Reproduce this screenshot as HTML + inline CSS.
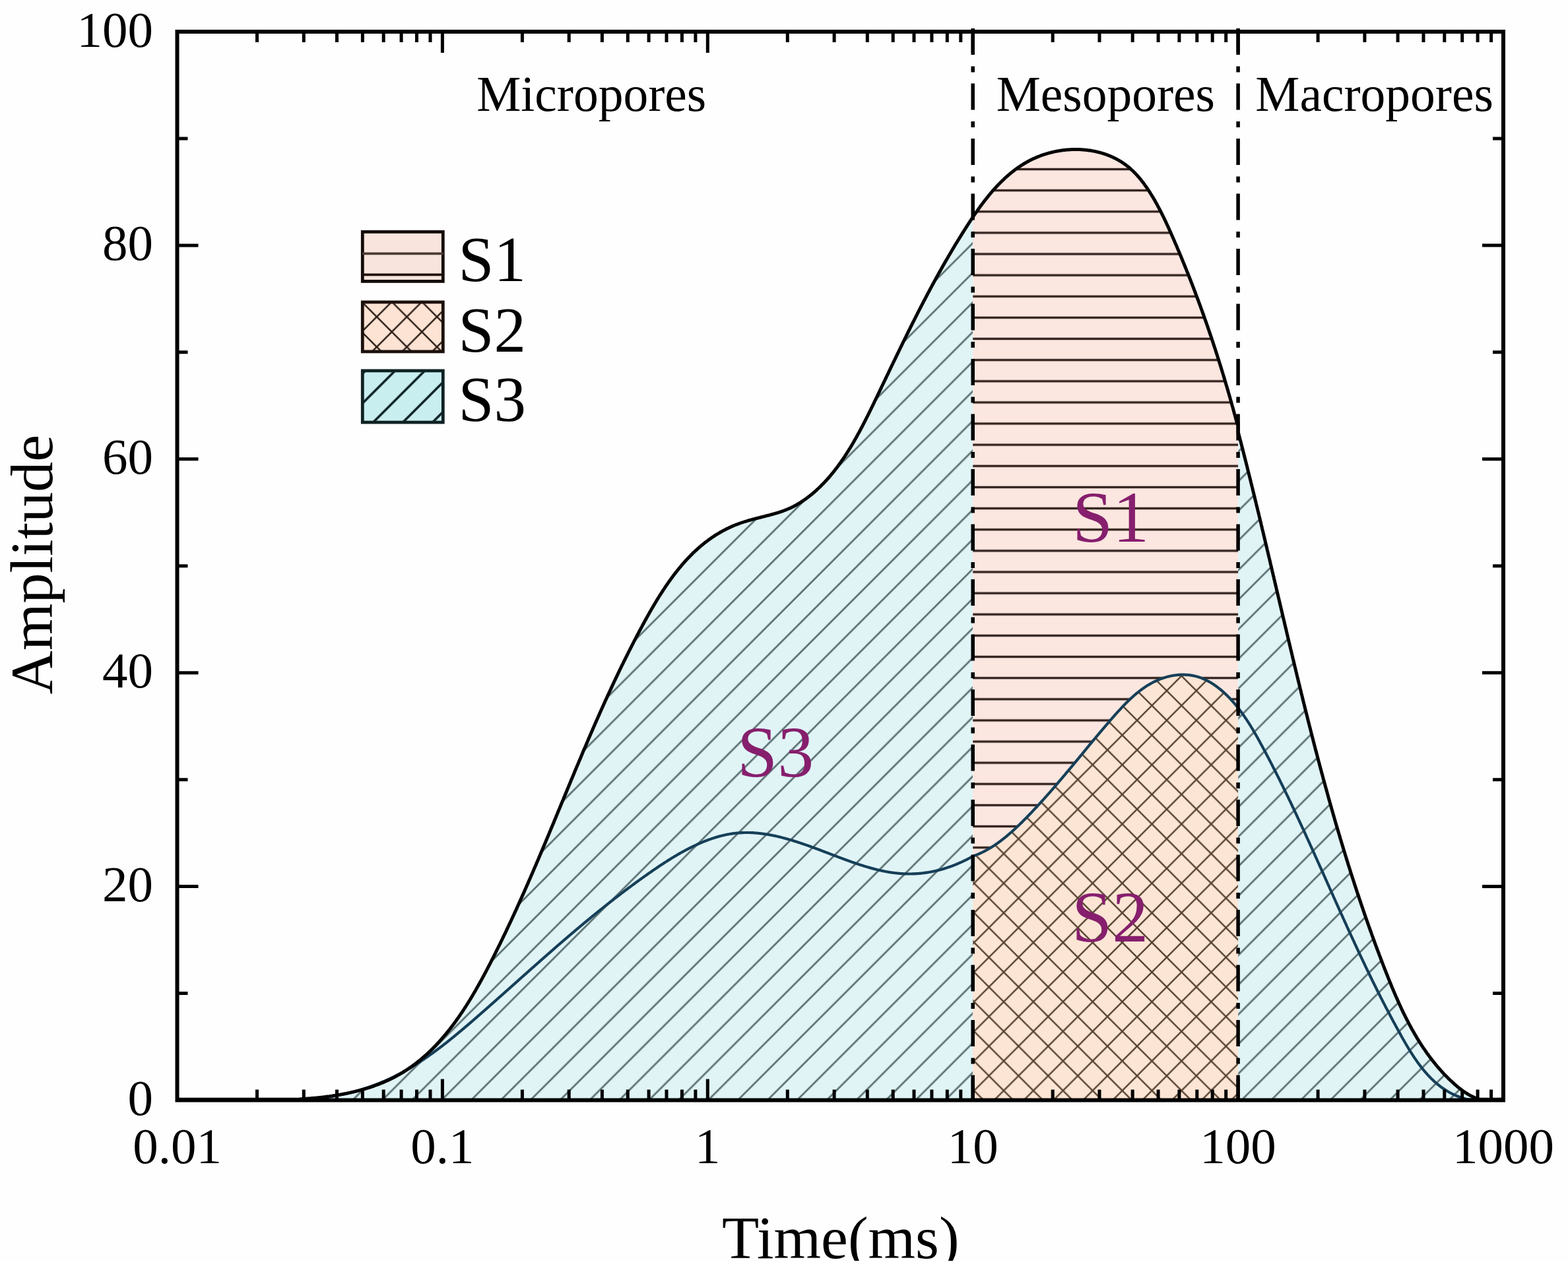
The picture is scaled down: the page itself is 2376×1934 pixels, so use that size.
<!DOCTYPE html>
<html><head><meta charset="utf-8"><style>
html,body{margin:0;padding:0;background:#fff;}
svg{display:block;}
text{font-family:"Liberation Serif","Times New Roman",serif;}
</style></head><body>
<svg width="2376" height="1934" viewBox="0 0 2376 1934" xmlns="http://www.w3.org/2000/svg">
<defs>
<pattern id="p3" patternUnits="userSpaceOnUse" width="44.9" height="44.9" x="1.7" y="0">
<rect width="44.9" height="44.9" fill="#e0f4f6"/>
<path d="M-5,5 L5,-5 M-5,49.9 L49.9,-5 M39.9,49.9 L49.9,39.9" stroke="#5c7173" stroke-width="2.8" fill="none"/>
</pattern>
<pattern id="p1" patternUnits="userSpaceOnUse" width="100" height="32.13" x="0" y="15.52">
<rect width="100" height="32.13" fill="#fbe6e0"/>
<line x1="0" y1="16.065" x2="100" y2="16.065" stroke="#33231f" stroke-width="3.4"/>
</pattern>
<pattern id="p2" patternUnits="userSpaceOnUse" width="44.9" height="44.9" x="16.8" y="14.2">
<rect width="44.9" height="44.9" fill="#fce5d5"/>
<path d="M-5,-5 L49.9,49.9 M-5,5 L5,-5 M-5,49.9 L49.9,-5 M39.9,49.9 L49.9,39.9" stroke="#54422f" stroke-width="2.4" fill="none"/>
</pattern>
<pattern id="lp3" patternUnits="userSpaceOnUse" width="45" height="45" x="35.60" y="0">
<rect width="45" height="45" fill="#c9eef0"/>
<path d="M-5,5 L5,-5 M-5,50 L50,-5 M40,50 L50,40" stroke="#0f2224" stroke-width="3.6" fill="none"/>
</pattern>
<pattern id="lp2" patternUnits="userSpaceOnUse" width="45.6" height="45.6" x="23.70" y="24.20">
<rect width="45.6" height="45.6" fill="#fde3d3"/>
<path d="M-5,-5 L50.6,50.6 M-5,5 L5,-5 M-5,50.6 L50.6,-5 M40.6,50.6 L50.6,40.6" stroke="#2e2019" stroke-width="2.6" fill="none"/>
</pattern>
</defs>
<rect x="0" y="0" width="2376" height="1934" fill="#fefefe"/>
<path d="M268.5,1667.5 L268.5,1666.3 L299.6,1666.3 L301.3,1666.3 L302.9,1666.3 L304.5,1666.3 L306.1,1666.3 L307.8,1666.3 L309.4,1666.3 L311.0,1666.3 L312.6,1666.3 L314.2,1666.3 L315.8,1666.3 L317.4,1666.3 L319.0,1666.3 L320.6,1666.3 L322.2,1666.3 L323.7,1666.3 L325.3,1666.3 L326.9,1666.3 L328.5,1666.3 L330.1,1666.3 L331.6,1666.3 L333.2,1666.3 L334.8,1666.3 L336.3,1666.3 L337.9,1666.3 L339.5,1666.3 L341.0,1666.3 L342.6,1666.3 L344.1,1666.3 L345.7,1666.3 L347.2,1666.3 L348.8,1666.3 L350.3,1666.3 L351.9,1666.3 L353.4,1666.3 L354.9,1666.3 L356.5,1666.3 L358.0,1666.3 L359.5,1666.3 L361.1,1666.3 L362.6,1666.3 L364.1,1666.3 L365.7,1666.3 L367.2,1666.3 L368.7,1666.3 L370.2,1666.3 L371.8,1666.3 L373.3,1666.3 L374.8,1666.3 L376.3,1666.3 L377.8,1666.3 L379.4,1666.3 L380.9,1666.3 L382.4,1666.3 L383.9,1666.3 L385.4,1666.3 L386.9,1666.3 L388.4,1666.3 L389.9,1666.3 L391.5,1666.3 L393.0,1666.3 L394.5,1666.3 L396.0,1666.3 L397.5,1666.3 L399.0,1666.3 L400.5,1666.3 L402.0,1666.3 L403.5,1666.3 L405.0,1666.3 L406.6,1666.3 L408.1,1666.3 L409.6,1666.3 L411.1,1666.3 L412.6,1666.3 L414.1,1666.3 L415.6,1666.3 L417.1,1666.3 L418.6,1666.3 L420.1,1666.3 L421.7,1666.3 L423.2,1666.3 L424.7,1666.3 L426.2,1666.3 L427.7,1666.3 L429.2,1666.3 L430.7,1666.3 L432.3,1666.3 L433.8,1666.3 L435.3,1666.3 L436.8,1666.3 L438.3,1666.3 L439.9,1666.3 L441.4,1666.3 L442.9,1666.3 L444.5,1666.3 L446.0,1666.3 L447.5,1666.3 L449.0,1666.3 L450.6,1666.3 L452.1,1666.3 L453.6,1666.3 L455.2,1665.8 L456.7,1665.7 L458.3,1665.6 L459.8,1665.5 L461.4,1665.4 L462.9,1665.3 L464.5,1665.2 L466.0,1665.1 L467.6,1665.0 L469.1,1664.9 L470.7,1664.7 L472.2,1664.6 L473.8,1664.5 L475.4,1664.3 L476.9,1664.2 L478.5,1664.1 L480.1,1663.9 L481.7,1663.7 L483.2,1663.6 L484.8,1663.4 L486.4,1663.2 L488.0,1663.1 L489.5,1662.9 L491.1,1662.7 L492.7,1662.5 L494.3,1662.3 L495.9,1662.1 L497.4,1661.9 L499.0,1661.7 L500.6,1661.4 L502.2,1661.2 L503.8,1661.0 L505.4,1660.7 L506.9,1660.5 L508.5,1660.3 L510.1,1660.0 L511.7,1659.7 L513.3,1659.5 L514.8,1659.2 L516.4,1658.9 L518.0,1658.6 L519.6,1658.3 L521.1,1658.0 L522.7,1657.7 L524.3,1657.4 L525.8,1657.1 L527.4,1656.8 L529.0,1656.4 L530.5,1656.1 L532.1,1655.7 L533.7,1655.4 L535.2,1655.0 L536.8,1654.7 L538.3,1654.3 L539.9,1653.9 L541.4,1653.5 L542.9,1653.1 L544.5,1652.7 L546.0,1652.3 L547.6,1651.9 L549.1,1651.5 L550.6,1651.0 L552.1,1650.6 L553.6,1650.1 L555.2,1649.7 L556.7,1649.2 L558.2,1648.8 L559.7,1648.3 L561.2,1647.8 L562.7,1647.3 L564.2,1646.8 L565.6,1646.3 L567.1,1645.8 L568.6,1645.2 L570.1,1644.7 L571.5,1644.2 L573.0,1643.6 L574.4,1643.1 L575.9,1642.5 L577.3,1641.9 L578.8,1641.3 L580.2,1640.8 L581.6,1640.2 L583.0,1639.5 L584.5,1638.9 L585.9,1638.3 L587.3,1637.7 L588.7,1637.0 L590.0,1636.4 L591.4,1635.7 L592.8,1635.0 L594.2,1634.4 L595.5,1633.7 L596.9,1633.0 L598.2,1632.3 L599.6,1631.6 L600.9,1630.8 L602.2,1630.1 L603.5,1629.4 L604.9,1628.6 L606.2,1627.9 L607.5,1627.1 L608.8,1626.3 L610.0,1625.6 L611.3,1624.8 L612.6,1624.0 L613.9,1623.2 L615.1,1622.4 L616.4,1621.5 L617.6,1620.7 L618.9,1619.9 L620.1,1619.0 L621.4,1618.2 L622.6,1617.3 L623.8,1616.4 L625.0,1615.6 L626.2,1614.7 L627.4,1613.8 L628.6,1612.9 L629.8,1612.0 L631.0,1611.1 L632.2,1610.2 L633.3,1609.2 L634.5,1608.3 L635.7,1607.4 L636.8,1606.4 L638.0,1605.5 L639.1,1604.5 L640.2,1603.5 L641.4,1602.6 L642.5,1601.6 L643.6,1600.6 L644.7,1599.6 L645.9,1598.6 L647.0,1597.6 L648.1,1596.6 L649.2,1595.5 L650.2,1594.5 L651.3,1593.5 L652.4,1592.4 L653.5,1591.4 L654.6,1590.3 L655.6,1589.3 L656.7,1588.2 L657.7,1587.1 L658.8,1586.1 L659.8,1585.0 L660.9,1583.9 L661.9,1582.8 L662.9,1581.7 L663.9,1580.6 L665.0,1579.5 L666.0,1578.4 L667.0,1577.2 L668.0,1576.1 L669.0,1575.0 L670.0,1573.8 L671.0,1572.7 L672.0,1571.5 L672.9,1570.4 L673.9,1569.2 L674.9,1568.1 L675.9,1566.9 L676.8,1565.7 L677.8,1564.5 L678.7,1563.4 L679.7,1562.2 L680.6,1561.0 L681.6,1559.8 L682.5,1558.6 L683.5,1557.4 L684.4,1556.1 L685.3,1554.9 L686.2,1553.7 L687.2,1552.5 L688.1,1551.2 L689.0,1550.0 L689.9,1548.8 L690.8,1547.5 L691.7,1546.3 L692.6,1545.0 L693.5,1543.8 L694.4,1542.5 L695.2,1541.2 L696.1,1540.0 L697.0,1538.7 L697.9,1537.4 L698.7,1536.2 L699.6,1534.9 L700.5,1533.6 L701.3,1532.3 L702.2,1531.0 L703.0,1529.7 L703.9,1528.4 L704.7,1527.1 L705.6,1525.8 L706.4,1524.5 L707.2,1523.2 L708.1,1521.9 L708.9,1520.5 L709.7,1519.2 L710.5,1517.9 L711.4,1516.6 L712.2,1515.2 L713.0,1513.9 L713.8,1512.6 L714.6,1511.2 L715.4,1509.9 L716.2,1508.5 L717.0,1507.2 L717.8,1505.8 L718.6,1504.5 L719.4,1503.1 L720.2,1501.8 L721.0,1500.4 L721.7,1499.1 L722.5,1497.7 L723.3,1496.3 L724.1,1495.0 L724.8,1493.6 L725.6,1492.2 L726.4,1490.8 L727.1,1489.5 L727.9,1488.1 L728.7,1486.7 L729.4,1485.3 L730.2,1484.0 L730.9,1482.6 L731.7,1481.2 L732.4,1479.8 L733.2,1478.4 L733.9,1477.0 L734.7,1475.6 L735.4,1474.3 L736.1,1472.9 L736.9,1471.5 L737.6,1470.1 L738.3,1468.7 L739.1,1467.3 L739.8,1465.9 L740.5,1464.5 L741.2,1463.1 L742.0,1461.7 L742.7,1460.3 L743.4,1458.9 L744.1,1457.5 L744.8,1456.1 L745.5,1454.7 L746.3,1453.3 L747.0,1451.9 L747.7,1450.5 L748.4,1449.1 L749.1,1447.7 L749.8,1446.3 L750.5,1444.9 L751.2,1443.4 L751.9,1442.0 L752.6,1440.6 L753.3,1439.2 L754.0,1437.8 L754.7,1436.4 L755.4,1435.0 L756.1,1433.6 L756.8,1432.2 L757.5,1430.8 L758.2,1429.4 L758.8,1428.0 L759.5,1426.6 L760.2,1425.2 L760.9,1423.8 L761.6,1422.3 L762.3,1420.9 L762.9,1419.5 L763.6,1418.1 L764.3,1416.7 L765.0,1415.3 L765.7,1413.9 L766.3,1412.5 L767.0,1411.1 L767.7,1409.7 L768.3,1408.2 L769.0,1406.8 L769.7,1405.4 L770.3,1404.0 L771.0,1402.6 L771.7,1401.2 L772.3,1399.8 L773.0,1398.4 L773.7,1397.0 L774.3,1395.5 L775.0,1394.1 L775.6,1392.7 L776.3,1391.3 L776.9,1389.9 L777.6,1388.5 L778.3,1387.1 L778.9,1385.6 L779.6,1384.2 L780.2,1382.8 L780.9,1381.4 L781.5,1380.0 L782.2,1378.6 L782.8,1377.2 L783.4,1375.7 L784.1,1374.3 L784.7,1372.9 L785.4,1371.5 L786.0,1370.1 L786.7,1368.7 L787.3,1367.3 L787.9,1365.8 L788.6,1364.4 L789.2,1363.0 L789.8,1361.6 L790.5,1360.2 L791.1,1358.7 L791.7,1357.3 L792.4,1355.9 L793.0,1354.5 L793.6,1353.1 L794.3,1351.7 L794.9,1350.2 L795.5,1348.8 L796.1,1347.4 L796.8,1346.0 L797.4,1344.6 L798.0,1343.2 L798.6,1341.7 L799.3,1340.3 L799.9,1338.9 L800.5,1337.5 L801.1,1336.1 L801.7,1334.6 L802.4,1333.2 L803.0,1331.8 L803.6,1330.4 L804.2,1329.0 L804.8,1327.5 L805.4,1326.1 L806.1,1324.7 L806.7,1323.3 L807.3,1321.9 L807.9,1320.4 L808.5,1319.0 L809.1,1317.6 L809.7,1316.2 L810.3,1314.8 L811.0,1313.3 L811.6,1311.9 L812.2,1310.5 L812.8,1309.1 L813.4,1307.6 L814.0,1306.2 L814.6,1304.8 L815.2,1303.4 L815.8,1302.0 L816.4,1300.5 L817.0,1299.1 L817.6,1297.7 L818.2,1296.3 L818.8,1294.9 L819.4,1293.4 L820.0,1292.0 L820.6,1290.6 L821.2,1289.2 L821.8,1287.7 L822.4,1286.3 L823.0,1284.9 L823.6,1283.5 L824.2,1282.1 L824.8,1280.6 L825.4,1279.2 L826.0,1277.8 L826.6,1276.4 L827.2,1274.9 L827.8,1273.5 L828.4,1272.1 L829.0,1270.7 L829.6,1269.3 L830.2,1267.8 L830.8,1266.4 L831.4,1265.0 L832.0,1263.6 L832.6,1262.1 L833.1,1260.7 L833.7,1259.3 L834.3,1257.9 L834.9,1256.4 L835.5,1255.0 L836.1,1253.6 L836.7,1252.2 L837.3,1250.8 L837.9,1249.3 L838.5,1247.9 L839.1,1246.5 L839.6,1245.1 L840.2,1243.6 L840.8,1242.2 L841.4,1240.8 L842.0,1239.4 L842.6,1238.0 L843.2,1236.5 L843.8,1235.1 L844.4,1233.7 L844.9,1232.3 L845.5,1230.8 L846.1,1229.4 L846.7,1228.0 L847.3,1226.6 L847.9,1225.2 L848.5,1223.7 L849.1,1222.3 L849.6,1220.9 L850.2,1219.5 L850.8,1218.0 L851.4,1216.6 L852.0,1215.2 L852.6,1213.8 L853.2,1212.4 L853.8,1210.9 L854.3,1209.5 L854.9,1208.1 L855.5,1206.7 L856.1,1205.2 L856.7,1203.8 L857.3,1202.4 L857.9,1201.0 L858.5,1199.6 L859.1,1198.1 L859.6,1196.7 L860.2,1195.3 L860.8,1193.9 L861.4,1192.5 L862.0,1191.0 L862.6,1189.6 L863.2,1188.2 L863.8,1186.8 L864.4,1185.3 L864.9,1183.9 L865.5,1182.5 L866.1,1181.1 L866.7,1179.7 L867.3,1178.2 L867.9,1176.8 L868.5,1175.4 L869.1,1174.0 L869.7,1172.6 L870.3,1171.1 L870.8,1169.7 L871.4,1168.3 L872.0,1166.9 L872.6,1165.5 L873.2,1164.1 L873.8,1162.6 L874.4,1161.2 L875.0,1159.8 L875.6,1158.4 L876.2,1157.0 L876.8,1155.5 L877.4,1154.1 L878.0,1152.7 L878.6,1151.3 L879.2,1149.9 L879.8,1148.5 L880.4,1147.0 L881.0,1145.6 L881.6,1144.2 L882.1,1142.8 L882.7,1141.4 L883.3,1139.9 L883.9,1138.5 L884.5,1137.1 L885.1,1135.7 L885.7,1134.3 L886.4,1132.9 L887.0,1131.5 L887.6,1130.0 L888.2,1128.6 L888.8,1127.2 L889.4,1125.8 L890.0,1124.4 L890.6,1123.0 L891.2,1121.5 L891.8,1120.1 L892.4,1118.7 L893.0,1117.3 L893.6,1115.9 L894.2,1114.5 L894.8,1113.1 L895.4,1111.7 L896.0,1110.2 L896.7,1108.8 L897.3,1107.4 L897.9,1106.0 L898.5,1104.6 L899.1,1103.2 L899.7,1101.8 L900.3,1100.4 L901.0,1098.9 L901.6,1097.5 L902.2,1096.1 L902.8,1094.7 L903.4,1093.3 L904.0,1091.9 L904.7,1090.5 L905.3,1089.1 L905.9,1087.7 L906.5,1086.2 L907.2,1084.8 L907.8,1083.4 L908.4,1082.0 L909.0,1080.6 L909.7,1079.2 L910.3,1077.8 L910.9,1076.4 L911.5,1075.0 L912.2,1073.6 L912.8,1072.2 L913.4,1070.8 L914.1,1069.4 L914.7,1067.9 L915.3,1066.5 L916.0,1065.1 L916.6,1063.7 L917.2,1062.3 L917.9,1060.9 L918.5,1059.5 L919.2,1058.1 L919.8,1056.7 L920.4,1055.3 L921.1,1053.9 L921.7,1052.5 L922.4,1051.1 L923.0,1049.7 L923.7,1048.3 L924.3,1046.9 L925.0,1045.5 L925.6,1044.1 L926.3,1042.7 L926.9,1041.3 L927.6,1039.9 L928.2,1038.5 L928.9,1037.1 L929.5,1035.7 L930.2,1034.3 L930.8,1032.9 L931.5,1031.5 L932.2,1030.1 L932.8,1028.7 L933.5,1027.3 L934.2,1025.9 L934.8,1024.5 L935.5,1023.1 L936.2,1021.7 L936.8,1020.3 L937.5,1018.9 L938.2,1017.5 L938.8,1016.1 L939.5,1014.7 L940.2,1013.3 L940.9,1011.9 L941.5,1010.5 L942.2,1009.1 L942.9,1007.7 L943.6,1006.4 L944.3,1005.0 L944.9,1003.6 L945.6,1002.2 L946.3,1000.8 L947.0,999.4 L947.7,998.0 L948.4,996.6 L949.1,995.2 L949.8,993.8 L950.5,992.4 L951.2,991.1 L951.9,989.7 L952.5,988.3 L953.2,986.9 L954.0,985.5 L954.7,984.1 L955.4,982.7 L956.1,981.3 L956.8,980.0 L957.5,978.6 L958.2,977.2 L958.9,975.8 L959.6,974.4 L960.3,973.0 L961.0,971.6 L961.8,970.3 L962.5,968.9 L963.2,967.5 L963.9,966.1 L964.6,964.7 L965.4,963.3 L966.1,962.0 L966.8,960.6 L967.6,959.2 L968.3,957.8 L969.0,956.4 L969.7,955.1 L970.5,953.7 L971.2,952.3 L972.0,950.9 L972.7,949.6 L973.4,948.2 L974.2,946.8 L974.9,945.4 L975.7,944.1 L976.4,942.7 L977.2,941.3 L977.9,939.9 L978.7,938.6 L979.4,937.2 L980.2,935.8 L981.0,934.5 L981.7,933.1 L982.5,931.7 L983.3,930.4 L984.0,929.0 L984.8,927.6 L985.6,926.3 L986.4,924.9 L987.1,923.6 L987.9,922.2 L988.7,920.9 L989.5,919.5 L990.3,918.2 L991.1,916.8 L991.9,915.5 L992.7,914.1 L993.5,912.8 L994.3,911.5 L995.1,910.1 L995.9,908.8 L996.7,907.5 L997.5,906.1 L998.4,904.8 L999.2,903.5 L1000.0,902.2 L1000.8,900.9 L1001.7,899.6 L1002.5,898.3 L1003.4,897.0 L1004.2,895.7 L1005.0,894.4 L1005.9,893.1 L1006.8,891.8 L1007.6,890.5 L1008.5,889.2 L1009.3,887.9 L1010.2,886.7 L1011.1,885.4 L1012.0,884.1 L1012.8,882.9 L1013.7,881.6 L1014.6,880.4 L1015.5,879.1 L1016.4,877.9 L1017.3,876.6 L1018.2,875.4 L1019.1,874.2 L1020.0,872.9 L1021.0,871.7 L1021.9,870.5 L1022.8,869.3 L1023.7,868.1 L1024.7,866.9 L1025.6,865.7 L1026.6,864.5 L1027.5,863.3 L1028.5,862.1 L1029.4,861.0 L1030.4,859.8 L1031.4,858.6 L1032.4,857.5 L1033.3,856.3 L1034.3,855.2 L1035.3,854.0 L1036.3,852.9 L1037.3,851.8 L1038.3,850.6 L1039.3,849.5 L1040.3,848.4 L1041.4,847.3 L1042.4,846.2 L1043.4,845.1 L1044.5,844.1 L1045.5,843.0 L1046.6,841.9 L1047.6,840.8 L1048.7,839.8 L1049.7,838.7 L1050.8,837.7 L1051.9,836.7 L1053.0,835.6 L1054.1,834.6 L1055.2,833.6 L1056.3,832.6 L1057.4,831.6 L1058.5,830.6 L1059.6,829.6 L1060.7,828.7 L1061.9,827.7 L1063.0,826.7 L1064.2,825.8 L1065.3,824.8 L1066.5,823.9 L1067.6,823.0 L1068.8,822.1 L1070.0,821.2 L1071.2,820.3 L1072.4,819.4 L1073.5,818.5 L1074.8,817.6 L1076.0,816.7 L1077.2,815.9 L1078.4,815.0 L1079.6,814.2 L1080.9,813.4 L1082.1,812.5 L1083.4,811.7 L1084.6,810.9 L1085.9,810.1 L1087.2,809.3 L1088.5,808.6 L1089.8,807.8 L1091.1,807.0 L1092.4,806.3 L1093.7,805.6 L1095.0,804.8 L1096.3,804.1 L1097.7,803.4 L1099.0,802.7 L1100.3,802.0 L1101.7,801.3 L1103.1,800.7 L1104.4,800.0 L1105.8,799.4 L1107.2,798.7 L1108.6,798.1 L1110.0,797.5 L1111.4,796.9 L1112.8,796.3 L1114.3,795.7 L1115.7,795.2 L1117.2,794.6 L1118.6,794.1 L1120.1,793.5 L1121.5,793.0 L1123.0,792.5 L1124.5,792.0 L1126.0,791.5 L1127.5,791.0 L1129.0,790.5 L1130.5,790.1 L1132.1,789.6 L1133.6,789.2 L1135.1,788.7 L1136.7,788.3 L1138.2,787.9 L1139.8,787.4 L1141.3,787.0 L1142.9,786.6 L1144.4,786.2 L1146.0,785.8 L1147.6,785.4 L1149.1,785.0 L1150.7,784.6 L1152.3,784.2 L1153.9,783.8 L1155.4,783.4 L1157.0,783.0 L1158.6,782.6 L1160.1,782.2 L1161.7,781.8 L1163.3,781.4 L1164.8,781.0 L1166.4,780.6 L1167.9,780.2 L1169.5,779.7 L1171.1,779.3 L1172.6,778.9 L1174.1,778.4 L1175.7,778.0 L1177.2,777.5 L1178.7,777.1 L1180.2,776.6 L1181.7,776.1 L1183.3,775.6 L1184.7,775.1 L1186.2,774.6 L1187.7,774.0 L1189.2,773.5 L1190.6,772.9 L1192.1,772.3 L1193.5,771.7 L1194.9,771.1 L1196.4,770.5 L1197.8,769.9 L1199.2,769.2 L1200.5,768.5 L1201.9,767.9 L1203.3,767.2 L1204.6,766.4 L1206.0,765.7 L1207.3,765.0 L1208.6,764.2 L1209.9,763.4 L1211.2,762.6 L1212.5,761.9 L1213.8,761.0 L1215.1,760.2 L1216.3,759.4 L1217.6,758.5 L1218.8,757.7 L1220.1,756.8 L1221.3,755.9 L1222.5,755.0 L1223.7,754.1 L1224.9,753.2 L1226.1,752.3 L1227.3,751.4 L1228.5,750.4 L1229.6,749.5 L1230.8,748.5 L1232.0,747.5 L1233.1,746.6 L1234.2,745.6 L1235.4,744.6 L1236.5,743.6 L1237.6,742.6 L1238.7,741.5 L1239.8,740.5 L1240.9,739.5 L1242.0,738.4 L1243.1,737.4 L1244.2,736.3 L1245.2,735.2 L1246.3,734.2 L1247.4,733.1 L1248.4,732.0 L1249.5,730.9 L1250.5,729.8 L1251.5,728.7 L1252.5,727.6 L1253.6,726.4 L1254.6,725.3 L1255.6,724.1 L1256.6,723.0 L1257.6,721.8 L1258.5,720.7 L1259.5,719.5 L1260.5,718.3 L1261.5,717.2 L1262.4,716.0 L1263.4,714.8 L1264.3,713.6 L1265.3,712.4 L1266.2,711.1 L1267.2,709.9 L1268.1,708.7 L1269.0,707.5 L1269.9,706.2 L1270.8,705.0 L1271.7,703.7 L1272.6,702.5 L1273.5,701.2 L1274.4,700.0 L1275.3,698.7 L1276.2,697.4 L1277.1,696.1 L1277.9,694.9 L1278.8,693.6 L1279.7,692.3 L1280.5,691.0 L1281.4,689.7 L1282.2,688.4 L1283.1,687.1 L1283.9,685.7 L1284.8,684.4 L1285.6,683.1 L1286.4,681.8 L1287.2,680.4 L1288.1,679.1 L1288.9,677.8 L1289.7,676.4 L1290.5,675.1 L1291.3,673.7 L1292.1,672.4 L1292.9,671.0 L1293.7,669.6 L1294.5,668.3 L1295.2,666.9 L1296.0,665.5 L1296.8,664.2 L1297.6,662.8 L1298.3,661.4 L1299.1,660.0 L1299.9,658.6 L1300.6,657.2 L1301.4,655.9 L1302.2,654.5 L1302.9,653.1 L1303.7,651.7 L1304.4,650.3 L1305.1,648.9 L1305.9,647.5 L1306.6,646.1 L1307.4,644.6 L1308.1,643.2 L1308.8,641.8 L1309.5,640.4 L1310.3,639.0 L1311.0,637.6 L1311.7,636.2 L1312.4,634.8 L1313.1,633.3 L1313.9,631.9 L1314.6,630.5 L1315.3,629.1 L1316.0,627.7 L1316.7,626.2 L1317.4,624.8 L1318.1,623.4 L1318.8,622.0 L1319.5,620.5 L1320.2,619.1 L1320.9,617.7 L1321.6,616.3 L1322.3,614.8 L1323.0,613.4 L1323.7,612.0 L1324.4,610.6 L1325.0,609.1 L1325.7,607.7 L1326.4,606.3 L1327.1,604.9 L1327.8,603.4 L1328.5,602.0 L1329.2,600.6 L1329.8,599.2 L1330.5,597.8 L1331.2,596.3 L1331.9,594.9 L1332.6,593.5 L1333.2,592.1 L1333.9,590.7 L1334.6,589.3 L1335.3,587.9 L1335.9,586.4 L1336.6,585.0 L1337.3,583.6 L1338.0,582.2 L1338.6,580.8 L1339.3,579.4 L1340.0,578.0 L1340.7,576.6 L1341.3,575.2 L1342.0,573.8 L1342.7,572.4 L1343.3,571.0 L1344.0,569.6 L1344.7,568.2 L1345.4,566.8 L1346.0,565.4 L1346.7,564.0 L1347.4,562.6 L1348.0,561.2 L1348.7,559.8 L1349.4,558.4 L1350.0,557.0 L1350.7,555.6 L1351.4,554.2 L1352.0,552.9 L1352.7,551.5 L1353.4,550.1 L1354.0,548.7 L1354.7,547.3 L1355.4,545.9 L1356.1,544.5 L1356.7,543.2 L1357.4,541.8 L1358.1,540.4 L1358.7,539.0 L1359.4,537.6 L1360.1,536.2 L1360.7,534.9 L1361.4,533.5 L1362.1,532.1 L1362.7,530.7 L1363.4,529.4 L1364.1,528.0 L1364.7,526.6 L1365.4,525.2 L1366.1,523.9 L1366.7,522.5 L1367.4,521.1 L1368.1,519.7 L1368.7,518.4 L1369.4,517.0 L1370.1,515.6 L1370.8,514.3 L1371.4,512.9 L1372.1,511.5 L1372.8,510.1 L1373.4,508.8 L1374.1,507.4 L1374.8,506.0 L1375.5,504.7 L1376.1,503.3 L1376.8,502.0 L1377.5,500.6 L1378.2,499.2 L1378.8,497.9 L1379.5,496.5 L1380.2,495.1 L1380.9,493.8 L1381.6,492.4 L1382.2,491.1 L1382.9,489.7 L1383.6,488.3 L1384.3,487.0 L1385.0,485.6 L1385.6,484.3 L1386.3,482.9 L1387.0,481.6 L1387.7,480.2 L1388.4,478.9 L1389.1,477.5 L1389.8,476.1 L1390.4,474.8 L1391.1,473.4 L1391.8,472.1 L1392.5,470.7 L1393.2,469.4 L1393.9,468.0 L1394.6,466.7 L1395.3,465.3 L1396.0,464.0 L1396.7,462.6 L1397.4,461.3 L1398.1,459.9 L1398.8,458.6 L1399.5,457.2 L1400.2,455.9 L1400.9,454.5 L1401.6,453.2 L1402.3,451.9 L1403.0,450.5 L1403.7,449.2 L1404.4,447.8 L1405.1,446.5 L1405.8,445.1 L1406.6,443.8 L1407.3,442.4 L1408.0,441.1 L1408.7,439.8 L1409.4,438.4 L1410.1,437.1 L1410.9,435.7 L1411.6,434.4 L1412.3,433.0 L1413.0,431.7 L1413.7,430.4 L1414.5,429.0 L1415.2,427.7 L1415.9,426.3 L1416.7,425.0 L1417.4,423.7 L1418.1,422.3 L1418.9,421.0 L1419.6,419.6 L1420.3,418.3 L1421.1,417.0 L1421.8,415.6 L1422.6,414.3 L1423.3,412.9 L1424.1,411.6 L1424.8,410.3 L1425.6,408.9 L1426.3,407.6 L1427.1,406.3 L1427.8,404.9 L1428.6,403.6 L1429.3,402.2 L1430.1,400.9 L1430.9,399.6 L1431.6,398.2 L1432.4,396.9 L1433.2,395.6 L1433.9,394.2 L1434.7,392.9 L1435.5,391.6 L1436.3,390.2 L1437.0,388.9 L1437.8,387.5 L1438.6,386.2 L1439.4,384.9 L1440.2,383.5 L1441.0,382.2 L1441.7,380.9 L1442.5,379.5 L1443.3,378.2 L1444.1,376.9 L1444.9,375.5 L1445.7,374.2 L1446.5,372.8 L1447.3,371.5 L1448.1,370.2 L1448.9,368.8 L1449.8,367.5 L1450.6,366.2 L1451.4,364.8 L1452.2,363.5 L1453.0,362.2 L1453.8,360.8 L1454.7,359.5 L1455.5,358.2 L1456.3,356.8 L1457.2,355.5 L1458.0,354.1 L1458.8,352.8 L1459.7,351.5 L1460.5,350.1 L1461.4,348.8 L1462.2,347.5 L1463.1,346.1 L1463.9,344.8 L1464.8,343.5 L1465.6,342.1 L1466.5,340.8 L1467.3,339.5 L1468.2,338.1 L1469.1,336.8 L1469.9,335.5 L1470.8,334.1 L1471.7,332.8 L1472.6,331.5 L1473.5,330.2 L1474.2,329.1 L1474.2,1667.5 Z" fill="url(#p3)"/>
<path d="M1876.1,1667.5 L1876.1,657.0 L1876.7,656.6 L1877.1,658.2 L1877.5,659.8 L1877.9,661.4 L1878.3,662.9 L1878.7,664.5 L1879.1,666.1 L1879.5,667.6 L1880.0,669.2 L1880.4,670.8 L1880.8,672.4 L1881.2,673.9 L1881.6,675.5 L1882.0,677.1 L1882.4,678.6 L1882.8,680.2 L1883.2,681.8 L1883.6,683.4 L1884.0,684.9 L1884.4,686.5 L1884.8,688.1 L1885.2,689.6 L1885.6,691.2 L1886.0,692.8 L1886.4,694.4 L1886.8,695.9 L1887.2,697.5 L1887.6,699.1 L1888.0,700.6 L1888.4,702.2 L1888.8,703.8 L1889.2,705.4 L1889.6,706.9 L1890.0,708.5 L1890.4,710.1 L1890.7,711.6 L1891.1,713.2 L1891.5,714.8 L1891.9,716.4 L1892.3,717.9 L1892.7,719.5 L1893.1,721.1 L1893.5,722.7 L1893.9,724.2 L1894.3,725.8 L1894.7,727.4 L1895.1,728.9 L1895.4,730.5 L1895.8,732.1 L1896.2,733.7 L1896.6,735.2 L1897.0,736.8 L1897.4,738.4 L1897.8,740.0 L1898.2,741.5 L1898.5,743.1 L1898.9,744.7 L1899.3,746.2 L1899.7,747.8 L1900.1,749.4 L1900.5,751.0 L1900.9,752.5 L1901.2,754.1 L1901.6,755.7 L1902.0,757.3 L1902.4,758.8 L1902.8,760.4 L1903.2,762.0 L1903.5,763.5 L1903.9,765.1 L1904.3,766.7 L1904.7,768.3 L1905.1,769.8 L1905.5,771.4 L1905.8,773.0 L1906.2,774.6 L1906.6,776.1 L1907.0,777.7 L1907.4,779.3 L1907.7,780.8 L1908.1,782.4 L1908.5,784.0 L1908.9,785.6 L1909.3,787.1 L1909.6,788.7 L1910.0,790.3 L1910.4,791.9 L1910.8,793.4 L1911.1,795.0 L1911.5,796.6 L1911.9,798.2 L1912.3,799.7 L1912.6,801.3 L1913.0,802.9 L1913.4,804.4 L1913.8,806.0 L1914.2,807.6 L1914.5,809.2 L1914.9,810.7 L1915.3,812.3 L1915.7,813.9 L1916.0,815.5 L1916.4,817.0 L1916.8,818.6 L1917.1,820.2 L1917.5,821.7 L1917.9,823.3 L1918.3,824.9 L1918.6,826.5 L1919.0,828.0 L1919.4,829.6 L1919.8,831.2 L1920.1,832.8 L1920.5,834.3 L1920.9,835.9 L1921.3,837.5 L1921.6,839.1 L1922.0,840.6 L1922.4,842.2 L1922.7,843.8 L1923.1,845.3 L1923.5,846.9 L1923.9,848.5 L1924.2,850.1 L1924.6,851.6 L1925.0,853.2 L1925.3,854.8 L1925.7,856.4 L1926.1,857.9 L1926.5,859.5 L1926.8,861.1 L1927.2,862.6 L1927.6,864.2 L1927.9,865.8 L1928.3,867.4 L1928.7,868.9 L1929.0,870.5 L1929.4,872.1 L1929.8,873.7 L1930.2,875.2 L1930.5,876.8 L1930.9,878.4 L1931.3,879.9 L1931.6,881.5 L1932.0,883.1 L1932.4,884.7 L1932.7,886.2 L1933.1,887.8 L1933.5,889.4 L1933.9,891.0 L1934.2,892.5 L1934.6,894.1 L1935.0,895.7 L1935.3,897.2 L1935.7,898.8 L1936.1,900.4 L1936.4,902.0 L1936.8,903.5 L1937.2,905.1 L1937.5,906.7 L1937.9,908.2 L1938.3,909.8 L1938.7,911.4 L1939.0,913.0 L1939.4,914.5 L1939.8,916.1 L1940.1,917.7 L1940.5,919.2 L1940.9,920.8 L1941.2,922.4 L1941.6,924.0 L1942.0,925.5 L1942.4,927.1 L1942.7,928.7 L1943.1,930.2 L1943.5,931.8 L1943.8,933.4 L1944.2,935.0 L1944.6,936.5 L1944.9,938.1 L1945.3,939.7 L1945.7,941.2 L1946.1,942.8 L1946.4,944.4 L1946.8,946.0 L1947.2,947.5 L1947.5,949.1 L1947.9,950.7 L1948.3,952.2 L1948.7,953.8 L1949.0,955.4 L1949.4,956.9 L1949.8,958.5 L1950.1,960.1 L1950.5,961.7 L1950.9,963.2 L1951.3,964.8 L1951.6,966.4 L1952.0,967.9 L1952.4,969.5 L1952.7,971.1 L1953.1,972.7 L1953.5,974.2 L1953.9,975.8 L1954.2,977.4 L1954.6,978.9 L1955.0,980.5 L1955.4,982.1 L1955.7,983.6 L1956.1,985.2 L1956.5,986.8 L1956.9,988.3 L1957.2,989.9 L1957.6,991.5 L1958.0,993.1 L1958.4,994.6 L1958.7,996.2 L1959.1,997.8 L1959.5,999.3 L1959.9,1000.9 L1960.2,1002.5 L1960.6,1004.0 L1961.0,1005.6 L1961.4,1007.2 L1961.7,1008.7 L1962.1,1010.3 L1962.5,1011.9 L1962.9,1013.4 L1963.3,1015.0 L1963.6,1016.6 L1964.0,1018.1 L1964.4,1019.7 L1964.8,1021.3 L1965.1,1022.8 L1965.5,1024.4 L1965.9,1026.0 L1966.3,1027.6 L1966.7,1029.1 L1967.0,1030.7 L1967.4,1032.3 L1967.8,1033.8 L1968.2,1035.4 L1968.6,1037.0 L1969.0,1038.5 L1969.3,1040.1 L1969.7,1041.7 L1970.1,1043.2 L1970.5,1044.8 L1970.9,1046.4 L1971.3,1047.9 L1971.6,1049.5 L1972.0,1051.1 L1972.4,1052.6 L1972.8,1054.2 L1973.2,1055.7 L1973.6,1057.3 L1973.9,1058.9 L1974.3,1060.4 L1974.7,1062.0 L1975.1,1063.6 L1975.5,1065.1 L1975.9,1066.7 L1976.3,1068.3 L1976.7,1069.8 L1977.0,1071.4 L1977.4,1073.0 L1977.8,1074.5 L1978.2,1076.1 L1978.6,1077.7 L1979.0,1079.2 L1979.4,1080.8 L1979.8,1082.4 L1980.2,1083.9 L1980.6,1085.5 L1981.0,1087.0 L1981.3,1088.6 L1981.7,1090.2 L1982.1,1091.7 L1982.5,1093.3 L1982.9,1094.9 L1983.3,1096.4 L1983.7,1098.0 L1984.1,1099.6 L1984.5,1101.1 L1984.9,1102.7 L1985.3,1104.2 L1985.7,1105.8 L1986.1,1107.4 L1986.5,1108.9 L1986.9,1110.5 L1987.3,1112.0 L1987.7,1113.6 L1988.1,1115.2 L1988.5,1116.7 L1988.9,1118.3 L1989.3,1119.9 L1989.7,1121.4 L1990.1,1123.0 L1990.5,1124.5 L1990.9,1126.1 L1991.3,1127.7 L1991.7,1129.2 L1992.1,1130.8 L1992.5,1132.3 L1992.9,1133.9 L1993.3,1135.5 L1993.7,1137.0 L1994.1,1138.6 L1994.6,1140.1 L1995.0,1141.7 L1995.4,1143.3 L1995.8,1144.8 L1996.2,1146.4 L1996.6,1147.9 L1997.0,1149.5 L1997.4,1151.1 L1997.8,1152.6 L1998.2,1154.2 L1998.7,1155.7 L1999.1,1157.3 L1999.5,1158.9 L1999.9,1160.4 L2000.3,1162.0 L2000.7,1163.5 L2001.1,1165.1 L2001.6,1166.6 L2002.0,1168.2 L2002.4,1169.8 L2002.8,1171.3 L2003.2,1172.9 L2003.7,1174.4 L2004.1,1176.0 L2004.5,1177.5 L2004.9,1179.1 L2005.3,1180.7 L2005.8,1182.2 L2006.2,1183.8 L2006.6,1185.3 L2007.0,1186.9 L2007.5,1188.4 L2007.9,1190.0 L2008.3,1191.6 L2008.7,1193.1 L2009.2,1194.7 L2009.6,1196.2 L2010.0,1197.8 L2010.5,1199.3 L2010.9,1200.9 L2011.3,1202.4 L2011.7,1204.0 L2012.2,1205.5 L2012.6,1207.1 L2013.0,1208.7 L2013.5,1210.2 L2013.9,1211.8 L2014.3,1213.3 L2014.8,1214.9 L2015.2,1216.4 L2015.7,1218.0 L2016.1,1219.5 L2016.5,1221.1 L2017.0,1222.6 L2017.4,1224.2 L2017.8,1225.7 L2018.3,1227.3 L2018.7,1228.8 L2019.2,1230.4 L2019.6,1231.9 L2020.1,1233.5 L2020.5,1235.1 L2021.0,1236.6 L2021.4,1238.2 L2021.8,1239.7 L2022.3,1241.3 L2022.7,1242.8 L2023.2,1244.4 L2023.6,1245.9 L2024.1,1247.5 L2024.5,1249.0 L2025.0,1250.6 L2025.4,1252.1 L2025.9,1253.7 L2026.4,1255.2 L2026.8,1256.8 L2027.3,1258.3 L2027.7,1259.9 L2028.2,1261.4 L2028.6,1263.0 L2029.1,1264.5 L2029.6,1266.0 L2030.0,1267.6 L2030.5,1269.1 L2030.9,1270.7 L2031.4,1272.2 L2031.9,1273.8 L2032.3,1275.3 L2032.8,1276.9 L2033.3,1278.4 L2033.7,1280.0 L2034.2,1281.5 L2034.7,1283.1 L2035.1,1284.6 L2035.6,1286.2 L2036.1,1287.7 L2036.5,1289.2 L2037.0,1290.8 L2037.5,1292.3 L2038.0,1293.9 L2038.4,1295.4 L2038.9,1297.0 L2039.4,1298.5 L2039.9,1300.1 L2040.3,1301.6 L2040.8,1303.2 L2041.3,1304.7 L2041.8,1306.2 L2042.3,1307.8 L2042.7,1309.3 L2043.2,1310.9 L2043.7,1312.4 L2044.2,1314.0 L2044.7,1315.5 L2045.2,1317.0 L2045.7,1318.6 L2046.1,1320.1 L2046.6,1321.7 L2047.1,1323.2 L2047.6,1324.7 L2048.1,1326.3 L2048.6,1327.8 L2049.1,1329.4 L2049.6,1330.9 L2050.1,1332.5 L2050.6,1334.0 L2051.1,1335.5 L2051.6,1337.1 L2052.1,1338.6 L2052.6,1340.2 L2053.1,1341.7 L2053.6,1343.2 L2054.1,1344.8 L2054.6,1346.3 L2055.1,1347.8 L2055.6,1349.4 L2056.1,1350.9 L2056.6,1352.5 L2057.1,1354.0 L2057.6,1355.5 L2058.2,1357.1 L2058.7,1358.6 L2059.2,1360.1 L2059.7,1361.7 L2060.2,1363.2 L2060.7,1364.8 L2061.2,1366.3 L2061.8,1367.8 L2062.3,1369.4 L2062.8,1370.9 L2063.3,1372.4 L2063.8,1374.0 L2064.4,1375.5 L2064.9,1377.0 L2065.4,1378.6 L2065.9,1380.1 L2066.5,1381.6 L2067.0,1383.2 L2067.5,1384.7 L2068.0,1386.2 L2068.6,1387.8 L2069.1,1389.3 L2069.6,1390.8 L2070.2,1392.4 L2070.7,1393.9 L2071.3,1395.4 L2071.8,1397.0 L2072.3,1398.5 L2072.9,1400.0 L2073.4,1401.6 L2073.9,1403.1 L2074.5,1404.6 L2075.0,1406.2 L2075.6,1407.7 L2076.1,1409.2 L2076.7,1410.7 L2077.2,1412.3 L2077.8,1413.8 L2078.3,1415.3 L2078.9,1416.9 L2079.4,1418.4 L2080.0,1419.9 L2080.5,1421.4 L2081.1,1423.0 L2081.6,1424.5 L2082.2,1426.0 L2082.8,1427.6 L2083.3,1429.1 L2083.9,1430.6 L2084.4,1432.1 L2085.0,1433.7 L2085.6,1435.2 L2086.1,1436.7 L2086.7,1438.2 L2087.3,1439.8 L2087.8,1441.3 L2088.4,1442.8 L2089.0,1444.3 L2089.6,1445.9 L2090.1,1447.4 L2090.7,1448.9 L2091.3,1450.4 L2091.9,1452.0 L2092.4,1453.5 L2093.0,1455.0 L2093.6,1456.5 L2094.2,1458.1 L2094.8,1459.6 L2095.4,1461.1 L2095.9,1462.6 L2096.5,1464.1 L2097.1,1465.7 L2097.7,1467.2 L2098.3,1468.7 L2098.9,1470.2 L2099.5,1471.7 L2100.1,1473.3 L2100.7,1474.8 L2101.3,1476.3 L2101.9,1477.8 L2102.5,1479.3 L2103.1,1480.9 L2103.7,1482.4 L2104.3,1483.9 L2104.9,1485.4 L2105.5,1486.9 L2106.1,1488.4 L2106.7,1489.9 L2107.4,1491.4 L2108.0,1493.0 L2108.6,1494.5 L2109.2,1496.0 L2109.8,1497.5 L2110.5,1499.0 L2111.1,1500.5 L2111.7,1502.0 L2112.4,1503.5 L2113.0,1505.0 L2113.7,1506.5 L2114.3,1508.0 L2114.9,1509.5 L2115.6,1511.0 L2116.3,1512.5 L2116.9,1513.9 L2117.6,1515.4 L2118.2,1516.9 L2118.9,1518.4 L2119.6,1519.9 L2120.2,1521.4 L2120.9,1522.8 L2121.6,1524.3 L2122.3,1525.8 L2123.0,1527.3 L2123.6,1528.7 L2124.3,1530.2 L2125.0,1531.7 L2125.7,1533.1 L2126.4,1534.6 L2127.1,1536.0 L2127.8,1537.5 L2128.6,1538.9 L2129.3,1540.4 L2130.0,1541.8 L2130.7,1543.3 L2131.5,1544.7 L2132.2,1546.2 L2132.9,1547.6 L2133.7,1549.0 L2134.4,1550.4 L2135.2,1551.9 L2135.9,1553.3 L2136.7,1554.7 L2137.5,1556.1 L2138.2,1557.6 L2139.0,1559.0 L2139.8,1560.4 L2140.6,1561.8 L2141.4,1563.2 L2142.2,1564.6 L2143.0,1566.0 L2143.8,1567.4 L2144.6,1568.7 L2145.4,1570.1 L2146.2,1571.5 L2147.0,1572.9 L2147.9,1574.3 L2148.7,1575.6 L2149.5,1577.0 L2150.4,1578.3 L2151.2,1579.7 L2152.1,1581.1 L2153.0,1582.4 L2153.8,1583.7 L2154.7,1585.1 L2155.6,1586.4 L2156.5,1587.8 L2157.4,1589.1 L2158.3,1590.4 L2159.2,1591.7 L2160.1,1593.0 L2161.0,1594.3 L2161.9,1595.7 L2162.8,1597.0 L2163.8,1598.2 L2164.7,1599.5 L2165.7,1600.8 L2166.6,1602.1 L2167.6,1603.4 L2168.5,1604.7 L2169.5,1605.9 L2170.5,1607.2 L2171.5,1608.4 L2172.5,1609.7 L2173.5,1610.9 L2174.5,1612.2 L2175.5,1613.4 L2176.5,1614.7 L2177.5,1615.9 L2178.6,1617.1 L2179.6,1618.3 L2180.7,1619.5 L2181.7,1620.7 L2182.8,1621.9 L2183.9,1623.1 L2184.9,1624.3 L2186.0,1625.5 L2187.1,1626.7 L2188.2,1627.9 L2189.3,1629.0 L2190.5,1630.2 L2191.6,1631.3 L2192.7,1632.5 L2193.9,1633.6 L2195.0,1634.8 L2196.2,1635.9 L2197.3,1637.0 L2198.5,1638.1 L2199.7,1639.2 L2200.9,1640.3 L2202.1,1641.4 L2203.3,1642.5 L2204.5,1643.6 L2205.7,1644.7 L2206.9,1645.7 L2208.2,1646.8 L2209.4,1647.8 L2210.7,1648.8 L2211.9,1649.8 L2213.2,1650.8 L2214.5,1651.8 L2215.8,1652.7 L2217.1,1653.7 L2218.4,1654.6 L2219.7,1655.5 L2221.0,1656.3 L2222.4,1657.2 L2223.7,1658.0 L2225.1,1658.8 L2226.4,1659.6 L2227.8,1660.4 L2229.2,1661.1 L2230.6,1661.8 L2232.0,1662.5 L2233.4,1663.1 L2234.8,1663.7 L2236.3,1664.3 L2237.7,1664.9 L2239.2,1665.4 L2240.6,1665.9 L2242.1,1666.3 L2243.6,1666.3 L2245.1,1666.3 L2246.6,1666.3 L2248.1,1666.3 L2249.6,1666.3 L2251.1,1666.3 L2252.7,1666.3 L2254.2,1666.3 L2255.8,1666.3 L2257.4,1666.3 L2258.9,1666.3 L2260.5,1666.3 L2262.1,1666.3 L2263.7,1666.3 L2265.4,1666.3 L2267.0,1666.3 L2268.7,1666.3 L2270.3,1666.3 L2272.0,1666.3 L2273.7,1666.3 L2275.4,1666.3 L2277.1,1665.9 L2278.0,1665.9 L2278.0,1667.5 Z" fill="url(#p3)"/>
<path d="M1474.2,329.1 L1474.4,328.8 L1475.2,327.5 L1476.1,326.2 L1477.0,324.9 L1477.9,323.6 L1478.8,322.3 L1479.8,321.0 L1480.7,319.7 L1481.6,318.4 L1482.5,317.1 L1483.4,315.8 L1484.4,314.5 L1485.3,313.2 L1486.2,311.9 L1487.2,310.7 L1488.1,309.4 L1489.1,308.1 L1490.0,306.9 L1491.0,305.6 L1492.0,304.3 L1492.9,303.1 L1493.9,301.9 L1494.9,300.6 L1495.9,299.4 L1496.8,298.2 L1497.8,296.9 L1498.8,295.7 L1499.8,294.5 L1500.8,293.3 L1501.8,292.1 L1502.9,290.9 L1503.9,289.7 L1504.9,288.5 L1506.0,287.4 L1507.0,286.2 L1508.0,285.1 L1509.1,283.9 L1510.1,282.8 L1511.2,281.6 L1512.3,280.5 L1513.3,279.4 L1514.4,278.3 L1515.5,277.2 L1516.6,276.1 L1517.7,275.0 L1518.8,273.9 L1519.9,272.8 L1521.0,271.8 L1522.1,270.7 L1523.3,269.7 L1524.4,268.6 L1525.5,267.6 L1526.7,266.6 L1527.8,265.6 L1529.0,264.6 L1530.2,263.6 L1531.3,262.6 L1532.5,261.7 L1533.7,260.7 L1534.9,259.8 L1536.1,258.8 L1537.3,257.9 L1538.5,257.0 L1539.7,256.1 L1541.0,255.2 L1542.2,254.3 L1543.4,253.5 L1544.7,252.6 L1546.0,251.8 L1547.2,250.9 L1548.5,250.1 L1549.8,249.3 L1551.1,248.5 L1552.4,247.7 L1553.7,247.0 L1555.0,246.2 L1556.3,245.5 L1557.6,244.7 L1559.0,244.0 L1560.3,243.3 L1561.7,242.6 L1563.0,241.9 L1564.4,241.3 L1565.8,240.6 L1567.2,240.0 L1568.5,239.4 L1570.0,238.7 L1571.4,238.2 L1572.8,237.6 L1574.2,237.0 L1575.6,236.5 L1577.1,235.9 L1578.5,235.4 L1580.0,234.9 L1581.4,234.4 L1582.9,233.9 L1584.4,233.5 L1585.8,233.0 L1587.3,232.6 L1588.8,232.2 L1590.3,231.7 L1591.8,231.4 L1593.3,231.0 L1594.8,230.6 L1596.3,230.3 L1597.8,229.9 L1599.3,229.6 L1600.8,229.3 L1602.4,229.0 L1603.9,228.8 L1605.4,228.5 L1606.9,228.3 L1608.5,228.0 L1610.0,227.8 L1611.6,227.6 L1613.1,227.5 L1614.6,227.3 L1616.2,227.1 L1617.7,227.0 L1619.3,226.9 L1620.8,226.8 L1622.4,226.7 L1623.9,226.6 L1625.5,226.6 L1627.0,226.5 L1628.5,226.5 L1630.1,226.5 L1631.6,226.5 L1633.2,226.5 L1634.7,226.6 L1636.3,226.6 L1637.8,226.7 L1639.3,226.8 L1640.9,226.9 L1642.4,227.0 L1644.0,227.2 L1645.5,227.3 L1647.0,227.5 L1648.5,227.7 L1650.1,227.9 L1651.6,228.1 L1653.1,228.3 L1654.6,228.6 L1656.1,228.9 L1657.6,229.1 L1659.1,229.4 L1660.6,229.8 L1662.1,230.1 L1663.6,230.5 L1665.0,230.8 L1666.5,231.2 L1668.0,231.6 L1669.4,232.0 L1670.9,232.5 L1672.3,232.9 L1673.8,233.4 L1675.2,233.9 L1676.6,234.4 L1678.1,234.9 L1679.5,235.5 L1680.9,236.0 L1682.3,236.6 L1683.7,237.2 L1685.1,237.8 L1686.4,238.4 L1687.8,239.1 L1689.2,239.7 L1690.5,240.4 L1691.8,241.1 L1693.2,241.8 L1694.5,242.6 L1695.8,243.3 L1697.1,244.1 L1698.4,244.9 L1699.7,245.7 L1700.9,246.5 L1702.2,247.3 L1703.4,248.2 L1704.7,249.1 L1705.9,250.0 L1707.1,250.9 L1708.3,251.8 L1709.5,252.8 L1710.7,253.7 L1711.8,254.7 L1713.0,255.7 L1714.1,256.8 L1715.2,257.8 L1716.4,258.8 L1717.5,259.9 L1718.6,261.0 L1719.6,262.1 L1720.7,263.2 L1721.8,264.3 L1722.8,265.5 L1723.9,266.6 L1724.9,267.8 L1725.9,269.0 L1726.9,270.2 L1727.9,271.4 L1728.9,272.6 L1729.9,273.8 L1730.8,275.1 L1731.8,276.3 L1732.8,277.6 L1733.7,278.8 L1734.6,280.1 L1735.5,281.4 L1736.5,282.7 L1737.4,284.0 L1738.3,285.3 L1739.1,286.6 L1740.0,287.9 L1740.9,289.2 L1741.8,290.6 L1742.6,291.9 L1743.4,293.3 L1744.3,294.6 L1745.1,296.0 L1745.9,297.3 L1746.8,298.7 L1747.6,300.0 L1748.4,301.4 L1749.2,302.7 L1749.9,304.1 L1750.7,305.5 L1751.5,306.9 L1752.3,308.2 L1753.0,309.6 L1753.8,311.0 L1754.5,312.4 L1755.3,313.8 L1756.0,315.1 L1756.7,316.5 L1757.5,317.9 L1758.2,319.3 L1758.9,320.7 L1759.6,322.1 L1760.3,323.5 L1761.0,324.9 L1761.7,326.3 L1762.4,327.7 L1763.1,329.1 L1763.8,330.5 L1764.5,331.9 L1765.1,333.3 L1765.8,334.7 L1766.5,336.1 L1767.1,337.5 L1767.8,339.0 L1768.4,340.4 L1769.1,341.8 L1769.7,343.2 L1770.4,344.6 L1771.0,346.0 L1771.7,347.5 L1772.3,348.9 L1772.9,350.3 L1773.6,351.7 L1774.2,353.1 L1774.8,354.6 L1775.5,356.0 L1776.1,357.4 L1776.7,358.8 L1777.3,360.2 L1778.0,361.7 L1778.6,363.1 L1779.2,364.5 L1779.8,365.9 L1780.4,367.4 L1781.0,368.8 L1781.6,370.2 L1782.3,371.6 L1782.9,373.1 L1783.5,374.5 L1784.1,375.9 L1784.7,377.4 L1785.3,378.8 L1785.9,380.2 L1786.5,381.6 L1787.1,383.1 L1787.7,384.5 L1788.3,385.9 L1788.9,387.3 L1789.5,388.8 L1790.1,390.2 L1790.7,391.6 L1791.2,393.1 L1791.8,394.5 L1792.4,395.9 L1793.0,397.4 L1793.6,398.8 L1794.2,400.2 L1794.8,401.6 L1795.3,403.1 L1795.9,404.5 L1796.5,405.9 L1797.1,407.4 L1797.7,408.8 L1798.2,410.2 L1798.8,411.7 L1799.4,413.1 L1800.0,414.5 L1800.5,416.0 L1801.1,417.4 L1801.7,418.8 L1802.2,420.3 L1802.8,421.7 L1803.4,423.2 L1803.9,424.6 L1804.5,426.0 L1805.0,427.5 L1805.6,428.9 L1806.2,430.3 L1806.7,431.8 L1807.3,433.2 L1807.8,434.7 L1808.4,436.1 L1808.9,437.5 L1809.5,439.0 L1810.0,440.4 L1810.6,441.9 L1811.1,443.3 L1811.7,444.7 L1812.2,446.2 L1812.7,447.6 L1813.3,449.1 L1813.8,450.5 L1814.4,451.9 L1814.9,453.4 L1815.4,454.8 L1816.0,456.3 L1816.5,457.7 L1817.0,459.2 L1817.6,460.6 L1818.1,462.1 L1818.6,463.5 L1819.2,464.9 L1819.7,466.4 L1820.2,467.8 L1820.7,469.3 L1821.3,470.7 L1821.8,472.2 L1822.3,473.6 L1822.8,475.1 L1823.4,476.5 L1823.9,478.0 L1824.4,479.4 L1824.9,480.9 L1825.4,482.3 L1825.9,483.8 L1826.4,485.2 L1827.0,486.7 L1827.5,488.1 L1828.0,489.6 L1828.5,491.0 L1829.0,492.5 L1829.5,493.9 L1830.0,495.4 L1830.5,496.9 L1831.0,498.3 L1831.5,499.8 L1832.0,501.2 L1832.5,502.7 L1833.0,504.1 L1833.5,505.6 L1834.0,507.1 L1834.5,508.5 L1835.0,510.0 L1835.5,511.4 L1835.9,512.9 L1836.4,514.3 L1836.9,515.8 L1837.4,517.3 L1837.9,518.7 L1838.4,520.2 L1838.9,521.7 L1839.3,523.1 L1839.8,524.6 L1840.3,526.0 L1840.8,527.5 L1841.3,529.0 L1841.7,530.4 L1842.2,531.9 L1842.7,533.4 L1843.2,534.8 L1843.6,536.3 L1844.1,537.8 L1844.6,539.2 L1845.0,540.7 L1845.5,542.2 L1846.0,543.6 L1846.4,545.1 L1846.9,546.6 L1847.4,548.0 L1847.8,549.5 L1848.3,551.0 L1848.8,552.5 L1849.2,553.9 L1849.7,555.4 L1850.1,556.9 L1850.6,558.3 L1851.0,559.8 L1851.5,561.3 L1852.0,562.8 L1852.4,564.2 L1852.9,565.7 L1853.3,567.2 L1853.8,568.7 L1854.2,570.2 L1854.6,571.6 L1855.1,573.1 L1855.5,574.6 L1856.0,576.1 L1856.4,577.5 L1856.9,579.0 L1857.3,580.5 L1857.7,582.0 L1858.2,583.5 L1858.6,585.0 L1859.1,586.4 L1859.5,587.9 L1859.9,589.4 L1860.4,590.9 L1860.8,592.4 L1861.2,593.9 L1861.6,595.3 L1862.1,596.8 L1862.5,598.3 L1862.9,599.8 L1863.4,601.3 L1863.8,602.8 L1864.2,604.3 L1864.6,605.8 L1865.1,607.3 L1865.5,608.7 L1865.9,610.2 L1866.3,611.7 L1866.7,613.2 L1867.1,614.7 L1867.6,616.2 L1868.0,617.7 L1868.4,619.2 L1868.8,620.7 L1869.2,622.2 L1869.6,623.7 L1870.0,625.2 L1870.4,626.7 L1870.9,628.2 L1871.3,629.7 L1871.7,631.2 L1872.1,632.7 L1872.5,634.2 L1872.9,635.7 L1873.3,637.2 L1873.7,638.7 L1874.1,640.2 L1874.5,641.7 L1876.1,641.0 L1876.1,1073.0 L1875.4,1072.1 L1874.5,1071.0 L1873.6,1069.8 L1872.7,1068.7 L1871.7,1067.6 L1870.8,1066.5 L1869.8,1065.4 L1868.9,1064.3 L1867.9,1063.2 L1866.9,1062.1 L1865.9,1061.0 L1864.9,1059.9 L1863.9,1058.8 L1862.9,1057.8 L1861.9,1056.7 L1860.8,1055.7 L1859.8,1054.6 L1858.8,1053.6 L1857.7,1052.6 L1856.6,1051.5 L1855.6,1050.5 L1854.5,1049.6 L1853.4,1048.6 L1852.3,1047.6 L1851.2,1046.6 L1850.1,1045.7 L1848.9,1044.8 L1847.8,1043.9 L1846.7,1043.0 L1845.5,1042.1 L1844.4,1041.2 L1843.2,1040.3 L1842.0,1039.5 L1840.9,1038.7 L1839.7,1037.8 L1838.5,1037.1 L1837.3,1036.3 L1836.1,1035.5 L1834.9,1034.8 L1833.6,1034.0 L1832.4,1033.3 L1831.2,1032.7 L1829.9,1032.0 L1828.7,1031.3 L1827.4,1030.7 L1826.2,1030.1 L1824.9,1029.5 L1823.6,1029.0 L1822.3,1028.4 L1821.0,1027.9 L1819.7,1027.4 L1818.4,1026.9 L1817.1,1026.5 L1815.8,1026.1 L1814.5,1025.7 L1813.2,1025.3 L1811.8,1025.0 L1810.5,1024.6 L1809.1,1024.3 L1807.8,1024.1 L1806.4,1023.8 L1805.1,1023.6 L1803.7,1023.4 L1802.3,1023.2 L1801.0,1023.1 L1799.6,1022.9 L1798.2,1022.8 L1796.8,1022.8 L1795.4,1022.7 L1794.1,1022.7 L1792.7,1022.6 L1791.3,1022.7 L1789.9,1022.7 L1788.5,1022.7 L1787.1,1022.8 L1785.7,1022.9 L1784.3,1023.0 L1783.0,1023.2 L1781.6,1023.3 L1780.2,1023.5 L1778.8,1023.7 L1777.4,1024.0 L1776.0,1024.2 L1774.7,1024.5 L1773.3,1024.7 L1771.9,1025.1 L1770.5,1025.4 L1769.2,1025.7 L1767.8,1026.1 L1766.5,1026.5 L1765.1,1026.9 L1763.8,1027.3 L1762.4,1027.7 L1761.1,1028.2 L1759.8,1028.7 L1758.4,1029.1 L1757.1,1029.7 L1755.8,1030.2 L1754.5,1030.7 L1753.2,1031.3 L1751.9,1031.9 L1750.7,1032.5 L1749.4,1033.1 L1748.1,1033.7 L1746.9,1034.3 L1745.6,1035.0 L1744.4,1035.7 L1743.2,1036.4 L1742.0,1037.1 L1740.7,1037.8 L1739.5,1038.5 L1738.3,1039.3 L1737.1,1040.0 L1736.0,1040.8 L1734.8,1041.6 L1733.6,1042.4 L1732.4,1043.2 L1731.3,1044.0 L1730.1,1044.9 L1729.0,1045.7 L1727.8,1046.6 L1726.7,1047.4 L1725.6,1048.3 L1724.5,1049.2 L1723.3,1050.1 L1722.2,1051.0 L1721.1,1052.0 L1720.0,1052.9 L1718.9,1053.8 L1717.8,1054.8 L1716.8,1055.8 L1715.7,1056.7 L1714.6,1057.7 L1713.5,1058.7 L1712.5,1059.7 L1711.4,1060.7 L1710.4,1061.7 L1709.3,1062.7 L1708.3,1063.7 L1707.2,1064.8 L1706.2,1065.8 L1705.2,1066.8 L1704.2,1067.9 L1703.1,1068.9 L1702.1,1070.0 L1701.1,1071.1 L1700.1,1072.1 L1699.1,1073.2 L1698.1,1074.3 L1697.1,1075.4 L1696.1,1076.4 L1695.1,1077.5 L1694.1,1078.6 L1693.1,1079.7 L1692.1,1080.8 L1691.1,1081.9 L1690.2,1083.0 L1689.2,1084.1 L1688.2,1085.2 L1687.3,1086.3 L1686.3,1087.4 L1685.3,1088.5 L1684.4,1089.6 L1683.4,1090.7 L1682.4,1091.8 L1681.5,1093.0 L1680.5,1094.1 L1679.6,1095.2 L1678.6,1096.3 L1677.7,1097.4 L1676.7,1098.5 L1675.8,1099.6 L1674.8,1100.7 L1673.9,1101.8 L1673.0,1102.9 L1672.0,1104.0 L1671.1,1105.1 L1670.2,1106.2 L1669.2,1107.3 L1668.3,1108.4 L1667.4,1109.5 L1666.4,1110.6 L1665.5,1111.7 L1664.6,1112.8 L1663.6,1113.9 L1662.7,1115.0 L1661.8,1116.1 L1660.9,1117.2 L1660.0,1118.3 L1659.0,1119.4 L1658.1,1120.5 L1657.2,1121.6 L1656.3,1122.7 L1655.4,1123.8 L1654.5,1124.9 L1653.6,1126.0 L1652.6,1127.1 L1651.7,1128.2 L1650.8,1129.3 L1649.9,1130.4 L1649.0,1131.5 L1648.1,1132.6 L1647.2,1133.7 L1646.3,1134.8 L1645.4,1135.9 L1644.5,1137.0 L1643.6,1138.1 L1642.7,1139.2 L1641.8,1140.3 L1640.9,1141.4 L1640.0,1142.5 L1639.1,1143.6 L1638.2,1144.6 L1637.3,1145.7 L1636.4,1146.8 L1635.5,1147.9 L1634.6,1149.0 L1633.7,1150.1 L1632.8,1151.2 L1631.9,1152.3 L1631.0,1153.4 L1630.1,1154.5 L1629.2,1155.5 L1628.3,1156.6 L1627.4,1157.7 L1626.5,1158.8 L1625.6,1159.9 L1624.7,1161.0 L1623.8,1162.1 L1622.9,1163.2 L1622.0,1164.2 L1621.1,1165.3 L1620.1,1166.4 L1619.2,1167.5 L1618.3,1168.6 L1617.4,1169.7 L1616.5,1170.7 L1615.6,1171.8 L1614.7,1172.9 L1613.8,1174.0 L1612.9,1175.1 L1612.0,1176.1 L1611.1,1177.2 L1610.2,1178.3 L1609.3,1179.4 L1608.4,1180.4 L1607.5,1181.5 L1606.5,1182.6 L1605.6,1183.7 L1604.7,1184.7 L1603.8,1185.8 L1602.9,1186.9 L1602.0,1188.0 L1601.1,1189.0 L1600.1,1190.1 L1599.2,1191.2 L1598.3,1192.2 L1597.4,1193.3 L1596.4,1194.4 L1595.5,1195.5 L1594.6,1196.5 L1593.7,1197.6 L1592.7,1198.7 L1591.8,1199.7 L1590.9,1200.8 L1589.9,1201.9 L1589.0,1202.9 L1588.1,1204.0 L1587.1,1205.0 L1586.2,1206.1 L1585.2,1207.2 L1584.3,1208.2 L1583.3,1209.3 L1582.4,1210.3 L1581.4,1211.4 L1580.5,1212.5 L1579.5,1213.5 L1578.6,1214.6 L1577.6,1215.6 L1576.7,1216.7 L1575.7,1217.7 L1574.7,1218.8 L1573.8,1219.8 L1572.8,1220.9 L1571.8,1222.0 L1570.9,1223.0 L1569.9,1224.1 L1568.9,1225.1 L1567.9,1226.1 L1566.9,1227.2 L1566.0,1228.2 L1565.0,1229.3 L1564.0,1230.3 L1563.0,1231.4 L1562.0,1232.4 L1561.0,1233.5 L1560.0,1234.5 L1559.0,1235.5 L1558.0,1236.6 L1557.0,1237.6 L1556.0,1238.7 L1554.9,1239.7 L1553.9,1240.7 L1552.9,1241.8 L1551.9,1242.8 L1550.9,1243.8 L1549.8,1244.9 L1548.8,1245.9 L1547.8,1246.9 L1546.7,1247.9 L1545.7,1249.0 L1544.6,1250.0 L1543.6,1251.0 L1542.5,1252.0 L1541.5,1253.0 L1540.4,1254.0 L1539.3,1255.0 L1538.3,1256.0 L1537.2,1257.0 L1536.1,1258.0 L1535.1,1258.9 L1534.0,1259.9 L1532.9,1260.9 L1531.8,1261.8 L1530.7,1262.8 L1529.6,1263.7 L1528.5,1264.7 L1527.4,1265.6 L1526.3,1266.6 L1525.2,1267.5 L1524.1,1268.4 L1523.0,1269.3 L1521.9,1270.2 L1520.7,1271.1 L1519.6,1272.0 L1518.5,1272.9 L1517.3,1273.8 L1516.2,1274.6 L1515.1,1275.5 L1513.9,1276.3 L1512.7,1277.2 L1511.6,1278.0 L1510.4,1278.8 L1509.3,1279.6 L1508.1,1280.4 L1506.9,1281.2 L1505.7,1282.0 L1504.5,1282.7 L1503.4,1283.5 L1502.2,1284.2 L1501.0,1285.0 L1499.8,1285.7 L1498.5,1286.4 L1497.3,1287.1 L1496.1,1287.8 L1494.9,1288.5 L1493.7,1289.2 L1492.4,1289.8 L1491.2,1290.5 L1490.0,1291.1 L1488.7,1291.7 L1487.5,1292.3 L1486.2,1292.9 L1484.9,1293.5 L1483.7,1294.0 L1482.4,1294.6 L1481.1,1295.1 L1479.8,1295.6 L1478.5,1296.1 L1477.3,1296.6 L1476.0,1297.1 L1474.6,1297.6 L1474.2,1297.5 Z" fill="url(#p1)"/>
<path d="M1474.2,1667.5 L1474.2,1297.5 L1474.6,1297.6 L1476.0,1297.1 L1477.3,1296.6 L1478.5,1296.1 L1479.8,1295.6 L1481.1,1295.1 L1482.4,1294.6 L1483.7,1294.0 L1484.9,1293.5 L1486.2,1292.9 L1487.5,1292.3 L1488.7,1291.7 L1490.0,1291.1 L1491.2,1290.5 L1492.4,1289.8 L1493.7,1289.2 L1494.9,1288.5 L1496.1,1287.8 L1497.3,1287.1 L1498.5,1286.4 L1499.8,1285.7 L1501.0,1285.0 L1502.2,1284.2 L1503.4,1283.5 L1504.5,1282.7 L1505.7,1282.0 L1506.9,1281.2 L1508.1,1280.4 L1509.3,1279.6 L1510.4,1278.8 L1511.6,1278.0 L1512.7,1277.2 L1513.9,1276.3 L1515.1,1275.5 L1516.2,1274.6 L1517.3,1273.8 L1518.5,1272.9 L1519.6,1272.0 L1520.7,1271.1 L1521.9,1270.2 L1523.0,1269.3 L1524.1,1268.4 L1525.2,1267.5 L1526.3,1266.6 L1527.4,1265.6 L1528.5,1264.7 L1529.6,1263.7 L1530.7,1262.8 L1531.8,1261.8 L1532.9,1260.9 L1534.0,1259.9 L1535.1,1258.9 L1536.1,1258.0 L1537.2,1257.0 L1538.3,1256.0 L1539.3,1255.0 L1540.4,1254.0 L1541.5,1253.0 L1542.5,1252.0 L1543.6,1251.0 L1544.6,1250.0 L1545.7,1249.0 L1546.7,1247.9 L1547.8,1246.9 L1548.8,1245.9 L1549.8,1244.9 L1550.9,1243.8 L1551.9,1242.8 L1552.9,1241.8 L1553.9,1240.7 L1554.9,1239.7 L1556.0,1238.7 L1557.0,1237.6 L1558.0,1236.6 L1559.0,1235.5 L1560.0,1234.5 L1561.0,1233.5 L1562.0,1232.4 L1563.0,1231.4 L1564.0,1230.3 L1565.0,1229.3 L1566.0,1228.2 L1566.9,1227.2 L1567.9,1226.1 L1568.9,1225.1 L1569.9,1224.1 L1570.9,1223.0 L1571.8,1222.0 L1572.8,1220.9 L1573.8,1219.8 L1574.7,1218.8 L1575.7,1217.7 L1576.7,1216.7 L1577.6,1215.6 L1578.6,1214.6 L1579.5,1213.5 L1580.5,1212.5 L1581.4,1211.4 L1582.4,1210.3 L1583.3,1209.3 L1584.3,1208.2 L1585.2,1207.2 L1586.2,1206.1 L1587.1,1205.0 L1588.1,1204.0 L1589.0,1202.9 L1589.9,1201.9 L1590.9,1200.8 L1591.8,1199.7 L1592.7,1198.7 L1593.7,1197.6 L1594.6,1196.5 L1595.5,1195.5 L1596.4,1194.4 L1597.4,1193.3 L1598.3,1192.2 L1599.2,1191.2 L1600.1,1190.1 L1601.1,1189.0 L1602.0,1188.0 L1602.9,1186.9 L1603.8,1185.8 L1604.7,1184.7 L1605.6,1183.7 L1606.5,1182.6 L1607.5,1181.5 L1608.4,1180.4 L1609.3,1179.4 L1610.2,1178.3 L1611.1,1177.2 L1612.0,1176.1 L1612.9,1175.1 L1613.8,1174.0 L1614.7,1172.9 L1615.6,1171.8 L1616.5,1170.7 L1617.4,1169.7 L1618.3,1168.6 L1619.2,1167.5 L1620.1,1166.4 L1621.1,1165.3 L1622.0,1164.2 L1622.9,1163.2 L1623.8,1162.1 L1624.7,1161.0 L1625.6,1159.9 L1626.5,1158.8 L1627.4,1157.7 L1628.3,1156.6 L1629.2,1155.5 L1630.1,1154.5 L1631.0,1153.4 L1631.9,1152.3 L1632.8,1151.2 L1633.7,1150.1 L1634.6,1149.0 L1635.5,1147.9 L1636.4,1146.8 L1637.3,1145.7 L1638.2,1144.6 L1639.1,1143.6 L1640.0,1142.5 L1640.9,1141.4 L1641.8,1140.3 L1642.7,1139.2 L1643.6,1138.1 L1644.5,1137.0 L1645.4,1135.9 L1646.3,1134.8 L1647.2,1133.7 L1648.1,1132.6 L1649.0,1131.5 L1649.9,1130.4 L1650.8,1129.3 L1651.7,1128.2 L1652.6,1127.1 L1653.6,1126.0 L1654.5,1124.9 L1655.4,1123.8 L1656.3,1122.7 L1657.2,1121.6 L1658.1,1120.5 L1659.0,1119.4 L1660.0,1118.3 L1660.9,1117.2 L1661.8,1116.1 L1662.7,1115.0 L1663.6,1113.9 L1664.6,1112.8 L1665.5,1111.7 L1666.4,1110.6 L1667.4,1109.5 L1668.3,1108.4 L1669.2,1107.3 L1670.2,1106.2 L1671.1,1105.1 L1672.0,1104.0 L1673.0,1102.9 L1673.9,1101.8 L1674.8,1100.7 L1675.8,1099.6 L1676.7,1098.5 L1677.7,1097.4 L1678.6,1096.3 L1679.6,1095.2 L1680.5,1094.1 L1681.5,1093.0 L1682.4,1091.8 L1683.4,1090.7 L1684.4,1089.6 L1685.3,1088.5 L1686.3,1087.4 L1687.3,1086.3 L1688.2,1085.2 L1689.2,1084.1 L1690.2,1083.0 L1691.1,1081.9 L1692.1,1080.8 L1693.1,1079.7 L1694.1,1078.6 L1695.1,1077.5 L1696.1,1076.4 L1697.1,1075.4 L1698.1,1074.3 L1699.1,1073.2 L1700.1,1072.1 L1701.1,1071.1 L1702.1,1070.0 L1703.1,1068.9 L1704.2,1067.9 L1705.2,1066.8 L1706.2,1065.8 L1707.2,1064.8 L1708.3,1063.7 L1709.3,1062.7 L1710.4,1061.7 L1711.4,1060.7 L1712.5,1059.7 L1713.5,1058.7 L1714.6,1057.7 L1715.7,1056.7 L1716.8,1055.8 L1717.8,1054.8 L1718.9,1053.8 L1720.0,1052.9 L1721.1,1052.0 L1722.2,1051.0 L1723.3,1050.1 L1724.5,1049.2 L1725.6,1048.3 L1726.7,1047.4 L1727.8,1046.6 L1729.0,1045.7 L1730.1,1044.9 L1731.3,1044.0 L1732.4,1043.2 L1733.6,1042.4 L1734.8,1041.6 L1736.0,1040.8 L1737.1,1040.0 L1738.3,1039.3 L1739.5,1038.5 L1740.7,1037.8 L1742.0,1037.1 L1743.2,1036.4 L1744.4,1035.7 L1745.6,1035.0 L1746.9,1034.3 L1748.1,1033.7 L1749.4,1033.1 L1750.7,1032.5 L1751.9,1031.9 L1753.2,1031.3 L1754.5,1030.7 L1755.8,1030.2 L1757.1,1029.7 L1758.4,1029.1 L1759.8,1028.7 L1761.1,1028.2 L1762.4,1027.7 L1763.8,1027.3 L1765.1,1026.9 L1766.5,1026.5 L1767.8,1026.1 L1769.2,1025.7 L1770.5,1025.4 L1771.9,1025.1 L1773.3,1024.7 L1774.7,1024.5 L1776.0,1024.2 L1777.4,1024.0 L1778.8,1023.7 L1780.2,1023.5 L1781.6,1023.3 L1783.0,1023.2 L1784.3,1023.0 L1785.7,1022.9 L1787.1,1022.8 L1788.5,1022.7 L1789.9,1022.7 L1791.3,1022.7 L1792.7,1022.6 L1794.1,1022.7 L1795.4,1022.7 L1796.8,1022.8 L1798.2,1022.8 L1799.6,1022.9 L1801.0,1023.1 L1802.3,1023.2 L1803.7,1023.4 L1805.1,1023.6 L1806.4,1023.8 L1807.8,1024.1 L1809.1,1024.3 L1810.5,1024.6 L1811.8,1025.0 L1813.2,1025.3 L1814.5,1025.7 L1815.8,1026.1 L1817.1,1026.5 L1818.4,1026.9 L1819.7,1027.4 L1821.0,1027.9 L1822.3,1028.4 L1823.6,1029.0 L1824.9,1029.5 L1826.2,1030.1 L1827.4,1030.7 L1828.7,1031.3 L1829.9,1032.0 L1831.2,1032.7 L1832.4,1033.3 L1833.6,1034.0 L1834.9,1034.8 L1836.1,1035.5 L1837.3,1036.3 L1838.5,1037.1 L1839.7,1037.8 L1840.9,1038.7 L1842.0,1039.5 L1843.2,1040.3 L1844.4,1041.2 L1845.5,1042.1 L1846.7,1043.0 L1847.8,1043.9 L1848.9,1044.8 L1850.1,1045.7 L1851.2,1046.6 L1852.3,1047.6 L1853.4,1048.6 L1854.5,1049.6 L1855.6,1050.5 L1856.6,1051.5 L1857.7,1052.6 L1858.8,1053.6 L1859.8,1054.6 L1860.8,1055.7 L1861.9,1056.7 L1862.9,1057.8 L1863.9,1058.8 L1864.9,1059.9 L1865.9,1061.0 L1866.9,1062.1 L1867.9,1063.2 L1868.9,1064.3 L1869.8,1065.4 L1870.8,1066.5 L1871.7,1067.6 L1872.7,1068.7 L1873.6,1069.8 L1874.5,1071.0 L1875.4,1072.1 L1876.1,1073.0 L1876.1,1667.5 Z" fill="url(#p2)"/>
<path d="M268.5,1666.3 L298.5,1666.3 L299.5,1666.3 L300.4,1666.3 L301.4,1666.3 L302.4,1666.3 L303.3,1666.3 L304.3,1666.3 L305.3,1666.3 L306.2,1666.3 L307.2,1666.3 L308.2,1666.3 L309.1,1666.3 L310.1,1666.3 L311.1,1666.3 L312.0,1666.3 L313.0,1666.3 L314.0,1666.3 L314.9,1666.3 L315.9,1666.3 L316.9,1666.3 L317.9,1666.3 L318.8,1666.3 L319.8,1666.3 L320.8,1666.3 L321.7,1666.3 L322.7,1666.3 L323.7,1666.3 L324.6,1666.3 L325.6,1666.3 L326.6,1666.3 L327.5,1666.3 L328.5,1666.3 L329.5,1666.3 L330.4,1666.3 L331.4,1666.3 L332.4,1666.3 L333.3,1666.3 L334.3,1666.3 L335.3,1666.3 L336.2,1666.3 L337.2,1666.3 L338.2,1666.3 L339.1,1666.3 L340.1,1666.3 L341.1,1666.3 L342.0,1666.3 L343.0,1666.3 L344.0,1666.3 L344.9,1666.3 L345.9,1666.3 L346.9,1666.3 L347.8,1666.3 L348.8,1666.3 L349.8,1666.3 L350.7,1666.3 L351.7,1666.3 L352.7,1666.3 L353.6,1666.3 L354.6,1666.3 L355.6,1666.3 L356.5,1666.3 L357.5,1666.3 L358.5,1666.3 L359.4,1666.3 L360.4,1666.3 L361.4,1666.3 L362.3,1666.3 L363.3,1666.3 L364.2,1666.3 L365.2,1666.3 L366.2,1666.3 L367.1,1666.3 L368.1,1666.3 L369.1,1666.3 L370.0,1666.3 L371.0,1666.3 L371.9,1666.3 L372.9,1666.3 L373.9,1666.3 L374.8,1666.3 L375.8,1666.3 L376.8,1666.3 L377.7,1666.3 L378.7,1666.3 L379.6,1666.3 L380.6,1666.3 L381.6,1666.3 L382.5,1666.3 L383.5,1666.3 L384.4,1666.3 L385.4,1666.3 L386.4,1666.3 L387.3,1666.3 L388.3,1666.3 L389.2,1666.3 L390.2,1666.3 L391.2,1666.3 L392.1,1666.3 L393.1,1666.3 L394.0,1666.3 L395.0,1666.3 L395.9,1666.3 L396.9,1666.3 L397.9,1666.3 L398.8,1666.3 L399.8,1666.3 L400.7,1666.3 L401.7,1666.3 L402.6,1666.3 L403.6,1666.3 L404.6,1666.3 L405.5,1666.3 L406.5,1666.3 L407.4,1666.3 L408.4,1666.3 L409.3,1666.3 L410.3,1666.3 L411.2,1666.3 L412.2,1666.3 L413.1,1666.3 L414.1,1666.3 L415.0,1666.3 L416.0,1666.3 L416.9,1666.3 L417.9,1666.3 L418.8,1666.3 L419.8,1666.3 L420.7,1666.3 L421.7,1666.3 L422.6,1666.3 L423.6,1666.3 L424.5,1666.3 L425.5,1666.3 L426.4,1666.3 L427.4,1666.3 L428.3,1666.3 L429.3,1666.3 L430.2,1666.3 L431.2,1666.3 L432.1,1666.3 L433.1,1666.3 L434.0,1666.3 L434.9,1666.3 L435.9,1666.3 L436.8,1666.3 L437.8,1666.3 L438.7,1666.3 L439.7,1666.3 L440.6,1666.3 L441.5,1666.3 L442.5,1666.3 L443.4,1666.3 L444.4,1666.3 L445.3,1666.3 L446.3,1666.3 L447.2,1666.3 L448.1,1666.3 L449.1,1666.3 L450.0,1666.3 L450.9,1666.3 L451.9,1666.3 L452.8,1666.3 L453.8,1666.3 L454.7,1666.3 L455.6,1666.3 L456.6,1666.3 L457.5,1666.3 L458.4,1666.3 L459.4,1666.2 L460.3,1666.2 L461.2,1666.1 L462.2,1666.1 L463.1,1666.0 L464.0,1666.0 L465.0,1665.9 L465.9,1665.8 L466.8,1665.8 L467.8,1665.7 L468.7,1665.7 L469.6,1665.6 L470.5,1665.5 L471.5,1665.4 L472.4,1665.4 L473.3,1665.3 L474.3,1665.2 L475.2,1665.1 L476.1,1665.1 L477.0,1665.0 L478.0,1664.9 L478.9,1664.8 L479.8,1664.7 L480.7,1664.6 L481.7,1664.5 L482.6,1664.5 L483.5,1664.4 L484.4,1664.3 L485.3,1664.2 L486.3,1664.1 L487.2,1663.9 L488.1,1663.8 L489.0,1663.7 L489.9,1663.6 L490.9,1663.5 L491.8,1663.4 L492.7,1663.3 L493.6,1663.1 L494.5,1663.0 L495.4,1662.9 L496.4,1662.8 L497.3,1662.6 L498.2,1662.5 L499.1,1662.4 L500.0,1662.2 L500.9,1662.1 L501.8,1661.9 L502.7,1661.8 L503.6,1661.6 L504.6,1661.5 L505.5,1661.3 L506.4,1661.2 L507.3,1661.0 L508.2,1660.9 L509.1,1660.7 L510.0,1660.5 L510.9,1660.4 L511.8,1660.2 L512.7,1660.0 L513.6,1659.9 L514.5,1659.7 L515.4,1659.5 L516.3,1659.3 L517.2,1659.1 L518.1,1659.0 L519.0,1658.8 L519.9,1658.6 L520.8,1658.4 L521.7,1658.2 L522.6,1658.0 L523.5,1657.8 L524.4,1657.6 L525.3,1657.4 L526.2,1657.2 L527.1,1657.0 L528.0,1656.7 L528.9,1656.5 L529.8,1656.3 L530.7,1656.1 L531.6,1655.9 L532.4,1655.6 L533.3,1655.4 L534.2,1655.2 L535.1,1655.0 L536.0,1654.7 L536.9,1654.5 L537.8,1654.2 L538.7,1654.0 L539.5,1653.8 L540.4,1653.5 L541.3,1653.3 L542.2,1653.0 L543.1,1652.8 L544.0,1652.5 L544.8,1652.2 L545.7,1652.0 L546.6,1651.7 L547.5,1651.4 L548.3,1651.2 L549.2,1650.9 L550.1,1650.6 L551.0,1650.4 L551.8,1650.1 L552.7,1649.8 L553.6,1649.5 L554.5,1649.2 L555.3,1648.9 L556.2,1648.7 L557.1,1648.4 L558.0,1648.1 L558.8,1647.8 L559.7,1647.5 L560.6,1647.2 L561.4,1646.9 L562.3,1646.6 L563.2,1646.2 L564.0,1645.9 L564.9,1645.6 L565.7,1645.3 L566.6,1645.0 L567.5,1644.7 L568.3,1644.3 L569.2,1644.0 L570.0,1643.7 L570.9,1643.3 L571.8,1643.0 L572.6,1642.7 L573.5,1642.3 L574.3,1642.0 L575.2,1641.7 L576.0,1641.3 L576.9,1641.0 L577.7,1640.6 L578.6,1640.3 L579.4,1639.9 L580.3,1639.5 L581.1,1639.2 L582.0,1638.8 L582.8,1638.5 L583.7,1638.1 L584.5,1637.7 L585.4,1637.3 L586.2,1637.0 L587.0,1636.6 L587.9,1636.2 L588.7,1635.8 L589.6,1635.4 L590.4,1635.1 L591.2,1634.7 L592.1,1634.3 L592.9,1633.9 L593.8,1633.5 L594.6,1633.1 L595.4,1632.7 L596.3,1632.3 L597.1,1631.9 L597.9,1631.5 L598.8,1631.0 L599.6,1630.6 L600.4,1630.2 L601.2,1629.8 L602.1,1629.4 L602.9,1628.9 L603.7,1628.5 L604.5,1628.1 L605.4,1627.7 L606.2,1627.2 L607.0,1626.8 L607.8,1626.4 L608.6,1625.9 L609.5,1625.5 L610.3,1625.0 L611.1,1624.6 L611.9,1624.1 L612.7,1623.7 L613.5,1623.2 L614.4,1622.8 L615.2,1622.3 L616.0,1621.8 L616.8,1621.4 L617.6,1620.9 L618.4,1620.4 L619.2,1620.0 L620.0,1619.5 L620.8,1619.0 L621.6,1618.5 L622.4,1618.1 L623.2,1617.6 L624.0,1617.1 L624.8,1616.6 L625.6,1616.1 L626.4,1615.6 L627.2,1615.1 L628.0,1614.6 L628.8,1614.1 L629.6,1613.6 L630.4,1613.1 L631.2,1612.6 L632.0,1612.1 L632.8,1611.6 L633.6,1611.1 L634.4,1610.6 L635.2,1610.1 L636.0,1609.6 L636.8,1609.1 L637.6,1608.5 L638.3,1608.0 L639.1,1607.5 L639.9,1607.0 L640.7,1606.4 L641.5,1605.9 L642.3,1605.4 L643.1,1604.9 L643.8,1604.3 L644.6,1603.8 L645.4,1603.2 L646.2,1602.7 L647.0,1602.2 L647.7,1601.6 L648.5,1601.1 L649.3,1600.5 L650.1,1600.0 L650.8,1599.4 L651.6,1598.9 L652.4,1598.3 L653.2,1597.8 L653.9,1597.2 L654.7,1596.7 L655.5,1596.1 L656.3,1595.6 L657.0,1595.0 L657.8,1594.4 L658.6,1593.9 L659.3,1593.3 L660.1,1592.8 L660.9,1592.2 L661.6,1591.6 L662.4,1591.0 L663.2,1590.5 L663.9,1589.9 L664.7,1589.3 L665.5,1588.8 L666.2,1588.2 L667.0,1587.6 L667.7,1587.0 L668.5,1586.4 L669.3,1585.9 L670.0,1585.3 L670.8,1584.7 L671.5,1584.1 L672.3,1583.5 L673.0,1582.9 L673.8,1582.3 L674.5,1581.8 L675.3,1581.2 L676.1,1580.6 L676.8,1580.0 L677.6,1579.4 L678.3,1578.8 L679.1,1578.2 L679.8,1577.6 L680.6,1577.0 L681.3,1576.4 L682.1,1575.8 L682.8,1575.2 L683.5,1574.6 L684.3,1574.0 L685.0,1573.4 L685.8,1572.8 L686.5,1572.2 L687.3,1571.6 L688.0,1571.0 L688.8,1570.4 L689.5,1569.7 L690.2,1569.1 L691.0,1568.5 L691.7,1567.9 L692.5,1567.3 L693.2,1566.7 L693.9,1566.1 L694.7,1565.5 L695.4,1564.8 L696.2,1564.2 L696.9,1563.6 L697.6,1563.0 L698.4,1562.4 L699.1,1561.8 L699.8,1561.1 L700.6,1560.5 L701.3,1559.9 L702.0,1559.3 L702.8,1558.7 L703.5,1558.0 L704.2,1557.4 L705.0,1556.8 L705.7,1556.2 L706.4,1555.6 L707.2,1554.9 L707.9,1554.3 L708.6,1553.7 L709.3,1553.1 L710.1,1552.4 L710.8,1551.8 L711.5,1551.2 L712.3,1550.6 L713.0,1549.9 L713.7,1549.3 L714.4,1548.7 L715.2,1548.1 L715.9,1547.4 L716.6,1546.8 L717.3,1546.2 L718.1,1545.5 L718.8,1544.9 L719.5,1544.3 L720.2,1543.7 L720.9,1543.0 L721.7,1542.4 L722.4,1541.8 L723.1,1541.2 L723.8,1540.5 L724.5,1539.9 L725.3,1539.3 L726.0,1538.6 L726.7,1538.0 L727.4,1537.4 L728.1,1536.8 L728.8,1536.1 L729.6,1535.5 L730.3,1534.9 L731.0,1534.2 L731.7,1533.6 L732.4,1533.0 L733.1,1532.4 L733.9,1531.7 L734.6,1531.1 L735.3,1530.5 L736.0,1529.8 L736.7,1529.2 L737.4,1528.6 L738.1,1528.0 L738.8,1527.3 L739.6,1526.7 L740.3,1526.1 L741.0,1525.5 L741.7,1524.8 L742.4,1524.2 L743.1,1523.6 L743.8,1522.9 L744.5,1522.3 L745.2,1521.7 L745.9,1521.1 L746.7,1520.4 L747.4,1519.8 L748.1,1519.2 L748.8,1518.6 L749.5,1517.9 L750.2,1517.3 L750.9,1516.7 L751.6,1516.1 L752.3,1515.4 L753.0,1514.8 L753.7,1514.2 L754.4,1513.5 L755.1,1512.9 L755.8,1512.3 L756.5,1511.7 L757.2,1511.0 L757.9,1510.4 L758.7,1509.8 L759.4,1509.2 L760.1,1508.5 L760.8,1507.9 L761.5,1507.3 L762.2,1506.7 L762.9,1506.0 L763.6,1505.4 L764.3,1504.8 L765.0,1504.2 L765.7,1503.5 L766.4,1502.9 L767.1,1502.3 L767.8,1501.7 L768.5,1501.0 L769.2,1500.4 L769.9,1499.8 L770.6,1499.2 L771.3,1498.6 L772.0,1497.9 L772.7,1497.3 L773.4,1496.7 L774.1,1496.1 L774.8,1495.4 L775.5,1494.8 L776.2,1494.2 L776.9,1493.6 L777.6,1492.9 L778.3,1492.3 L779.0,1491.7 L779.7,1491.1 L780.4,1490.5 L781.1,1489.8 L781.8,1489.2 L782.5,1488.6 L783.2,1488.0 L783.9,1487.3 L784.6,1486.7 L785.2,1486.1 L785.9,1485.5 L786.6,1484.9 L787.3,1484.2 L788.0,1483.6 L788.7,1483.0 L789.4,1482.4 L790.1,1481.8 L790.8,1481.1 L791.5,1480.5 L792.2,1479.9 L792.9,1479.3 L793.6,1478.7 L794.3,1478.0 L795.0,1477.4 L795.7,1476.8 L796.4,1476.2 L797.1,1475.6 L797.8,1474.9 L798.5,1474.3 L799.2,1473.7 L799.9,1473.1 L800.6,1472.5 L801.3,1471.8 L802.0,1471.2 L802.6,1470.6 L803.3,1470.0 L804.0,1469.4 L804.7,1468.8 L805.4,1468.1 L806.1,1467.5 L806.8,1466.9 L807.5,1466.3 L808.2,1465.7 L808.9,1465.1 L809.6,1464.4 L810.3,1463.8 L811.0,1463.2 L811.7,1462.6 L812.4,1462.0 L813.1,1461.4 L813.8,1460.7 L814.5,1460.1 L815.2,1459.5 L815.9,1458.9 L816.6,1458.3 L817.3,1457.7 L817.9,1457.1 L818.6,1456.4 L819.3,1455.8 L820.0,1455.2 L820.7,1454.6 L821.4,1454.0 L822.1,1453.4 L822.8,1452.8 L823.5,1452.1 L824.2,1451.5 L824.9,1450.9 L825.6,1450.3 L826.3,1449.7 L827.0,1449.1 L827.7,1448.5 L828.4,1447.8 L829.1,1447.2 L829.8,1446.6 L830.5,1446.0 L831.2,1445.4 L831.9,1444.8 L832.6,1444.2 L833.3,1443.6 L834.0,1443.0 L834.7,1442.3 L835.4,1441.7 L836.1,1441.1 L836.8,1440.5 L837.5,1439.9 L838.2,1439.3 L838.9,1438.7 L839.5,1438.1 L840.2,1437.5 L840.9,1436.9 L841.6,1436.3 L842.3,1435.6 L843.0,1435.0 L843.7,1434.4 L844.4,1433.8 L845.1,1433.2 L845.8,1432.6 L846.5,1432.0 L847.2,1431.4 L847.9,1430.8 L848.6,1430.2 L849.3,1429.6 L850.0,1429.0 L850.8,1428.4 L851.5,1427.7 L852.2,1427.1 L852.9,1426.5 L853.6,1425.9 L854.3,1425.3 L855.0,1424.7 L855.7,1424.1 L856.4,1423.5 L857.1,1422.9 L857.8,1422.3 L858.5,1421.7 L859.2,1421.1 L859.9,1420.5 L860.6,1419.9 L861.3,1419.3 L862.0,1418.7 L862.7,1418.1 L863.4,1417.5 L864.1,1416.9 L864.8,1416.3 L865.5,1415.7 L866.2,1415.1 L867.0,1414.5 L867.7,1413.9 L868.4,1413.3 L869.1,1412.7 L869.8,1412.1 L870.5,1411.5 L871.2,1410.9 L871.9,1410.3 L872.6,1409.7 L873.3,1409.1 L874.0,1408.5 L874.7,1407.9 L875.5,1407.3 L876.2,1406.7 L876.9,1406.1 L877.6,1405.5 L878.3,1404.9 L879.0,1404.3 L879.7,1403.7 L880.4,1403.1 L881.2,1402.5 L881.9,1401.9 L882.6,1401.3 L883.3,1400.7 L884.0,1400.1 L884.7,1399.5 L885.4,1398.9 L886.2,1398.3 L886.9,1397.7 L887.6,1397.1 L888.3,1396.5 L889.0,1395.9 L889.7,1395.3 L890.5,1394.7 L891.2,1394.2 L891.9,1393.6 L892.6,1393.0 L893.3,1392.4 L894.1,1391.8 L894.8,1391.2 L895.5,1390.6 L896.2,1390.0 L896.9,1389.4 L897.7,1388.8 L898.4,1388.2 L899.1,1387.6 L899.8,1387.1 L900.6,1386.5 L901.3,1385.9 L902.0,1385.3 L902.7,1384.7 L903.5,1384.1 L904.2,1383.5 L904.9,1382.9 L905.6,1382.3 L906.4,1381.8 L907.1,1381.2 L907.8,1380.6 L908.6,1380.0 L909.3,1379.4 L910.0,1378.8 L910.8,1378.2 L911.5,1377.6 L912.2,1377.1 L912.9,1376.5 L913.7,1375.9 L914.4,1375.3 L915.1,1374.7 L915.9,1374.1 L916.6,1373.5 L917.4,1373.0 L918.1,1372.4 L918.8,1371.8 L919.6,1371.2 L920.3,1370.6 L921.0,1370.0 L921.8,1369.5 L922.5,1368.9 L923.3,1368.3 L924.0,1367.7 L924.7,1367.1 L925.5,1366.6 L926.2,1366.0 L927.0,1365.4 L927.7,1364.8 L928.4,1364.2 L929.2,1363.7 L929.9,1363.1 L930.7,1362.5 L931.4,1361.9 L932.2,1361.3 L932.9,1360.8 L933.7,1360.2 L934.4,1359.6 L935.2,1359.0 L935.9,1358.5 L936.7,1357.9 L937.4,1357.3 L938.2,1356.7 L938.9,1356.2 L939.7,1355.6 L940.4,1355.0 L941.2,1354.4 L941.9,1353.9 L942.7,1353.3 L943.4,1352.7 L944.2,1352.1 L945.0,1351.6 L945.7,1351.0 L946.5,1350.4 L947.2,1349.8 L948.0,1349.3 L948.7,1348.7 L949.5,1348.1 L950.3,1347.6 L951.0,1347.0 L951.8,1346.4 L952.6,1345.8 L953.3,1345.3 L954.1,1344.7 L954.9,1344.1 L955.6,1343.6 L956.4,1343.0 L957.2,1342.4 L957.9,1341.9 L958.7,1341.3 L959.5,1340.7 L960.2,1340.2 L961.0,1339.6 L961.8,1339.0 L962.5,1338.5 L963.3,1337.9 L964.1,1337.3 L964.9,1336.8 L965.6,1336.2 L966.4,1335.6 L967.2,1335.1 L968.0,1334.5 L968.8,1334.0 L969.5,1333.4 L970.3,1332.8 L971.1,1332.3 L971.9,1331.7 L972.7,1331.1 L973.4,1330.6 L974.2,1330.0 L975.0,1329.5 L975.8,1328.9 L976.6,1328.3 L977.4,1327.8 L978.2,1327.2 L978.9,1326.7 L979.7,1326.1 L980.5,1325.6 L981.3,1325.0 L982.1,1324.4 L982.9,1323.9 L983.7,1323.3 L984.5,1322.8 L985.3,1322.2 L986.1,1321.7 L986.9,1321.1 L987.7,1320.6 L988.5,1320.0 L989.3,1319.4 L990.1,1318.9 L990.9,1318.3 L991.7,1317.8 L992.5,1317.2 L993.3,1316.7 L994.1,1316.2 L994.9,1315.6 L995.7,1315.1 L996.5,1314.5 L997.3,1314.0 L998.1,1313.4 L998.9,1312.9 L999.7,1312.4 L1000.5,1311.8 L1001.3,1311.3 L1002.1,1310.7 L1003.0,1310.2 L1003.8,1309.7 L1004.6,1309.1 L1005.4,1308.6 L1006.2,1308.1 L1007.0,1307.6 L1007.8,1307.0 L1008.7,1306.5 L1009.5,1306.0 L1010.3,1305.5 L1011.1,1304.9 L1011.9,1304.4 L1012.7,1303.9 L1013.6,1303.4 L1014.4,1302.9 L1015.2,1302.4 L1016.0,1301.8 L1016.9,1301.3 L1017.7,1300.8 L1018.5,1300.3 L1019.3,1299.8 L1020.2,1299.3 L1021.0,1298.8 L1021.8,1298.3 L1022.6,1297.8 L1023.5,1297.3 L1024.3,1296.8 L1025.1,1296.4 L1026.0,1295.9 L1026.8,1295.4 L1027.6,1294.9 L1028.4,1294.4 L1029.3,1293.9 L1030.1,1293.5 L1030.9,1293.0 L1031.8,1292.5 L1032.6,1292.0 L1033.5,1291.6 L1034.3,1291.1 L1035.1,1290.7 L1036.0,1290.2 L1036.8,1289.7 L1037.6,1289.3 L1038.5,1288.8 L1039.3,1288.4 L1040.2,1287.9 L1041.0,1287.5 L1041.9,1287.1 L1042.7,1286.6 L1043.5,1286.2 L1044.4,1285.7 L1045.2,1285.3 L1046.1,1284.9 L1046.9,1284.5 L1047.8,1284.0 L1048.6,1283.6 L1049.5,1283.2 L1050.3,1282.8 L1051.2,1282.4 L1052.0,1282.0 L1052.9,1281.6 L1053.7,1281.2 L1054.6,1280.8 L1055.4,1280.4 L1056.3,1280.0 L1057.1,1279.6 L1058.0,1279.2 L1058.8,1278.8 L1059.7,1278.5 L1060.5,1278.1 L1061.4,1277.7 L1062.2,1277.4 L1063.1,1277.0 L1063.9,1276.6 L1064.8,1276.3 L1065.7,1275.9 L1066.5,1275.6 L1067.4,1275.2 L1068.2,1274.9 L1069.1,1274.6 L1070.0,1274.2 L1070.8,1273.9 L1071.7,1273.6 L1072.5,1273.2 L1073.4,1272.9 L1074.3,1272.6 L1075.1,1272.3 L1076.0,1272.0 L1076.9,1271.7 L1077.7,1271.4 L1078.6,1271.1 L1079.5,1270.8 L1080.3,1270.5 L1081.2,1270.2 L1082.1,1270.0 L1082.9,1269.7 L1083.8,1269.4 L1084.7,1269.1 L1085.5,1268.9 L1086.4,1268.6 L1087.3,1268.4 L1088.1,1268.1 L1089.0,1267.9 L1089.9,1267.6 L1090.7,1267.4 L1091.6,1267.2 L1092.5,1267.0 L1093.4,1266.7 L1094.2,1266.5 L1095.1,1266.3 L1096.0,1266.1 L1096.9,1265.9 L1097.7,1265.7 L1098.6,1265.5 L1099.5,1265.3 L1100.4,1265.1 L1101.2,1265.0 L1102.1,1264.8 L1103.0,1264.6 L1103.9,1264.5 L1104.8,1264.3 L1105.6,1264.1 L1106.5,1264.0 L1107.4,1263.8 L1108.3,1263.7 L1109.2,1263.6 L1110.0,1263.4 L1110.9,1263.3 L1111.8,1263.2 L1112.7,1263.1 L1113.6,1263.0 L1114.4,1262.9 L1115.3,1262.8 L1116.2,1262.7 L1117.1,1262.6 L1118.0,1262.5 L1118.9,1262.5 L1119.7,1262.4 L1120.6,1262.3 L1121.5,1262.3 L1122.4,1262.2 L1123.3,1262.2 L1124.2,1262.1 L1125.1,1262.1 L1125.9,1262.1 L1126.8,1262.0 L1127.7,1262.0 L1128.6,1262.0 L1129.5,1262.0 L1130.4,1262.0 L1131.3,1262.0 L1132.2,1262.0 L1133.1,1262.0 L1133.9,1262.0 L1134.8,1262.0 L1135.7,1262.0 L1136.6,1262.0 L1137.5,1262.1 L1138.4,1262.1 L1139.3,1262.2 L1140.2,1262.2 L1141.1,1262.2 L1142.0,1262.3 L1142.9,1262.4 L1143.8,1262.4 L1144.7,1262.5 L1145.5,1262.6 L1146.4,1262.6 L1147.3,1262.7 L1148.2,1262.8 L1149.1,1262.9 L1150.0,1263.0 L1150.9,1263.1 L1151.8,1263.2 L1152.7,1263.3 L1153.6,1263.4 L1154.5,1263.5 L1155.4,1263.6 L1156.3,1263.7 L1157.2,1263.9 L1158.1,1264.0 L1159.0,1264.1 L1159.9,1264.3 L1160.8,1264.4 L1161.7,1264.5 L1162.6,1264.7 L1163.5,1264.8 L1164.4,1265.0 L1165.3,1265.2 L1166.2,1265.3 L1167.1,1265.5 L1168.0,1265.7 L1168.9,1265.8 L1169.8,1266.0 L1170.7,1266.2 L1171.6,1266.4 L1172.5,1266.6 L1173.4,1266.7 L1174.3,1266.9 L1175.2,1267.1 L1176.1,1267.3 L1177.0,1267.5 L1177.9,1267.7 L1178.8,1267.9 L1179.7,1268.2 L1180.6,1268.4 L1181.5,1268.6 L1182.4,1268.8 L1183.3,1269.0 L1184.2,1269.3 L1185.1,1269.5 L1186.0,1269.7 L1186.9,1270.0 L1187.8,1270.2 L1188.7,1270.4 L1189.6,1270.7 L1190.5,1270.9 L1191.4,1271.2 L1192.3,1271.4 L1193.3,1271.7 L1194.2,1271.9 L1195.1,1272.2 L1196.0,1272.5 L1196.9,1272.7 L1197.8,1273.0 L1198.7,1273.3 L1199.6,1273.5 L1200.5,1273.8 L1201.4,1274.1 L1202.3,1274.4 L1203.2,1274.6 L1204.1,1274.9 L1205.0,1275.2 L1205.9,1275.5 L1206.8,1275.8 L1207.7,1276.1 L1208.7,1276.4 L1209.6,1276.7 L1210.5,1277.0 L1211.4,1277.3 L1212.3,1277.6 L1213.2,1277.9 L1214.1,1278.2 L1215.0,1278.5 L1215.9,1278.8 L1216.8,1279.1 L1217.7,1279.4 L1218.6,1279.7 L1219.5,1280.0 L1220.5,1280.3 L1221.4,1280.7 L1222.3,1281.0 L1223.2,1281.3 L1224.1,1281.6 L1225.0,1281.9 L1225.9,1282.3 L1226.8,1282.6 L1227.7,1282.9 L1228.6,1283.2 L1229.5,1283.6 L1230.4,1283.9 L1231.3,1284.2 L1232.3,1284.6 L1233.2,1284.9 L1234.1,1285.2 L1235.0,1285.6 L1235.9,1285.9 L1236.8,1286.2 L1237.7,1286.6 L1238.6,1286.9 L1239.5,1287.3 L1240.4,1287.6 L1241.3,1287.9 L1242.2,1288.3 L1243.2,1288.6 L1244.1,1289.0 L1245.0,1289.3 L1245.9,1289.7 L1246.8,1290.0 L1247.7,1290.4 L1248.6,1290.7 L1249.5,1291.0 L1250.4,1291.4 L1251.3,1291.7 L1252.2,1292.1 L1253.2,1292.4 L1254.1,1292.8 L1255.0,1293.1 L1255.9,1293.5 L1256.8,1293.8 L1257.7,1294.2 L1258.6,1294.5 L1259.5,1294.9 L1260.4,1295.2 L1261.3,1295.6 L1262.2,1295.9 L1263.1,1296.3 L1264.1,1296.6 L1265.0,1297.0 L1265.9,1297.3 L1266.8,1297.6 L1267.7,1298.0 L1268.6,1298.3 L1269.5,1298.7 L1270.4,1299.0 L1271.3,1299.4 L1272.2,1299.7 L1273.1,1300.0 L1274.1,1300.4 L1275.0,1300.7 L1275.9,1301.1 L1276.8,1301.4 L1277.7,1301.7 L1278.6,1302.1 L1279.5,1302.4 L1280.4,1302.8 L1281.3,1303.1 L1282.2,1303.4 L1283.1,1303.7 L1284.1,1304.1 L1285.0,1304.4 L1285.9,1304.7 L1286.8,1305.1 L1287.7,1305.4 L1288.6,1305.7 L1289.5,1306.0 L1290.4,1306.4 L1291.3,1306.7 L1292.2,1307.0 L1293.2,1307.3 L1294.1,1307.6 L1295.0,1307.9 L1295.9,1308.3 L1296.8,1308.6 L1297.7,1308.9 L1298.6,1309.2 L1299.5,1309.5 L1300.4,1309.8 L1301.3,1310.1 L1302.2,1310.4 L1303.2,1310.7 L1304.1,1311.0 L1305.0,1311.3 L1305.9,1311.6 L1306.8,1311.8 L1307.7,1312.1 L1308.6,1312.4 L1309.5,1312.7 L1310.4,1313.0 L1311.3,1313.3 L1312.2,1313.5 L1313.2,1313.8 L1314.1,1314.1 L1315.0,1314.3 L1315.9,1314.6 L1316.8,1314.9 L1317.7,1315.1 L1318.6,1315.4 L1319.5,1315.6 L1320.4,1315.9 L1321.3,1316.1 L1322.2,1316.4 L1323.2,1316.6 L1324.1,1316.9 L1325.0,1317.1 L1325.9,1317.3 L1326.8,1317.6 L1327.7,1317.8 L1328.6,1318.0 L1329.5,1318.2 L1330.4,1318.5 L1331.3,1318.7 L1332.3,1318.9 L1333.2,1319.1 L1334.1,1319.3 L1335.0,1319.5 L1335.9,1319.7 L1336.8,1319.9 L1337.7,1320.1 L1338.6,1320.3 L1339.5,1320.5 L1340.4,1320.6 L1341.3,1320.8 L1342.3,1321.0 L1343.2,1321.2 L1344.1,1321.3 L1345.0,1321.5 L1345.9,1321.7 L1346.8,1321.8 L1347.7,1322.0 L1348.6,1322.1 L1349.5,1322.3 L1350.4,1322.4 L1351.3,1322.5 L1352.3,1322.7 L1353.2,1322.8 L1354.1,1322.9 L1355.0,1323.0 L1355.9,1323.1 L1356.8,1323.2 L1357.7,1323.3 L1358.6,1323.4 L1359.5,1323.5 L1360.4,1323.6 L1361.3,1323.7 L1362.3,1323.8 L1363.2,1323.9 L1364.1,1324.0 L1365.0,1324.0 L1365.9,1324.1 L1366.8,1324.1 L1367.7,1324.2 L1368.6,1324.3 L1369.5,1324.3 L1370.4,1324.3 L1371.3,1324.4 L1372.3,1324.4 L1373.2,1324.4 L1374.1,1324.5 L1375.0,1324.5 L1375.9,1324.5 L1376.8,1324.5 L1377.7,1324.5 L1378.6,1324.5 L1379.5,1324.5 L1380.4,1324.5 L1381.3,1324.5 L1382.2,1324.4 L1383.2,1324.4 L1384.1,1324.4 L1385.0,1324.4 L1385.9,1324.3 L1386.8,1324.3 L1387.7,1324.2 L1388.6,1324.2 L1389.5,1324.1 L1390.4,1324.1 L1391.3,1324.0 L1392.2,1323.9 L1393.1,1323.8 L1394.1,1323.8 L1395.0,1323.7 L1395.9,1323.6 L1396.8,1323.5 L1397.7,1323.4 L1398.6,1323.3 L1399.5,1323.2 L1400.4,1323.1 L1401.3,1322.9 L1402.2,1322.8 L1403.1,1322.7 L1404.0,1322.6 L1405.0,1322.4 L1405.9,1322.3 L1406.8,1322.1 L1407.7,1322.0 L1408.6,1321.8 L1409.5,1321.7 L1410.4,1321.5 L1411.3,1321.3 L1412.2,1321.2 L1413.1,1321.0 L1414.0,1320.8 L1414.9,1320.6 L1415.8,1320.4 L1416.8,1320.2 L1417.7,1320.0 L1418.6,1319.8 L1419.5,1319.6 L1420.4,1319.4 L1421.3,1319.1 L1422.2,1318.9 L1423.1,1318.7 L1424.0,1318.4 L1424.9,1318.2 L1425.8,1318.0 L1426.7,1317.7 L1427.6,1317.5 L1428.5,1317.2 L1429.5,1316.9 L1430.4,1316.7 L1431.3,1316.4 L1432.2,1316.1 L1433.1,1315.8 L1434.0,1315.5 L1434.9,1315.2 L1435.8,1314.9 L1436.7,1314.6 L1437.6,1314.3 L1438.5,1314.0 L1439.4,1313.7 L1440.3,1313.4 L1441.2,1313.0 L1442.2,1312.7 L1443.1,1312.4 L1444.0,1312.0 L1444.9,1311.7 L1445.8,1311.3 L1446.7,1311.0 L1447.6,1310.6 L1448.5,1310.2 L1449.4,1309.9 L1450.3,1309.5 L1451.2,1309.1 L1452.1,1308.7 L1453.0,1308.3 L1453.9,1307.9 L1454.8,1307.5 L1455.7,1307.1 L1456.7,1306.7 L1457.6,1306.3 L1458.5,1305.9 L1459.4,1305.5 L1460.3,1305.0 L1461.2,1304.6 L1462.1,1304.2 L1463.0,1303.7 L1463.9,1303.3 L1464.8,1302.8 L1465.7,1302.4 L1466.6,1301.9 L1467.5,1301.4 L1468.4,1301.0 L1469.3,1300.5 L1470.2,1300.0 L1471.1,1299.5 L1472.0,1299.0 L1474.2,1297.8 M1474.2,1297.5 L1474.6,1297.6 L1476.0,1297.1 L1477.3,1296.6 L1478.5,1296.1 L1479.8,1295.6 L1481.1,1295.1 L1482.4,1294.6 L1483.7,1294.0 L1484.9,1293.5 L1486.2,1292.9 L1487.5,1292.3 L1488.7,1291.7 L1490.0,1291.1 L1491.2,1290.5 L1492.4,1289.8 L1493.7,1289.2 L1494.9,1288.5 L1496.1,1287.8 L1497.3,1287.1 L1498.5,1286.4 L1499.8,1285.7 L1501.0,1285.0 L1502.2,1284.2 L1503.4,1283.5 L1504.5,1282.7 L1505.7,1282.0 L1506.9,1281.2 L1508.1,1280.4 L1509.3,1279.6 L1510.4,1278.8 L1511.6,1278.0 L1512.7,1277.2 L1513.9,1276.3 L1515.1,1275.5 L1516.2,1274.6 L1517.3,1273.8 L1518.5,1272.9 L1519.6,1272.0 L1520.7,1271.1 L1521.9,1270.2 L1523.0,1269.3 L1524.1,1268.4 L1525.2,1267.5 L1526.3,1266.6 L1527.4,1265.6 L1528.5,1264.7 L1529.6,1263.7 L1530.7,1262.8 L1531.8,1261.8 L1532.9,1260.9 L1534.0,1259.9 L1535.1,1258.9 L1536.1,1258.0 L1537.2,1257.0 L1538.3,1256.0 L1539.3,1255.0 L1540.4,1254.0 L1541.5,1253.0 L1542.5,1252.0 L1543.6,1251.0 L1544.6,1250.0 L1545.7,1249.0 L1546.7,1247.9 L1547.8,1246.9 L1548.8,1245.9 L1549.8,1244.9 L1550.9,1243.8 L1551.9,1242.8 L1552.9,1241.8 L1553.9,1240.7 L1554.9,1239.7 L1556.0,1238.7 L1557.0,1237.6 L1558.0,1236.6 L1559.0,1235.5 L1560.0,1234.5 L1561.0,1233.5 L1562.0,1232.4 L1563.0,1231.4 L1564.0,1230.3 L1565.0,1229.3 L1566.0,1228.2 L1566.9,1227.2 L1567.9,1226.1 L1568.9,1225.1 L1569.9,1224.1 L1570.9,1223.0 L1571.8,1222.0 L1572.8,1220.9 L1573.8,1219.8 L1574.7,1218.8 L1575.7,1217.7 L1576.7,1216.7 L1577.6,1215.6 L1578.6,1214.6 L1579.5,1213.5 L1580.5,1212.5 L1581.4,1211.4 L1582.4,1210.3 L1583.3,1209.3 L1584.3,1208.2 L1585.2,1207.2 L1586.2,1206.1 L1587.1,1205.0 L1588.1,1204.0 L1589.0,1202.9 L1589.9,1201.9 L1590.9,1200.8 L1591.8,1199.7 L1592.7,1198.7 L1593.7,1197.6 L1594.6,1196.5 L1595.5,1195.5 L1596.4,1194.4 L1597.4,1193.3 L1598.3,1192.2 L1599.2,1191.2 L1600.1,1190.1 L1601.1,1189.0 L1602.0,1188.0 L1602.9,1186.9 L1603.8,1185.8 L1604.7,1184.7 L1605.6,1183.7 L1606.5,1182.6 L1607.5,1181.5 L1608.4,1180.4 L1609.3,1179.4 L1610.2,1178.3 L1611.1,1177.2 L1612.0,1176.1 L1612.9,1175.1 L1613.8,1174.0 L1614.7,1172.9 L1615.6,1171.8 L1616.5,1170.7 L1617.4,1169.7 L1618.3,1168.6 L1619.2,1167.5 L1620.1,1166.4 L1621.1,1165.3 L1622.0,1164.2 L1622.9,1163.2 L1623.8,1162.1 L1624.7,1161.0 L1625.6,1159.9 L1626.5,1158.8 L1627.4,1157.7 L1628.3,1156.6 L1629.2,1155.5 L1630.1,1154.5 L1631.0,1153.4 L1631.9,1152.3 L1632.8,1151.2 L1633.7,1150.1 L1634.6,1149.0 L1635.5,1147.9 L1636.4,1146.8 L1637.3,1145.7 L1638.2,1144.6 L1639.1,1143.6 L1640.0,1142.5 L1640.9,1141.4 L1641.8,1140.3 L1642.7,1139.2 L1643.6,1138.1 L1644.5,1137.0 L1645.4,1135.9 L1646.3,1134.8 L1647.2,1133.7 L1648.1,1132.6 L1649.0,1131.5 L1649.9,1130.4 L1650.8,1129.3 L1651.7,1128.2 L1652.6,1127.1 L1653.6,1126.0 L1654.5,1124.9 L1655.4,1123.8 L1656.3,1122.7 L1657.2,1121.6 L1658.1,1120.5 L1659.0,1119.4 L1660.0,1118.3 L1660.9,1117.2 L1661.8,1116.1 L1662.7,1115.0 L1663.6,1113.9 L1664.6,1112.8 L1665.5,1111.7 L1666.4,1110.6 L1667.4,1109.5 L1668.3,1108.4 L1669.2,1107.3 L1670.2,1106.2 L1671.1,1105.1 L1672.0,1104.0 L1673.0,1102.9 L1673.9,1101.8 L1674.8,1100.7 L1675.8,1099.6 L1676.7,1098.5 L1677.7,1097.4 L1678.6,1096.3 L1679.6,1095.2 L1680.5,1094.1 L1681.5,1093.0 L1682.4,1091.8 L1683.4,1090.7 L1684.4,1089.6 L1685.3,1088.5 L1686.3,1087.4 L1687.3,1086.3 L1688.2,1085.2 L1689.2,1084.1 L1690.2,1083.0 L1691.1,1081.9 L1692.1,1080.8 L1693.1,1079.7 L1694.1,1078.6 L1695.1,1077.5 L1696.1,1076.4 L1697.1,1075.4 L1698.1,1074.3 L1699.1,1073.2 L1700.1,1072.1 L1701.1,1071.1 L1702.1,1070.0 L1703.1,1068.9 L1704.2,1067.9 L1705.2,1066.8 L1706.2,1065.8 L1707.2,1064.8 L1708.3,1063.7 L1709.3,1062.7 L1710.4,1061.7 L1711.4,1060.7 L1712.5,1059.7 L1713.5,1058.7 L1714.6,1057.7 L1715.7,1056.7 L1716.8,1055.8 L1717.8,1054.8 L1718.9,1053.8 L1720.0,1052.9 L1721.1,1052.0 L1722.2,1051.0 L1723.3,1050.1 L1724.5,1049.2 L1725.6,1048.3 L1726.7,1047.4 L1727.8,1046.6 L1729.0,1045.7 L1730.1,1044.9 L1731.3,1044.0 L1732.4,1043.2 L1733.6,1042.4 L1734.8,1041.6 L1736.0,1040.8 L1737.1,1040.0 L1738.3,1039.3 L1739.5,1038.5 L1740.7,1037.8 L1742.0,1037.1 L1743.2,1036.4 L1744.4,1035.7 L1745.6,1035.0 L1746.9,1034.3 L1748.1,1033.7 L1749.4,1033.1 L1750.7,1032.5 L1751.9,1031.9 L1753.2,1031.3 L1754.5,1030.7 L1755.8,1030.2 L1757.1,1029.7 L1758.4,1029.1 L1759.8,1028.7 L1761.1,1028.2 L1762.4,1027.7 L1763.8,1027.3 L1765.1,1026.9 L1766.5,1026.5 L1767.8,1026.1 L1769.2,1025.7 L1770.5,1025.4 L1771.9,1025.1 L1773.3,1024.7 L1774.7,1024.5 L1776.0,1024.2 L1777.4,1024.0 L1778.8,1023.7 L1780.2,1023.5 L1781.6,1023.3 L1783.0,1023.2 L1784.3,1023.0 L1785.7,1022.9 L1787.1,1022.8 L1788.5,1022.7 L1789.9,1022.7 L1791.3,1022.7 L1792.7,1022.6 L1794.1,1022.7 L1795.4,1022.7 L1796.8,1022.8 L1798.2,1022.8 L1799.6,1022.9 L1801.0,1023.1 L1802.3,1023.2 L1803.7,1023.4 L1805.1,1023.6 L1806.4,1023.8 L1807.8,1024.1 L1809.1,1024.3 L1810.5,1024.6 L1811.8,1025.0 L1813.2,1025.3 L1814.5,1025.7 L1815.8,1026.1 L1817.1,1026.5 L1818.4,1026.9 L1819.7,1027.4 L1821.0,1027.9 L1822.3,1028.4 L1823.6,1029.0 L1824.9,1029.5 L1826.2,1030.1 L1827.4,1030.7 L1828.7,1031.3 L1829.9,1032.0 L1831.2,1032.7 L1832.4,1033.3 L1833.6,1034.0 L1834.9,1034.8 L1836.1,1035.5 L1837.3,1036.3 L1838.5,1037.1 L1839.7,1037.8 L1840.9,1038.7 L1842.0,1039.5 L1843.2,1040.3 L1844.4,1041.2 L1845.5,1042.1 L1846.7,1043.0 L1847.8,1043.9 L1848.9,1044.8 L1850.1,1045.7 L1851.2,1046.6 L1852.3,1047.6 L1853.4,1048.6 L1854.5,1049.6 L1855.6,1050.5 L1856.6,1051.5 L1857.7,1052.6 L1858.8,1053.6 L1859.8,1054.6 L1860.8,1055.7 L1861.9,1056.7 L1862.9,1057.8 L1863.9,1058.8 L1864.9,1059.9 L1865.9,1061.0 L1866.9,1062.1 L1867.9,1063.2 L1868.9,1064.3 L1869.8,1065.4 L1870.8,1066.5 L1871.7,1067.6 L1872.7,1068.7 L1873.6,1069.8 L1874.5,1071.0 L1875.4,1072.1 L1876.3,1073.3 L1877.2,1074.4 L1878.1,1075.5 L1879.0,1076.7 L1879.9,1077.9 L1880.7,1079.0 L1881.6,1080.2 L1882.4,1081.4 L1883.3,1082.5 L1884.1,1083.7 L1885.0,1084.9 L1885.8,1086.1 L1886.6,1087.3 L1887.4,1088.5 L1888.2,1089.7 L1889.0,1090.9 L1889.8,1092.1 L1890.6,1093.3 L1891.4,1094.5 L1892.2,1095.7 L1892.9,1096.9 L1893.7,1098.1 L1894.5,1099.3 L1895.2,1100.6 L1896.0,1101.8 L1896.7,1103.0 L1897.5,1104.3 L1898.2,1105.5 L1898.9,1106.7 L1899.7,1108.0 L1900.4,1109.2 L1901.1,1110.5 L1901.8,1111.7 L1902.5,1112.9 L1903.3,1114.2 L1904.0,1115.4 L1904.7,1116.7 L1905.4,1117.9 L1906.1,1119.2 L1906.8,1120.5 L1907.5,1121.7 L1908.2,1123.0 L1908.9,1124.2 L1909.5,1125.5 L1910.2,1126.7 L1910.9,1128.0 L1911.6,1129.3 L1912.3,1130.5 L1913.0,1131.8 L1913.6,1133.1 L1914.3,1134.3 L1915.0,1135.6 L1915.7,1136.8 L1916.3,1138.1 L1917.0,1139.4 L1917.7,1140.6 L1918.4,1141.9 L1919.0,1143.2 L1919.7,1144.4 L1920.4,1145.7 L1921.0,1147.0 L1921.7,1148.2 L1922.4,1149.5 L1923.0,1150.8 L1923.7,1152.0 L1924.3,1153.3 L1925.0,1154.6 L1925.7,1155.9 L1926.3,1157.1 L1927.0,1158.4 L1927.6,1159.7 L1928.3,1160.9 L1928.9,1162.2 L1929.6,1163.5 L1930.2,1164.7 L1930.9,1166.0 L1931.5,1167.3 L1932.2,1168.6 L1932.8,1169.8 L1933.5,1171.1 L1934.1,1172.4 L1934.8,1173.7 L1935.4,1174.9 L1936.0,1176.2 L1936.7,1177.5 L1937.3,1178.8 L1938.0,1180.0 L1938.6,1181.3 L1939.2,1182.6 L1939.9,1183.9 L1940.5,1185.2 L1941.1,1186.4 L1941.8,1187.7 L1942.4,1189.0 L1943.0,1190.3 L1943.7,1191.5 L1944.3,1192.8 L1944.9,1194.1 L1945.5,1195.4 L1946.2,1196.7 L1946.8,1197.9 L1947.4,1199.2 L1948.0,1200.5 L1948.7,1201.8 L1949.3,1203.1 L1949.9,1204.4 L1950.5,1205.6 L1951.2,1206.9 L1951.8,1208.2 L1952.4,1209.5 L1953.0,1210.8 L1953.6,1212.1 L1954.2,1213.3 L1954.9,1214.6 L1955.5,1215.9 L1956.1,1217.2 L1956.7,1218.5 L1957.3,1219.8 L1957.9,1221.0 L1958.5,1222.3 L1959.1,1223.6 L1959.8,1224.9 L1960.4,1226.2 L1961.0,1227.5 L1961.6,1228.8 L1962.2,1230.1 L1962.8,1231.3 L1963.4,1232.6 L1964.0,1233.9 L1964.6,1235.2 L1965.2,1236.5 L1965.8,1237.8 L1966.4,1239.1 L1967.0,1240.4 L1967.6,1241.7 L1968.2,1242.9 L1968.8,1244.2 L1969.4,1245.5 L1970.0,1246.8 L1970.6,1248.1 L1971.2,1249.4 L1971.8,1250.7 L1972.4,1252.0 L1973.0,1253.3 L1973.6,1254.6 L1974.2,1255.8 L1974.8,1257.1 L1975.4,1258.4 L1976.0,1259.7 L1976.6,1261.0 L1977.2,1262.3 L1977.8,1263.6 L1978.4,1264.9 L1978.9,1266.2 L1979.5,1267.5 L1980.1,1268.8 L1980.7,1270.1 L1981.3,1271.4 L1981.9,1272.7 L1982.5,1274.0 L1983.1,1275.2 L1983.7,1276.5 L1984.3,1277.8 L1984.8,1279.1 L1985.4,1280.4 L1986.0,1281.7 L1986.6,1283.0 L1987.2,1284.3 L1987.8,1285.6 L1988.4,1286.9 L1988.9,1288.2 L1989.5,1289.5 L1990.1,1290.8 L1990.7,1292.1 L1991.3,1293.4 L1991.9,1294.7 L1992.5,1296.0 L1993.0,1297.3 L1993.6,1298.6 L1994.2,1299.9 L1994.8,1301.2 L1995.4,1302.5 L1996.0,1303.8 L1996.5,1305.1 L1997.1,1306.4 L1997.7,1307.6 L1998.3,1308.9 L1998.9,1310.2 L1999.4,1311.5 L2000.0,1312.8 L2000.6,1314.1 L2001.2,1315.4 L2001.8,1316.7 L2002.4,1318.0 L2002.9,1319.3 L2003.5,1320.6 L2004.1,1321.9 L2004.7,1323.2 L2005.3,1324.5 L2005.8,1325.8 L2006.4,1327.1 L2007.0,1328.4 L2007.6,1329.7 L2008.2,1331.0 L2008.7,1332.3 L2009.3,1333.6 L2009.9,1334.9 L2010.5,1336.2 L2011.1,1337.5 L2011.6,1338.8 L2012.2,1340.1 L2012.8,1341.4 L2013.4,1342.7 L2014.0,1344.0 L2014.5,1345.3 L2015.1,1346.6 L2015.7,1347.9 L2016.3,1349.2 L2016.9,1350.5 L2017.4,1351.8 L2018.0,1353.1 L2018.6,1354.4 L2019.2,1355.7 L2019.8,1357.0 L2020.4,1358.3 L2020.9,1359.6 L2021.5,1360.9 L2022.1,1362.2 L2022.7,1363.5 L2023.3,1364.8 L2023.8,1366.1 L2024.4,1367.4 L2025.0,1368.7 L2025.6,1370.0 L2026.2,1371.3 L2026.8,1372.6 L2027.3,1373.9 L2027.9,1375.2 L2028.5,1376.5 L2029.1,1377.8 L2029.7,1379.1 L2030.3,1380.4 L2030.8,1381.7 L2031.4,1383.0 L2032.0,1384.3 L2032.6,1385.6 L2033.2,1386.9 L2033.8,1388.2 L2034.4,1389.5 L2035.0,1390.8 L2035.5,1392.1 L2036.1,1393.4 L2036.7,1394.7 L2037.3,1396.0 L2037.9,1397.3 L2038.5,1398.6 L2039.1,1399.9 L2039.7,1401.2 L2040.3,1402.5 L2040.8,1403.8 L2041.4,1405.1 L2042.0,1406.4 L2042.6,1407.7 L2043.2,1409.0 L2043.8,1410.3 L2044.4,1411.6 L2045.0,1412.9 L2045.6,1414.2 L2046.2,1415.5 L2046.8,1416.8 L2047.4,1418.1 L2048.0,1419.4 L2048.6,1420.7 L2049.2,1422.0 L2049.8,1423.3 L2050.4,1424.6 L2051.0,1425.9 L2051.6,1427.2 L2052.2,1428.5 L2052.8,1429.8 L2053.4,1431.1 L2054.0,1432.4 L2054.6,1433.7 L2055.2,1435.0 L2055.8,1436.3 L2056.4,1437.6 L2057.0,1438.9 L2057.6,1440.2 L2058.2,1441.5 L2058.8,1442.8 L2059.4,1444.1 L2060.0,1445.4 L2060.6,1446.7 L2061.2,1448.0 L2061.8,1449.3 L2062.5,1450.5 L2063.1,1451.8 L2063.7,1453.1 L2064.3,1454.4 L2064.9,1455.7 L2065.5,1457.0 L2066.1,1458.3 L2066.8,1459.6 L2067.4,1460.9 L2068.0,1462.2 L2068.6,1463.5 L2069.2,1464.8 L2069.8,1466.1 L2070.5,1467.4 L2071.1,1468.7 L2071.7,1470.0 L2072.3,1471.3 L2073.0,1472.6 L2073.6,1473.8 L2074.2,1475.1 L2074.8,1476.4 L2075.5,1477.7 L2076.1,1479.0 L2076.7,1480.3 L2077.3,1481.6 L2078.0,1482.9 L2078.6,1484.2 L2079.2,1485.5 L2079.9,1486.8 L2080.5,1488.1 L2081.1,1489.4 L2081.8,1490.6 L2082.4,1491.9 L2083.1,1493.2 L2083.7,1494.5 L2084.3,1495.8 L2085.0,1497.1 L2085.6,1498.4 L2086.3,1499.7 L2086.9,1501.0 L2087.5,1502.3 L2088.2,1503.5 L2088.8,1504.8 L2089.5,1506.1 L2090.1,1507.4 L2090.8,1508.7 L2091.4,1510.0 L2092.1,1511.3 L2092.7,1512.6 L2093.4,1513.8 L2094.1,1515.1 L2094.7,1516.4 L2095.4,1517.7 L2096.0,1519.0 L2096.7,1520.3 L2097.4,1521.6 L2098.0,1522.8 L2098.7,1524.1 L2099.3,1525.4 L2100.0,1526.7 L2100.7,1528.0 L2101.3,1529.3 L2102.0,1530.5 L2102.7,1531.8 L2103.4,1533.1 L2104.0,1534.4 L2104.7,1535.7 L2105.4,1537.0 L2106.1,1538.2 L2106.7,1539.5 L2107.4,1540.8 L2108.1,1542.1 L2108.8,1543.4 L2109.5,1544.6 L2110.1,1545.9 L2110.8,1547.2 L2111.5,1548.5 L2112.2,1549.8 L2112.9,1551.0 L2113.6,1552.3 L2114.3,1553.6 L2115.0,1554.9 L2115.7,1556.2 L2116.4,1557.4 L2117.1,1558.7 L2117.8,1560.0 L2118.5,1561.3 L2119.2,1562.5 L2119.9,1563.8 L2120.6,1565.1 L2121.3,1566.4 L2122.0,1567.6 L2122.7,1568.9 L2123.4,1570.2 L2124.1,1571.5 L2124.8,1572.7 L2125.5,1574.0 L2126.3,1575.3 L2127.0,1576.5 L2127.7,1577.8 L2128.4,1579.1 L2129.2,1580.3 L2129.9,1581.6 L2130.6,1582.8 L2131.4,1584.1 L2132.1,1585.3 L2132.8,1586.6 L2133.6,1587.8 L2134.3,1589.1 L2135.1,1590.3 L2135.9,1591.5 L2136.6,1592.8 L2137.4,1594.0 L2138.1,1595.2 L2138.9,1596.4 L2139.7,1597.6 L2140.5,1598.9 L2141.3,1600.1 L2142.0,1601.3 L2142.8,1602.4 L2143.6,1603.6 L2144.4,1604.8 L2145.3,1606.0 L2146.1,1607.2 L2146.9,1608.3 L2147.7,1609.5 L2148.5,1610.7 L2149.4,1611.8 L2150.2,1612.9 L2151.1,1614.1 L2151.9,1615.2 L2152.8,1616.3 L2153.6,1617.5 L2154.5,1618.6 L2155.4,1619.7 L2156.3,1620.8 L2157.1,1621.8 L2158.0,1622.9 L2158.9,1624.0 L2159.8,1625.0 L2160.8,1626.1 L2161.7,1627.1 L2162.6,1628.2 L2163.5,1629.2 L2164.5,1630.2 L2165.4,1631.2 L2166.4,1632.2 L2167.4,1633.2 L2168.3,1634.2 L2169.3,1635.2 L2170.3,1636.1 L2171.3,1637.1 L2172.3,1638.0 L2173.3,1639.0 L2174.3,1639.9 L2175.4,1640.8 L2176.4,1641.7 L2177.4,1642.6 L2178.5,1643.5 L2179.6,1644.3 L2180.6,1645.2 L2181.7,1646.0 L2182.8,1646.9 L2183.9,1647.7 L2185.0,1648.5 L2186.1,1649.3 L2187.3,1650.1 L2188.4,1650.8 L2189.5,1651.6 L2190.7,1652.3 L2191.9,1653.1 L2193.0,1653.8 L2194.2,1654.5 L2195.4,1655.2 L2196.6,1655.8 L2197.9,1656.5 L2199.1,1657.2 L2200.3,1657.8 L2201.6,1658.4 L2202.8,1659.0 L2204.1,1659.6 L2205.4,1660.2 L2206.7,1660.7 L2208.0,1661.3 L2209.3,1661.8 L2210.6,1662.3 L2211.9,1662.8 L2213.3,1663.3 L2214.6,1663.7 L2215.9,1664.1 L2217.3,1664.6 L2218.7,1664.9 L2220.0,1665.3 L2221.4,1665.7 L2222.8,1666.0 L2224.2,1666.3 L2225.6,1666.3 L2227.0,1666.3 L2228.4,1666.3 L2229.8,1666.3 L2231.3,1666.3 L2232.7,1666.3 L2234.1,1666.3 L2235.6,1666.3 L2237.0,1666.3 L2238.5,1666.3 L2239.9,1666.3 L2241.4,1666.3 L2242.9,1666.3 L2244.3,1666.3 L2245.8,1666.3 L2247.3,1666.3 L2248.7,1666.3 L2250.2,1666.3 L2251.7,1666.3 L2253.2,1666.3 L2254.7,1666.3 L2256.2,1666.3 L2257.7,1666.3 L2259.2,1666.3 L2260.7,1666.3 L2262.2,1666.3 L2263.7,1666.3 L2265.2,1666.3 L2266.7,1666.3 L2268.2,1666.3 L2269.7,1666.2 L2271.2,1666.0 L2272.7,1665.9 L2274.3,1665.8 L2275.8,1665.8 L2277.3,1665.7" fill="none" stroke="#163f58" stroke-width="4.2" stroke-linejoin="round"/>
<path d="M268.5,1666.3 L299.6,1666.3 L301.3,1666.3 L302.9,1666.3 L304.5,1666.3 L306.1,1666.3 L307.8,1666.3 L309.4,1666.3 L311.0,1666.3 L312.6,1666.3 L314.2,1666.3 L315.8,1666.3 L317.4,1666.3 L319.0,1666.3 L320.6,1666.3 L322.2,1666.3 L323.7,1666.3 L325.3,1666.3 L326.9,1666.3 L328.5,1666.3 L330.1,1666.3 L331.6,1666.3 L333.2,1666.3 L334.8,1666.3 L336.3,1666.3 L337.9,1666.3 L339.5,1666.3 L341.0,1666.3 L342.6,1666.3 L344.1,1666.3 L345.7,1666.3 L347.2,1666.3 L348.8,1666.3 L350.3,1666.3 L351.9,1666.3 L353.4,1666.3 L354.9,1666.3 L356.5,1666.3 L358.0,1666.3 L359.5,1666.3 L361.1,1666.3 L362.6,1666.3 L364.1,1666.3 L365.7,1666.3 L367.2,1666.3 L368.7,1666.3 L370.2,1666.3 L371.8,1666.3 L373.3,1666.3 L374.8,1666.3 L376.3,1666.3 L377.8,1666.3 L379.4,1666.3 L380.9,1666.3 L382.4,1666.3 L383.9,1666.3 L385.4,1666.3 L386.9,1666.3 L388.4,1666.3 L389.9,1666.3 L391.5,1666.3 L393.0,1666.3 L394.5,1666.3 L396.0,1666.3 L397.5,1666.3 L399.0,1666.3 L400.5,1666.3 L402.0,1666.3 L403.5,1666.3 L405.0,1666.3 L406.6,1666.3 L408.1,1666.3 L409.6,1666.3 L411.1,1666.3 L412.6,1666.3 L414.1,1666.3 L415.6,1666.3 L417.1,1666.3 L418.6,1666.3 L420.1,1666.3 L421.7,1666.3 L423.2,1666.3 L424.7,1666.3 L426.2,1666.3 L427.7,1666.3 L429.2,1666.3 L430.7,1666.3 L432.3,1666.3 L433.8,1666.3 L435.3,1666.3 L436.8,1666.3 L438.3,1666.3 L439.9,1666.3 L441.4,1666.3 L442.9,1666.3 L444.5,1666.3 L446.0,1666.3 L447.5,1666.3 L449.0,1666.3 L450.6,1666.3 L452.1,1666.3 L453.6,1666.3 L455.2,1665.8 L456.7,1665.7 L458.3,1665.6 L459.8,1665.5 L461.4,1665.4 L462.9,1665.3 L464.5,1665.2 L466.0,1665.1 L467.6,1665.0 L469.1,1664.9 L470.7,1664.7 L472.2,1664.6 L473.8,1664.5 L475.4,1664.3 L476.9,1664.2 L478.5,1664.1 L480.1,1663.9 L481.7,1663.7 L483.2,1663.6 L484.8,1663.4 L486.4,1663.2 L488.0,1663.1 L489.5,1662.9 L491.1,1662.7 L492.7,1662.5 L494.3,1662.3 L495.9,1662.1 L497.4,1661.9 L499.0,1661.7 L500.6,1661.4 L502.2,1661.2 L503.8,1661.0 L505.4,1660.7 L506.9,1660.5 L508.5,1660.3 L510.1,1660.0 L511.7,1659.7 L513.3,1659.5 L514.8,1659.2 L516.4,1658.9 L518.0,1658.6 L519.6,1658.3 L521.1,1658.0 L522.7,1657.7 L524.3,1657.4 L525.8,1657.1 L527.4,1656.8 L529.0,1656.4 L530.5,1656.1 L532.1,1655.7 L533.7,1655.4 L535.2,1655.0 L536.8,1654.7 L538.3,1654.3 L539.9,1653.9 L541.4,1653.5 L542.9,1653.1 L544.5,1652.7 L546.0,1652.3 L547.6,1651.9 L549.1,1651.5 L550.6,1651.0 L552.1,1650.6 L553.6,1650.1 L555.2,1649.7 L556.7,1649.2 L558.2,1648.8 L559.7,1648.3 L561.2,1647.8 L562.7,1647.3 L564.2,1646.8 L565.6,1646.3 L567.1,1645.8 L568.6,1645.2 L570.1,1644.7 L571.5,1644.2 L573.0,1643.6 L574.4,1643.1 L575.9,1642.5 L577.3,1641.9 L578.8,1641.3 L580.2,1640.8 L581.6,1640.2 L583.0,1639.5 L584.5,1638.9 L585.9,1638.3 L587.3,1637.7 L588.7,1637.0 L590.0,1636.4 L591.4,1635.7 L592.8,1635.0 L594.2,1634.4 L595.5,1633.7 L596.9,1633.0 L598.2,1632.3 L599.6,1631.6 L600.9,1630.8 L602.2,1630.1 L603.5,1629.4 L604.9,1628.6 L606.2,1627.9 L607.5,1627.1 L608.8,1626.3 L610.0,1625.6 L611.3,1624.8 L612.6,1624.0 L613.9,1623.2 L615.1,1622.4 L616.4,1621.5 L617.6,1620.7 L618.9,1619.9 L620.1,1619.0 L621.4,1618.2 L622.6,1617.3 L623.8,1616.4 L625.0,1615.6 L626.2,1614.7 L627.4,1613.8 L628.6,1612.9 L629.8,1612.0 L631.0,1611.1 L632.2,1610.2 L633.3,1609.2 L634.5,1608.3 L635.7,1607.4 L636.8,1606.4 L638.0,1605.5 L639.1,1604.5 L640.2,1603.5 L641.4,1602.6 L642.5,1601.6 L643.6,1600.6 L644.7,1599.6 L645.9,1598.6 L647.0,1597.6 L648.1,1596.6 L649.2,1595.5 L650.2,1594.5 L651.3,1593.5 L652.4,1592.4 L653.5,1591.4 L654.6,1590.3 L655.6,1589.3 L656.7,1588.2 L657.7,1587.1 L658.8,1586.1 L659.8,1585.0 L660.9,1583.9 L661.9,1582.8 L662.9,1581.7 L663.9,1580.6 L665.0,1579.5 L666.0,1578.4 L667.0,1577.2 L668.0,1576.1 L669.0,1575.0 L670.0,1573.8 L671.0,1572.7 L672.0,1571.5 L672.9,1570.4 L673.9,1569.2 L674.9,1568.1 L675.9,1566.9 L676.8,1565.7 L677.8,1564.5 L678.7,1563.4 L679.7,1562.2 L680.6,1561.0 L681.6,1559.8 L682.5,1558.6 L683.5,1557.4 L684.4,1556.1 L685.3,1554.9 L686.2,1553.7 L687.2,1552.5 L688.1,1551.2 L689.0,1550.0 L689.9,1548.8 L690.8,1547.5 L691.7,1546.3 L692.6,1545.0 L693.5,1543.8 L694.4,1542.5 L695.2,1541.2 L696.1,1540.0 L697.0,1538.7 L697.9,1537.4 L698.7,1536.2 L699.6,1534.9 L700.5,1533.6 L701.3,1532.3 L702.2,1531.0 L703.0,1529.7 L703.9,1528.4 L704.7,1527.1 L705.6,1525.8 L706.4,1524.5 L707.2,1523.2 L708.1,1521.9 L708.9,1520.5 L709.7,1519.2 L710.5,1517.9 L711.4,1516.6 L712.2,1515.2 L713.0,1513.9 L713.8,1512.6 L714.6,1511.2 L715.4,1509.9 L716.2,1508.5 L717.0,1507.2 L717.8,1505.8 L718.6,1504.5 L719.4,1503.1 L720.2,1501.8 L721.0,1500.4 L721.7,1499.1 L722.5,1497.7 L723.3,1496.3 L724.1,1495.0 L724.8,1493.6 L725.6,1492.2 L726.4,1490.8 L727.1,1489.5 L727.9,1488.1 L728.7,1486.7 L729.4,1485.3 L730.2,1484.0 L730.9,1482.6 L731.7,1481.2 L732.4,1479.8 L733.2,1478.4 L733.9,1477.0 L734.7,1475.6 L735.4,1474.3 L736.1,1472.9 L736.9,1471.5 L737.6,1470.1 L738.3,1468.7 L739.1,1467.3 L739.8,1465.9 L740.5,1464.5 L741.2,1463.1 L742.0,1461.7 L742.7,1460.3 L743.4,1458.9 L744.1,1457.5 L744.8,1456.1 L745.5,1454.7 L746.3,1453.3 L747.0,1451.9 L747.7,1450.5 L748.4,1449.1 L749.1,1447.7 L749.8,1446.3 L750.5,1444.9 L751.2,1443.4 L751.9,1442.0 L752.6,1440.6 L753.3,1439.2 L754.0,1437.8 L754.7,1436.4 L755.4,1435.0 L756.1,1433.6 L756.8,1432.2 L757.5,1430.8 L758.2,1429.4 L758.8,1428.0 L759.5,1426.6 L760.2,1425.2 L760.9,1423.8 L761.6,1422.3 L762.3,1420.9 L762.9,1419.5 L763.6,1418.1 L764.3,1416.7 L765.0,1415.3 L765.7,1413.9 L766.3,1412.5 L767.0,1411.1 L767.7,1409.7 L768.3,1408.2 L769.0,1406.8 L769.7,1405.4 L770.3,1404.0 L771.0,1402.6 L771.7,1401.2 L772.3,1399.8 L773.0,1398.4 L773.7,1397.0 L774.3,1395.5 L775.0,1394.1 L775.6,1392.7 L776.3,1391.3 L776.9,1389.9 L777.6,1388.5 L778.3,1387.1 L778.9,1385.6 L779.6,1384.2 L780.2,1382.8 L780.9,1381.4 L781.5,1380.0 L782.2,1378.6 L782.8,1377.2 L783.4,1375.7 L784.1,1374.3 L784.7,1372.9 L785.4,1371.5 L786.0,1370.1 L786.7,1368.7 L787.3,1367.3 L787.9,1365.8 L788.6,1364.4 L789.2,1363.0 L789.8,1361.6 L790.5,1360.2 L791.1,1358.7 L791.7,1357.3 L792.4,1355.9 L793.0,1354.5 L793.6,1353.1 L794.3,1351.7 L794.9,1350.2 L795.5,1348.8 L796.1,1347.4 L796.8,1346.0 L797.4,1344.6 L798.0,1343.2 L798.6,1341.7 L799.3,1340.3 L799.9,1338.9 L800.5,1337.5 L801.1,1336.1 L801.7,1334.6 L802.4,1333.2 L803.0,1331.8 L803.6,1330.4 L804.2,1329.0 L804.8,1327.5 L805.4,1326.1 L806.1,1324.7 L806.7,1323.3 L807.3,1321.9 L807.9,1320.4 L808.5,1319.0 L809.1,1317.6 L809.7,1316.2 L810.3,1314.8 L811.0,1313.3 L811.6,1311.9 L812.2,1310.5 L812.8,1309.1 L813.4,1307.6 L814.0,1306.2 L814.6,1304.8 L815.2,1303.4 L815.8,1302.0 L816.4,1300.5 L817.0,1299.1 L817.6,1297.7 L818.2,1296.3 L818.8,1294.9 L819.4,1293.4 L820.0,1292.0 L820.6,1290.6 L821.2,1289.2 L821.8,1287.7 L822.4,1286.3 L823.0,1284.9 L823.6,1283.5 L824.2,1282.1 L824.8,1280.6 L825.4,1279.2 L826.0,1277.8 L826.6,1276.4 L827.2,1274.9 L827.8,1273.5 L828.4,1272.1 L829.0,1270.7 L829.6,1269.3 L830.2,1267.8 L830.8,1266.4 L831.4,1265.0 L832.0,1263.6 L832.6,1262.1 L833.1,1260.7 L833.7,1259.3 L834.3,1257.9 L834.9,1256.4 L835.5,1255.0 L836.1,1253.6 L836.7,1252.2 L837.3,1250.8 L837.9,1249.3 L838.5,1247.9 L839.1,1246.5 L839.6,1245.1 L840.2,1243.6 L840.8,1242.2 L841.4,1240.8 L842.0,1239.4 L842.6,1238.0 L843.2,1236.5 L843.8,1235.1 L844.4,1233.7 L844.9,1232.3 L845.5,1230.8 L846.1,1229.4 L846.7,1228.0 L847.3,1226.6 L847.9,1225.2 L848.5,1223.7 L849.1,1222.3 L849.6,1220.9 L850.2,1219.5 L850.8,1218.0 L851.4,1216.6 L852.0,1215.2 L852.6,1213.8 L853.2,1212.4 L853.8,1210.9 L854.3,1209.5 L854.9,1208.1 L855.5,1206.7 L856.1,1205.2 L856.7,1203.8 L857.3,1202.4 L857.9,1201.0 L858.5,1199.6 L859.1,1198.1 L859.6,1196.7 L860.2,1195.3 L860.8,1193.9 L861.4,1192.5 L862.0,1191.0 L862.6,1189.6 L863.2,1188.2 L863.8,1186.8 L864.4,1185.3 L864.9,1183.9 L865.5,1182.5 L866.1,1181.1 L866.7,1179.7 L867.3,1178.2 L867.9,1176.8 L868.5,1175.4 L869.1,1174.0 L869.7,1172.6 L870.3,1171.1 L870.8,1169.7 L871.4,1168.3 L872.0,1166.9 L872.6,1165.5 L873.2,1164.1 L873.8,1162.6 L874.4,1161.2 L875.0,1159.8 L875.6,1158.4 L876.2,1157.0 L876.8,1155.5 L877.4,1154.1 L878.0,1152.7 L878.6,1151.3 L879.2,1149.9 L879.8,1148.5 L880.4,1147.0 L881.0,1145.6 L881.6,1144.2 L882.1,1142.8 L882.7,1141.4 L883.3,1139.9 L883.9,1138.5 L884.5,1137.1 L885.1,1135.7 L885.7,1134.3 L886.4,1132.9 L887.0,1131.5 L887.6,1130.0 L888.2,1128.6 L888.8,1127.2 L889.4,1125.8 L890.0,1124.4 L890.6,1123.0 L891.2,1121.5 L891.8,1120.1 L892.4,1118.7 L893.0,1117.3 L893.6,1115.9 L894.2,1114.5 L894.8,1113.1 L895.4,1111.7 L896.0,1110.2 L896.7,1108.8 L897.3,1107.4 L897.9,1106.0 L898.5,1104.6 L899.1,1103.2 L899.7,1101.8 L900.3,1100.4 L901.0,1098.9 L901.6,1097.5 L902.2,1096.1 L902.8,1094.7 L903.4,1093.3 L904.0,1091.9 L904.7,1090.5 L905.3,1089.1 L905.9,1087.7 L906.5,1086.2 L907.2,1084.8 L907.8,1083.4 L908.4,1082.0 L909.0,1080.6 L909.7,1079.2 L910.3,1077.8 L910.9,1076.4 L911.5,1075.0 L912.2,1073.6 L912.8,1072.2 L913.4,1070.8 L914.1,1069.4 L914.7,1067.9 L915.3,1066.5 L916.0,1065.1 L916.6,1063.7 L917.2,1062.3 L917.9,1060.9 L918.5,1059.5 L919.2,1058.1 L919.8,1056.7 L920.4,1055.3 L921.1,1053.9 L921.7,1052.5 L922.4,1051.1 L923.0,1049.7 L923.7,1048.3 L924.3,1046.9 L925.0,1045.5 L925.6,1044.1 L926.3,1042.7 L926.9,1041.3 L927.6,1039.9 L928.2,1038.5 L928.9,1037.1 L929.5,1035.7 L930.2,1034.3 L930.8,1032.9 L931.5,1031.5 L932.2,1030.1 L932.8,1028.7 L933.5,1027.3 L934.2,1025.9 L934.8,1024.5 L935.5,1023.1 L936.2,1021.7 L936.8,1020.3 L937.5,1018.9 L938.2,1017.5 L938.8,1016.1 L939.5,1014.7 L940.2,1013.3 L940.9,1011.9 L941.5,1010.5 L942.2,1009.1 L942.9,1007.7 L943.6,1006.4 L944.3,1005.0 L944.9,1003.6 L945.6,1002.2 L946.3,1000.8 L947.0,999.4 L947.7,998.0 L948.4,996.6 L949.1,995.2 L949.8,993.8 L950.5,992.4 L951.2,991.1 L951.9,989.7 L952.5,988.3 L953.2,986.9 L954.0,985.5 L954.7,984.1 L955.4,982.7 L956.1,981.3 L956.8,980.0 L957.5,978.6 L958.2,977.2 L958.9,975.8 L959.6,974.4 L960.3,973.0 L961.0,971.6 L961.8,970.3 L962.5,968.9 L963.2,967.5 L963.9,966.1 L964.6,964.7 L965.4,963.3 L966.1,962.0 L966.8,960.6 L967.6,959.2 L968.3,957.8 L969.0,956.4 L969.7,955.1 L970.5,953.7 L971.2,952.3 L972.0,950.9 L972.7,949.6 L973.4,948.2 L974.2,946.8 L974.9,945.4 L975.7,944.1 L976.4,942.7 L977.2,941.3 L977.9,939.9 L978.7,938.6 L979.4,937.2 L980.2,935.8 L981.0,934.5 L981.7,933.1 L982.5,931.7 L983.3,930.4 L984.0,929.0 L984.8,927.6 L985.6,926.3 L986.4,924.9 L987.1,923.6 L987.9,922.2 L988.7,920.9 L989.5,919.5 L990.3,918.2 L991.1,916.8 L991.9,915.5 L992.7,914.1 L993.5,912.8 L994.3,911.5 L995.1,910.1 L995.9,908.8 L996.7,907.5 L997.5,906.1 L998.4,904.8 L999.2,903.5 L1000.0,902.2 L1000.8,900.9 L1001.7,899.6 L1002.5,898.3 L1003.4,897.0 L1004.2,895.7 L1005.0,894.4 L1005.9,893.1 L1006.8,891.8 L1007.6,890.5 L1008.5,889.2 L1009.3,887.9 L1010.2,886.7 L1011.1,885.4 L1012.0,884.1 L1012.8,882.9 L1013.7,881.6 L1014.6,880.4 L1015.5,879.1 L1016.4,877.9 L1017.3,876.6 L1018.2,875.4 L1019.1,874.2 L1020.0,872.9 L1021.0,871.7 L1021.9,870.5 L1022.8,869.3 L1023.7,868.1 L1024.7,866.9 L1025.6,865.7 L1026.6,864.5 L1027.5,863.3 L1028.5,862.1 L1029.4,861.0 L1030.4,859.8 L1031.4,858.6 L1032.4,857.5 L1033.3,856.3 L1034.3,855.2 L1035.3,854.0 L1036.3,852.9 L1037.3,851.8 L1038.3,850.6 L1039.3,849.5 L1040.3,848.4 L1041.4,847.3 L1042.4,846.2 L1043.4,845.1 L1044.5,844.1 L1045.5,843.0 L1046.6,841.9 L1047.6,840.8 L1048.7,839.8 L1049.7,838.7 L1050.8,837.7 L1051.9,836.7 L1053.0,835.6 L1054.1,834.6 L1055.2,833.6 L1056.3,832.6 L1057.4,831.6 L1058.5,830.6 L1059.6,829.6 L1060.7,828.7 L1061.9,827.7 L1063.0,826.7 L1064.2,825.8 L1065.3,824.8 L1066.5,823.9 L1067.6,823.0 L1068.8,822.1 L1070.0,821.2 L1071.2,820.3 L1072.4,819.4 L1073.5,818.5 L1074.8,817.6 L1076.0,816.7 L1077.2,815.9 L1078.4,815.0 L1079.6,814.2 L1080.9,813.4 L1082.1,812.5 L1083.4,811.7 L1084.6,810.9 L1085.9,810.1 L1087.2,809.3 L1088.5,808.6 L1089.8,807.8 L1091.1,807.0 L1092.4,806.3 L1093.7,805.6 L1095.0,804.8 L1096.3,804.1 L1097.7,803.4 L1099.0,802.7 L1100.3,802.0 L1101.7,801.3 L1103.1,800.7 L1104.4,800.0 L1105.8,799.4 L1107.2,798.7 L1108.6,798.1 L1110.0,797.5 L1111.4,796.9 L1112.8,796.3 L1114.3,795.7 L1115.7,795.2 L1117.2,794.6 L1118.6,794.1 L1120.1,793.5 L1121.5,793.0 L1123.0,792.5 L1124.5,792.0 L1126.0,791.5 L1127.5,791.0 L1129.0,790.5 L1130.5,790.1 L1132.1,789.6 L1133.6,789.2 L1135.1,788.7 L1136.7,788.3 L1138.2,787.9 L1139.8,787.4 L1141.3,787.0 L1142.9,786.6 L1144.4,786.2 L1146.0,785.8 L1147.6,785.4 L1149.1,785.0 L1150.7,784.6 L1152.3,784.2 L1153.9,783.8 L1155.4,783.4 L1157.0,783.0 L1158.6,782.6 L1160.1,782.2 L1161.7,781.8 L1163.3,781.4 L1164.8,781.0 L1166.4,780.6 L1167.9,780.2 L1169.5,779.7 L1171.1,779.3 L1172.6,778.9 L1174.1,778.4 L1175.7,778.0 L1177.2,777.5 L1178.7,777.1 L1180.2,776.6 L1181.7,776.1 L1183.3,775.6 L1184.7,775.1 L1186.2,774.6 L1187.7,774.0 L1189.2,773.5 L1190.6,772.9 L1192.1,772.3 L1193.5,771.7 L1194.9,771.1 L1196.4,770.5 L1197.8,769.9 L1199.2,769.2 L1200.5,768.5 L1201.9,767.9 L1203.3,767.2 L1204.6,766.4 L1206.0,765.7 L1207.3,765.0 L1208.6,764.2 L1209.9,763.4 L1211.2,762.6 L1212.5,761.9 L1213.8,761.0 L1215.1,760.2 L1216.3,759.4 L1217.6,758.5 L1218.8,757.7 L1220.1,756.8 L1221.3,755.9 L1222.5,755.0 L1223.7,754.1 L1224.9,753.2 L1226.1,752.3 L1227.3,751.4 L1228.5,750.4 L1229.6,749.5 L1230.8,748.5 L1232.0,747.5 L1233.1,746.6 L1234.2,745.6 L1235.4,744.6 L1236.5,743.6 L1237.6,742.6 L1238.7,741.5 L1239.8,740.5 L1240.9,739.5 L1242.0,738.4 L1243.1,737.4 L1244.2,736.3 L1245.2,735.2 L1246.3,734.2 L1247.4,733.1 L1248.4,732.0 L1249.5,730.9 L1250.5,729.8 L1251.5,728.7 L1252.5,727.6 L1253.6,726.4 L1254.6,725.3 L1255.6,724.1 L1256.6,723.0 L1257.6,721.8 L1258.5,720.7 L1259.5,719.5 L1260.5,718.3 L1261.5,717.2 L1262.4,716.0 L1263.4,714.8 L1264.3,713.6 L1265.3,712.4 L1266.2,711.1 L1267.2,709.9 L1268.1,708.7 L1269.0,707.5 L1269.9,706.2 L1270.8,705.0 L1271.7,703.7 L1272.6,702.5 L1273.5,701.2 L1274.4,700.0 L1275.3,698.7 L1276.2,697.4 L1277.1,696.1 L1277.9,694.9 L1278.8,693.6 L1279.7,692.3 L1280.5,691.0 L1281.4,689.7 L1282.2,688.4 L1283.1,687.1 L1283.9,685.7 L1284.8,684.4 L1285.6,683.1 L1286.4,681.8 L1287.2,680.4 L1288.1,679.1 L1288.9,677.8 L1289.7,676.4 L1290.5,675.1 L1291.3,673.7 L1292.1,672.4 L1292.9,671.0 L1293.7,669.6 L1294.5,668.3 L1295.2,666.9 L1296.0,665.5 L1296.8,664.2 L1297.6,662.8 L1298.3,661.4 L1299.1,660.0 L1299.9,658.6 L1300.6,657.2 L1301.4,655.9 L1302.2,654.5 L1302.9,653.1 L1303.7,651.7 L1304.4,650.3 L1305.1,648.9 L1305.9,647.5 L1306.6,646.1 L1307.4,644.6 L1308.1,643.2 L1308.8,641.8 L1309.5,640.4 L1310.3,639.0 L1311.0,637.6 L1311.7,636.2 L1312.4,634.8 L1313.1,633.3 L1313.9,631.9 L1314.6,630.5 L1315.3,629.1 L1316.0,627.7 L1316.7,626.2 L1317.4,624.8 L1318.1,623.4 L1318.8,622.0 L1319.5,620.5 L1320.2,619.1 L1320.9,617.7 L1321.6,616.3 L1322.3,614.8 L1323.0,613.4 L1323.7,612.0 L1324.4,610.6 L1325.0,609.1 L1325.7,607.7 L1326.4,606.3 L1327.1,604.9 L1327.8,603.4 L1328.5,602.0 L1329.2,600.6 L1329.8,599.2 L1330.5,597.8 L1331.2,596.3 L1331.9,594.9 L1332.6,593.5 L1333.2,592.1 L1333.9,590.7 L1334.6,589.3 L1335.3,587.9 L1335.9,586.4 L1336.6,585.0 L1337.3,583.6 L1338.0,582.2 L1338.6,580.8 L1339.3,579.4 L1340.0,578.0 L1340.7,576.6 L1341.3,575.2 L1342.0,573.8 L1342.7,572.4 L1343.3,571.0 L1344.0,569.6 L1344.7,568.2 L1345.4,566.8 L1346.0,565.4 L1346.7,564.0 L1347.4,562.6 L1348.0,561.2 L1348.7,559.8 L1349.4,558.4 L1350.0,557.0 L1350.7,555.6 L1351.4,554.2 L1352.0,552.9 L1352.7,551.5 L1353.4,550.1 L1354.0,548.7 L1354.7,547.3 L1355.4,545.9 L1356.1,544.5 L1356.7,543.2 L1357.4,541.8 L1358.1,540.4 L1358.7,539.0 L1359.4,537.6 L1360.1,536.2 L1360.7,534.9 L1361.4,533.5 L1362.1,532.1 L1362.7,530.7 L1363.4,529.4 L1364.1,528.0 L1364.7,526.6 L1365.4,525.2 L1366.1,523.9 L1366.7,522.5 L1367.4,521.1 L1368.1,519.7 L1368.7,518.4 L1369.4,517.0 L1370.1,515.6 L1370.8,514.3 L1371.4,512.9 L1372.1,511.5 L1372.8,510.1 L1373.4,508.8 L1374.1,507.4 L1374.8,506.0 L1375.5,504.7 L1376.1,503.3 L1376.8,502.0 L1377.5,500.6 L1378.2,499.2 L1378.8,497.9 L1379.5,496.5 L1380.2,495.1 L1380.9,493.8 L1381.6,492.4 L1382.2,491.1 L1382.9,489.7 L1383.6,488.3 L1384.3,487.0 L1385.0,485.6 L1385.6,484.3 L1386.3,482.9 L1387.0,481.6 L1387.7,480.2 L1388.4,478.9 L1389.1,477.5 L1389.8,476.1 L1390.4,474.8 L1391.1,473.4 L1391.8,472.1 L1392.5,470.7 L1393.2,469.4 L1393.9,468.0 L1394.6,466.7 L1395.3,465.3 L1396.0,464.0 L1396.7,462.6 L1397.4,461.3 L1398.1,459.9 L1398.8,458.6 L1399.5,457.2 L1400.2,455.9 L1400.9,454.5 L1401.6,453.2 L1402.3,451.9 L1403.0,450.5 L1403.7,449.2 L1404.4,447.8 L1405.1,446.5 L1405.8,445.1 L1406.6,443.8 L1407.3,442.4 L1408.0,441.1 L1408.7,439.8 L1409.4,438.4 L1410.1,437.1 L1410.9,435.7 L1411.6,434.4 L1412.3,433.0 L1413.0,431.7 L1413.7,430.4 L1414.5,429.0 L1415.2,427.7 L1415.9,426.3 L1416.7,425.0 L1417.4,423.7 L1418.1,422.3 L1418.9,421.0 L1419.6,419.6 L1420.3,418.3 L1421.1,417.0 L1421.8,415.6 L1422.6,414.3 L1423.3,412.9 L1424.1,411.6 L1424.8,410.3 L1425.6,408.9 L1426.3,407.6 L1427.1,406.3 L1427.8,404.9 L1428.6,403.6 L1429.3,402.2 L1430.1,400.9 L1430.9,399.6 L1431.6,398.2 L1432.4,396.9 L1433.2,395.6 L1433.9,394.2 L1434.7,392.9 L1435.5,391.6 L1436.3,390.2 L1437.0,388.9 L1437.8,387.5 L1438.6,386.2 L1439.4,384.9 L1440.2,383.5 L1441.0,382.2 L1441.7,380.9 L1442.5,379.5 L1443.3,378.2 L1444.1,376.9 L1444.9,375.5 L1445.7,374.2 L1446.5,372.8 L1447.3,371.5 L1448.1,370.2 L1448.9,368.8 L1449.8,367.5 L1450.6,366.2 L1451.4,364.8 L1452.2,363.5 L1453.0,362.2 L1453.8,360.8 L1454.7,359.5 L1455.5,358.2 L1456.3,356.8 L1457.2,355.5 L1458.0,354.1 L1458.8,352.8 L1459.7,351.5 L1460.5,350.1 L1461.4,348.8 L1462.2,347.5 L1463.1,346.1 L1463.9,344.8 L1464.8,343.5 L1465.6,342.1 L1466.5,340.8 L1467.3,339.5 L1468.2,338.1 L1469.1,336.8 L1469.9,335.5 L1470.8,334.1 L1471.7,332.8 L1472.6,331.5 L1473.5,330.2 L1474.4,328.8 L1475.2,327.5 L1476.1,326.2 L1477.0,324.9 L1477.9,323.6 L1478.8,322.3 L1479.8,321.0 L1480.7,319.7 L1481.6,318.4 L1482.5,317.1 L1483.4,315.8 L1484.4,314.5 L1485.3,313.2 L1486.2,311.9 L1487.2,310.7 L1488.1,309.4 L1489.1,308.1 L1490.0,306.9 L1491.0,305.6 L1492.0,304.3 L1492.9,303.1 L1493.9,301.9 L1494.9,300.6 L1495.9,299.4 L1496.8,298.2 L1497.8,296.9 L1498.8,295.7 L1499.8,294.5 L1500.8,293.3 L1501.8,292.1 L1502.9,290.9 L1503.9,289.7 L1504.9,288.5 L1506.0,287.4 L1507.0,286.2 L1508.0,285.1 L1509.1,283.9 L1510.1,282.8 L1511.2,281.6 L1512.3,280.5 L1513.3,279.4 L1514.4,278.3 L1515.5,277.2 L1516.6,276.1 L1517.7,275.0 L1518.8,273.9 L1519.9,272.8 L1521.0,271.8 L1522.1,270.7 L1523.3,269.7 L1524.4,268.6 L1525.5,267.6 L1526.7,266.6 L1527.8,265.6 L1529.0,264.6 L1530.2,263.6 L1531.3,262.6 L1532.5,261.7 L1533.7,260.7 L1534.9,259.8 L1536.1,258.8 L1537.3,257.9 L1538.5,257.0 L1539.7,256.1 L1541.0,255.2 L1542.2,254.3 L1543.4,253.5 L1544.7,252.6 L1546.0,251.8 L1547.2,250.9 L1548.5,250.1 L1549.8,249.3 L1551.1,248.5 L1552.4,247.7 L1553.7,247.0 L1555.0,246.2 L1556.3,245.5 L1557.6,244.7 L1559.0,244.0 L1560.3,243.3 L1561.7,242.6 L1563.0,241.9 L1564.4,241.3 L1565.8,240.6 L1567.2,240.0 L1568.5,239.4 L1570.0,238.7 L1571.4,238.2 L1572.8,237.6 L1574.2,237.0 L1575.6,236.5 L1577.1,235.9 L1578.5,235.4 L1580.0,234.9 L1581.4,234.4 L1582.9,233.9 L1584.4,233.5 L1585.8,233.0 L1587.3,232.6 L1588.8,232.2 L1590.3,231.7 L1591.8,231.4 L1593.3,231.0 L1594.8,230.6 L1596.3,230.3 L1597.8,229.9 L1599.3,229.6 L1600.8,229.3 L1602.4,229.0 L1603.9,228.8 L1605.4,228.5 L1606.9,228.3 L1608.5,228.0 L1610.0,227.8 L1611.6,227.6 L1613.1,227.5 L1614.6,227.3 L1616.2,227.1 L1617.7,227.0 L1619.3,226.9 L1620.8,226.8 L1622.4,226.7 L1623.9,226.6 L1625.5,226.6 L1627.0,226.5 L1628.5,226.5 L1630.1,226.5 L1631.6,226.5 L1633.2,226.5 L1634.7,226.6 L1636.3,226.6 L1637.8,226.7 L1639.3,226.8 L1640.9,226.9 L1642.4,227.0 L1644.0,227.2 L1645.5,227.3 L1647.0,227.5 L1648.5,227.7 L1650.1,227.9 L1651.6,228.1 L1653.1,228.3 L1654.6,228.6 L1656.1,228.9 L1657.6,229.1 L1659.1,229.4 L1660.6,229.8 L1662.1,230.1 L1663.6,230.5 L1665.0,230.8 L1666.5,231.2 L1668.0,231.6 L1669.4,232.0 L1670.9,232.5 L1672.3,232.9 L1673.8,233.4 L1675.2,233.9 L1676.6,234.4 L1678.1,234.9 L1679.5,235.5 L1680.9,236.0 L1682.3,236.6 L1683.7,237.2 L1685.1,237.8 L1686.4,238.4 L1687.8,239.1 L1689.2,239.7 L1690.5,240.4 L1691.8,241.1 L1693.2,241.8 L1694.5,242.6 L1695.8,243.3 L1697.1,244.1 L1698.4,244.9 L1699.7,245.7 L1700.9,246.5 L1702.2,247.3 L1703.4,248.2 L1704.7,249.1 L1705.9,250.0 L1707.1,250.9 L1708.3,251.8 L1709.5,252.8 L1710.7,253.7 L1711.8,254.7 L1713.0,255.7 L1714.1,256.8 L1715.2,257.8 L1716.4,258.8 L1717.5,259.9 L1718.6,261.0 L1719.6,262.1 L1720.7,263.2 L1721.8,264.3 L1722.8,265.5 L1723.9,266.6 L1724.9,267.8 L1725.9,269.0 L1726.9,270.2 L1727.9,271.4 L1728.9,272.6 L1729.9,273.8 L1730.8,275.1 L1731.8,276.3 L1732.8,277.6 L1733.7,278.8 L1734.6,280.1 L1735.5,281.4 L1736.5,282.7 L1737.4,284.0 L1738.3,285.3 L1739.1,286.6 L1740.0,287.9 L1740.9,289.2 L1741.8,290.6 L1742.6,291.9 L1743.4,293.3 L1744.3,294.6 L1745.1,296.0 L1745.9,297.3 L1746.8,298.7 L1747.6,300.0 L1748.4,301.4 L1749.2,302.7 L1749.9,304.1 L1750.7,305.5 L1751.5,306.9 L1752.3,308.2 L1753.0,309.6 L1753.8,311.0 L1754.5,312.4 L1755.3,313.8 L1756.0,315.1 L1756.7,316.5 L1757.5,317.9 L1758.2,319.3 L1758.9,320.7 L1759.6,322.1 L1760.3,323.5 L1761.0,324.9 L1761.7,326.3 L1762.4,327.7 L1763.1,329.1 L1763.8,330.5 L1764.5,331.9 L1765.1,333.3 L1765.8,334.7 L1766.5,336.1 L1767.1,337.5 L1767.8,339.0 L1768.4,340.4 L1769.1,341.8 L1769.7,343.2 L1770.4,344.6 L1771.0,346.0 L1771.7,347.5 L1772.3,348.9 L1772.9,350.3 L1773.6,351.7 L1774.2,353.1 L1774.8,354.6 L1775.5,356.0 L1776.1,357.4 L1776.7,358.8 L1777.3,360.2 L1778.0,361.7 L1778.6,363.1 L1779.2,364.5 L1779.8,365.9 L1780.4,367.4 L1781.0,368.8 L1781.6,370.2 L1782.3,371.6 L1782.9,373.1 L1783.5,374.5 L1784.1,375.9 L1784.7,377.4 L1785.3,378.8 L1785.9,380.2 L1786.5,381.6 L1787.1,383.1 L1787.7,384.5 L1788.3,385.9 L1788.9,387.3 L1789.5,388.8 L1790.1,390.2 L1790.7,391.6 L1791.2,393.1 L1791.8,394.5 L1792.4,395.9 L1793.0,397.4 L1793.6,398.8 L1794.2,400.2 L1794.8,401.6 L1795.3,403.1 L1795.9,404.5 L1796.5,405.9 L1797.1,407.4 L1797.7,408.8 L1798.2,410.2 L1798.8,411.7 L1799.4,413.1 L1800.0,414.5 L1800.5,416.0 L1801.1,417.4 L1801.7,418.8 L1802.2,420.3 L1802.8,421.7 L1803.4,423.2 L1803.9,424.6 L1804.5,426.0 L1805.0,427.5 L1805.6,428.9 L1806.2,430.3 L1806.7,431.8 L1807.3,433.2 L1807.8,434.7 L1808.4,436.1 L1808.9,437.5 L1809.5,439.0 L1810.0,440.4 L1810.6,441.9 L1811.1,443.3 L1811.7,444.7 L1812.2,446.2 L1812.7,447.6 L1813.3,449.1 L1813.8,450.5 L1814.4,451.9 L1814.9,453.4 L1815.4,454.8 L1816.0,456.3 L1816.5,457.7 L1817.0,459.2 L1817.6,460.6 L1818.1,462.1 L1818.6,463.5 L1819.2,464.9 L1819.7,466.4 L1820.2,467.8 L1820.7,469.3 L1821.3,470.7 L1821.8,472.2 L1822.3,473.6 L1822.8,475.1 L1823.4,476.5 L1823.9,478.0 L1824.4,479.4 L1824.9,480.9 L1825.4,482.3 L1825.9,483.8 L1826.4,485.2 L1827.0,486.7 L1827.5,488.1 L1828.0,489.6 L1828.5,491.0 L1829.0,492.5 L1829.5,493.9 L1830.0,495.4 L1830.5,496.9 L1831.0,498.3 L1831.5,499.8 L1832.0,501.2 L1832.5,502.7 L1833.0,504.1 L1833.5,505.6 L1834.0,507.1 L1834.5,508.5 L1835.0,510.0 L1835.5,511.4 L1835.9,512.9 L1836.4,514.3 L1836.9,515.8 L1837.4,517.3 L1837.9,518.7 L1838.4,520.2 L1838.9,521.7 L1839.3,523.1 L1839.8,524.6 L1840.3,526.0 L1840.8,527.5 L1841.3,529.0 L1841.7,530.4 L1842.2,531.9 L1842.7,533.4 L1843.2,534.8 L1843.6,536.3 L1844.1,537.8 L1844.6,539.2 L1845.0,540.7 L1845.5,542.2 L1846.0,543.6 L1846.4,545.1 L1846.9,546.6 L1847.4,548.0 L1847.8,549.5 L1848.3,551.0 L1848.8,552.5 L1849.2,553.9 L1849.7,555.4 L1850.1,556.9 L1850.6,558.3 L1851.0,559.8 L1851.5,561.3 L1852.0,562.8 L1852.4,564.2 L1852.9,565.7 L1853.3,567.2 L1853.8,568.7 L1854.2,570.2 L1854.6,571.6 L1855.1,573.1 L1855.5,574.6 L1856.0,576.1 L1856.4,577.5 L1856.9,579.0 L1857.3,580.5 L1857.7,582.0 L1858.2,583.5 L1858.6,585.0 L1859.1,586.4 L1859.5,587.9 L1859.9,589.4 L1860.4,590.9 L1860.8,592.4 L1861.2,593.9 L1861.6,595.3 L1862.1,596.8 L1862.5,598.3 L1862.9,599.8 L1863.4,601.3 L1863.8,602.8 L1864.2,604.3 L1864.6,605.8 L1865.1,607.3 L1865.5,608.7 L1865.9,610.2 L1866.3,611.7 L1866.7,613.2 L1867.1,614.7 L1867.6,616.2 L1868.0,617.7 L1868.4,619.2 L1868.8,620.7 L1869.2,622.2 L1869.6,623.7 L1870.0,625.2 L1870.4,626.7 L1870.9,628.2 L1871.3,629.7 L1871.7,631.2 L1872.1,632.7 L1872.5,634.2 L1872.9,635.7 L1873.3,637.2 L1873.7,638.7 L1874.1,640.2 L1874.5,641.7 L1876.1,641.0 L1876.1,657.0 L1876.7,656.6 L1877.1,658.2 L1877.5,659.8 L1877.9,661.4 L1878.3,662.9 L1878.7,664.5 L1879.1,666.1 L1879.5,667.6 L1880.0,669.2 L1880.4,670.8 L1880.8,672.4 L1881.2,673.9 L1881.6,675.5 L1882.0,677.1 L1882.4,678.6 L1882.8,680.2 L1883.2,681.8 L1883.6,683.4 L1884.0,684.9 L1884.4,686.5 L1884.8,688.1 L1885.2,689.6 L1885.6,691.2 L1886.0,692.8 L1886.4,694.4 L1886.8,695.9 L1887.2,697.5 L1887.6,699.1 L1888.0,700.6 L1888.4,702.2 L1888.8,703.8 L1889.2,705.4 L1889.6,706.9 L1890.0,708.5 L1890.4,710.1 L1890.7,711.6 L1891.1,713.2 L1891.5,714.8 L1891.9,716.4 L1892.3,717.9 L1892.7,719.5 L1893.1,721.1 L1893.5,722.7 L1893.9,724.2 L1894.3,725.8 L1894.7,727.4 L1895.1,728.9 L1895.4,730.5 L1895.8,732.1 L1896.2,733.7 L1896.6,735.2 L1897.0,736.8 L1897.4,738.4 L1897.8,740.0 L1898.2,741.5 L1898.5,743.1 L1898.9,744.7 L1899.3,746.2 L1899.7,747.8 L1900.1,749.4 L1900.5,751.0 L1900.9,752.5 L1901.2,754.1 L1901.6,755.7 L1902.0,757.3 L1902.4,758.8 L1902.8,760.4 L1903.2,762.0 L1903.5,763.5 L1903.9,765.1 L1904.3,766.7 L1904.7,768.3 L1905.1,769.8 L1905.5,771.4 L1905.8,773.0 L1906.2,774.6 L1906.6,776.1 L1907.0,777.7 L1907.4,779.3 L1907.7,780.8 L1908.1,782.4 L1908.5,784.0 L1908.9,785.6 L1909.3,787.1 L1909.6,788.7 L1910.0,790.3 L1910.4,791.9 L1910.8,793.4 L1911.1,795.0 L1911.5,796.6 L1911.9,798.2 L1912.3,799.7 L1912.6,801.3 L1913.0,802.9 L1913.4,804.4 L1913.8,806.0 L1914.2,807.6 L1914.5,809.2 L1914.9,810.7 L1915.3,812.3 L1915.7,813.9 L1916.0,815.5 L1916.4,817.0 L1916.8,818.6 L1917.1,820.2 L1917.5,821.7 L1917.9,823.3 L1918.3,824.9 L1918.6,826.5 L1919.0,828.0 L1919.4,829.6 L1919.8,831.2 L1920.1,832.8 L1920.5,834.3 L1920.9,835.9 L1921.3,837.5 L1921.6,839.1 L1922.0,840.6 L1922.4,842.2 L1922.7,843.8 L1923.1,845.3 L1923.5,846.9 L1923.9,848.5 L1924.2,850.1 L1924.6,851.6 L1925.0,853.2 L1925.3,854.8 L1925.7,856.4 L1926.1,857.9 L1926.5,859.5 L1926.8,861.1 L1927.2,862.6 L1927.6,864.2 L1927.9,865.8 L1928.3,867.4 L1928.7,868.9 L1929.0,870.5 L1929.4,872.1 L1929.8,873.7 L1930.2,875.2 L1930.5,876.8 L1930.9,878.4 L1931.3,879.9 L1931.6,881.5 L1932.0,883.1 L1932.4,884.7 L1932.7,886.2 L1933.1,887.8 L1933.5,889.4 L1933.9,891.0 L1934.2,892.5 L1934.6,894.1 L1935.0,895.7 L1935.3,897.2 L1935.7,898.8 L1936.1,900.4 L1936.4,902.0 L1936.8,903.5 L1937.2,905.1 L1937.5,906.7 L1937.9,908.2 L1938.3,909.8 L1938.7,911.4 L1939.0,913.0 L1939.4,914.5 L1939.8,916.1 L1940.1,917.7 L1940.5,919.2 L1940.9,920.8 L1941.2,922.4 L1941.6,924.0 L1942.0,925.5 L1942.4,927.1 L1942.7,928.7 L1943.1,930.2 L1943.5,931.8 L1943.8,933.4 L1944.2,935.0 L1944.6,936.5 L1944.9,938.1 L1945.3,939.7 L1945.7,941.2 L1946.1,942.8 L1946.4,944.4 L1946.8,946.0 L1947.2,947.5 L1947.5,949.1 L1947.9,950.7 L1948.3,952.2 L1948.7,953.8 L1949.0,955.4 L1949.4,956.9 L1949.8,958.5 L1950.1,960.1 L1950.5,961.7 L1950.9,963.2 L1951.3,964.8 L1951.6,966.4 L1952.0,967.9 L1952.4,969.5 L1952.7,971.1 L1953.1,972.7 L1953.5,974.2 L1953.9,975.8 L1954.2,977.4 L1954.6,978.9 L1955.0,980.5 L1955.4,982.1 L1955.7,983.6 L1956.1,985.2 L1956.5,986.8 L1956.9,988.3 L1957.2,989.9 L1957.6,991.5 L1958.0,993.1 L1958.4,994.6 L1958.7,996.2 L1959.1,997.8 L1959.5,999.3 L1959.9,1000.9 L1960.2,1002.5 L1960.6,1004.0 L1961.0,1005.6 L1961.4,1007.2 L1961.7,1008.7 L1962.1,1010.3 L1962.5,1011.9 L1962.9,1013.4 L1963.3,1015.0 L1963.6,1016.6 L1964.0,1018.1 L1964.4,1019.7 L1964.8,1021.3 L1965.1,1022.8 L1965.5,1024.4 L1965.9,1026.0 L1966.3,1027.6 L1966.7,1029.1 L1967.0,1030.7 L1967.4,1032.3 L1967.8,1033.8 L1968.2,1035.4 L1968.6,1037.0 L1969.0,1038.5 L1969.3,1040.1 L1969.7,1041.7 L1970.1,1043.2 L1970.5,1044.8 L1970.9,1046.4 L1971.3,1047.9 L1971.6,1049.5 L1972.0,1051.1 L1972.4,1052.6 L1972.8,1054.2 L1973.2,1055.7 L1973.6,1057.3 L1973.9,1058.9 L1974.3,1060.4 L1974.7,1062.0 L1975.1,1063.6 L1975.5,1065.1 L1975.9,1066.7 L1976.3,1068.3 L1976.7,1069.8 L1977.0,1071.4 L1977.4,1073.0 L1977.8,1074.5 L1978.2,1076.1 L1978.6,1077.7 L1979.0,1079.2 L1979.4,1080.8 L1979.8,1082.4 L1980.2,1083.9 L1980.6,1085.5 L1981.0,1087.0 L1981.3,1088.6 L1981.7,1090.2 L1982.1,1091.7 L1982.5,1093.3 L1982.9,1094.9 L1983.3,1096.4 L1983.7,1098.0 L1984.1,1099.6 L1984.5,1101.1 L1984.9,1102.7 L1985.3,1104.2 L1985.7,1105.8 L1986.1,1107.4 L1986.5,1108.9 L1986.9,1110.5 L1987.3,1112.0 L1987.7,1113.6 L1988.1,1115.2 L1988.5,1116.7 L1988.9,1118.3 L1989.3,1119.9 L1989.7,1121.4 L1990.1,1123.0 L1990.5,1124.5 L1990.9,1126.1 L1991.3,1127.7 L1991.7,1129.2 L1992.1,1130.8 L1992.5,1132.3 L1992.9,1133.9 L1993.3,1135.5 L1993.7,1137.0 L1994.1,1138.6 L1994.6,1140.1 L1995.0,1141.7 L1995.4,1143.3 L1995.8,1144.8 L1996.2,1146.4 L1996.6,1147.9 L1997.0,1149.5 L1997.4,1151.1 L1997.8,1152.6 L1998.2,1154.2 L1998.7,1155.7 L1999.1,1157.3 L1999.5,1158.9 L1999.9,1160.4 L2000.3,1162.0 L2000.7,1163.5 L2001.1,1165.1 L2001.6,1166.6 L2002.0,1168.2 L2002.4,1169.8 L2002.8,1171.3 L2003.2,1172.9 L2003.7,1174.4 L2004.1,1176.0 L2004.5,1177.5 L2004.9,1179.1 L2005.3,1180.7 L2005.8,1182.2 L2006.2,1183.8 L2006.6,1185.3 L2007.0,1186.9 L2007.5,1188.4 L2007.9,1190.0 L2008.3,1191.6 L2008.7,1193.1 L2009.2,1194.7 L2009.6,1196.2 L2010.0,1197.8 L2010.5,1199.3 L2010.9,1200.9 L2011.3,1202.4 L2011.7,1204.0 L2012.2,1205.5 L2012.6,1207.1 L2013.0,1208.7 L2013.5,1210.2 L2013.9,1211.8 L2014.3,1213.3 L2014.8,1214.9 L2015.2,1216.4 L2015.7,1218.0 L2016.1,1219.5 L2016.5,1221.1 L2017.0,1222.6 L2017.4,1224.2 L2017.8,1225.7 L2018.3,1227.3 L2018.7,1228.8 L2019.2,1230.4 L2019.6,1231.9 L2020.1,1233.5 L2020.5,1235.1 L2021.0,1236.6 L2021.4,1238.2 L2021.8,1239.7 L2022.3,1241.3 L2022.7,1242.8 L2023.2,1244.4 L2023.6,1245.9 L2024.1,1247.5 L2024.5,1249.0 L2025.0,1250.6 L2025.4,1252.1 L2025.9,1253.7 L2026.4,1255.2 L2026.8,1256.8 L2027.3,1258.3 L2027.7,1259.9 L2028.2,1261.4 L2028.6,1263.0 L2029.1,1264.5 L2029.6,1266.0 L2030.0,1267.6 L2030.5,1269.1 L2030.9,1270.7 L2031.4,1272.2 L2031.9,1273.8 L2032.3,1275.3 L2032.8,1276.9 L2033.3,1278.4 L2033.7,1280.0 L2034.2,1281.5 L2034.7,1283.1 L2035.1,1284.6 L2035.6,1286.2 L2036.1,1287.7 L2036.5,1289.2 L2037.0,1290.8 L2037.5,1292.3 L2038.0,1293.9 L2038.4,1295.4 L2038.9,1297.0 L2039.4,1298.5 L2039.9,1300.1 L2040.3,1301.6 L2040.8,1303.2 L2041.3,1304.7 L2041.8,1306.2 L2042.3,1307.8 L2042.7,1309.3 L2043.2,1310.9 L2043.7,1312.4 L2044.2,1314.0 L2044.7,1315.5 L2045.2,1317.0 L2045.7,1318.6 L2046.1,1320.1 L2046.6,1321.7 L2047.1,1323.2 L2047.6,1324.7 L2048.1,1326.3 L2048.6,1327.8 L2049.1,1329.4 L2049.6,1330.9 L2050.1,1332.5 L2050.6,1334.0 L2051.1,1335.5 L2051.6,1337.1 L2052.1,1338.6 L2052.6,1340.2 L2053.1,1341.7 L2053.6,1343.2 L2054.1,1344.8 L2054.6,1346.3 L2055.1,1347.8 L2055.6,1349.4 L2056.1,1350.9 L2056.6,1352.5 L2057.1,1354.0 L2057.6,1355.5 L2058.2,1357.1 L2058.7,1358.6 L2059.2,1360.1 L2059.7,1361.7 L2060.2,1363.2 L2060.7,1364.8 L2061.2,1366.3 L2061.8,1367.8 L2062.3,1369.4 L2062.8,1370.9 L2063.3,1372.4 L2063.8,1374.0 L2064.4,1375.5 L2064.9,1377.0 L2065.4,1378.6 L2065.9,1380.1 L2066.5,1381.6 L2067.0,1383.2 L2067.5,1384.7 L2068.0,1386.2 L2068.6,1387.8 L2069.1,1389.3 L2069.6,1390.8 L2070.2,1392.4 L2070.7,1393.9 L2071.3,1395.4 L2071.8,1397.0 L2072.3,1398.5 L2072.9,1400.0 L2073.4,1401.6 L2073.9,1403.1 L2074.5,1404.6 L2075.0,1406.2 L2075.6,1407.7 L2076.1,1409.2 L2076.7,1410.7 L2077.2,1412.3 L2077.8,1413.8 L2078.3,1415.3 L2078.9,1416.9 L2079.4,1418.4 L2080.0,1419.9 L2080.5,1421.4 L2081.1,1423.0 L2081.6,1424.5 L2082.2,1426.0 L2082.8,1427.6 L2083.3,1429.1 L2083.9,1430.6 L2084.4,1432.1 L2085.0,1433.7 L2085.6,1435.2 L2086.1,1436.7 L2086.7,1438.2 L2087.3,1439.8 L2087.8,1441.3 L2088.4,1442.8 L2089.0,1444.3 L2089.6,1445.9 L2090.1,1447.4 L2090.7,1448.9 L2091.3,1450.4 L2091.9,1452.0 L2092.4,1453.5 L2093.0,1455.0 L2093.6,1456.5 L2094.2,1458.1 L2094.8,1459.6 L2095.4,1461.1 L2095.9,1462.6 L2096.5,1464.1 L2097.1,1465.7 L2097.7,1467.2 L2098.3,1468.7 L2098.9,1470.2 L2099.5,1471.7 L2100.1,1473.3 L2100.7,1474.8 L2101.3,1476.3 L2101.9,1477.8 L2102.5,1479.3 L2103.1,1480.9 L2103.7,1482.4 L2104.3,1483.9 L2104.9,1485.4 L2105.5,1486.9 L2106.1,1488.4 L2106.7,1489.9 L2107.4,1491.4 L2108.0,1493.0 L2108.6,1494.5 L2109.2,1496.0 L2109.8,1497.5 L2110.5,1499.0 L2111.1,1500.5 L2111.7,1502.0 L2112.4,1503.5 L2113.0,1505.0 L2113.7,1506.5 L2114.3,1508.0 L2114.9,1509.5 L2115.6,1511.0 L2116.3,1512.5 L2116.9,1513.9 L2117.6,1515.4 L2118.2,1516.9 L2118.9,1518.4 L2119.6,1519.9 L2120.2,1521.4 L2120.9,1522.8 L2121.6,1524.3 L2122.3,1525.8 L2123.0,1527.3 L2123.6,1528.7 L2124.3,1530.2 L2125.0,1531.7 L2125.7,1533.1 L2126.4,1534.6 L2127.1,1536.0 L2127.8,1537.5 L2128.6,1538.9 L2129.3,1540.4 L2130.0,1541.8 L2130.7,1543.3 L2131.5,1544.7 L2132.2,1546.2 L2132.9,1547.6 L2133.7,1549.0 L2134.4,1550.4 L2135.2,1551.9 L2135.9,1553.3 L2136.7,1554.7 L2137.5,1556.1 L2138.2,1557.6 L2139.0,1559.0 L2139.8,1560.4 L2140.6,1561.8 L2141.4,1563.2 L2142.2,1564.6 L2143.0,1566.0 L2143.8,1567.4 L2144.6,1568.7 L2145.4,1570.1 L2146.2,1571.5 L2147.0,1572.9 L2147.9,1574.3 L2148.7,1575.6 L2149.5,1577.0 L2150.4,1578.3 L2151.2,1579.7 L2152.1,1581.1 L2153.0,1582.4 L2153.8,1583.7 L2154.7,1585.1 L2155.6,1586.4 L2156.5,1587.8 L2157.4,1589.1 L2158.3,1590.4 L2159.2,1591.7 L2160.1,1593.0 L2161.0,1594.3 L2161.9,1595.7 L2162.8,1597.0 L2163.8,1598.2 L2164.7,1599.5 L2165.7,1600.8 L2166.6,1602.1 L2167.6,1603.4 L2168.5,1604.7 L2169.5,1605.9 L2170.5,1607.2 L2171.5,1608.4 L2172.5,1609.7 L2173.5,1610.9 L2174.5,1612.2 L2175.5,1613.4 L2176.5,1614.7 L2177.5,1615.9 L2178.6,1617.1 L2179.6,1618.3 L2180.7,1619.5 L2181.7,1620.7 L2182.8,1621.9 L2183.9,1623.1 L2184.9,1624.3 L2186.0,1625.5 L2187.1,1626.7 L2188.2,1627.9 L2189.3,1629.0 L2190.5,1630.2 L2191.6,1631.3 L2192.7,1632.5 L2193.9,1633.6 L2195.0,1634.8 L2196.2,1635.9 L2197.3,1637.0 L2198.5,1638.1 L2199.7,1639.2 L2200.9,1640.3 L2202.1,1641.4 L2203.3,1642.5 L2204.5,1643.6 L2205.7,1644.7 L2206.9,1645.7 L2208.2,1646.8 L2209.4,1647.8 L2210.7,1648.8 L2211.9,1649.8 L2213.2,1650.8 L2214.5,1651.8 L2215.8,1652.7 L2217.1,1653.7 L2218.4,1654.6 L2219.7,1655.5 L2221.0,1656.3 L2222.4,1657.2 L2223.7,1658.0 L2225.1,1658.8 L2226.4,1659.6 L2227.8,1660.4 L2229.2,1661.1 L2230.6,1661.8 L2232.0,1662.5 L2233.4,1663.1 L2234.8,1663.7 L2236.3,1664.3 L2237.7,1664.9 L2239.2,1665.4 L2240.6,1665.9 L2242.1,1666.3 L2243.6,1666.3 L2245.1,1666.3 L2246.6,1666.3 L2248.1,1666.3 L2249.6,1666.3 L2251.1,1666.3 L2252.7,1666.3 L2254.2,1666.3 L2255.8,1666.3 L2257.4,1666.3 L2258.9,1666.3 L2260.5,1666.3 L2262.1,1666.3 L2263.7,1666.3 L2265.4,1666.3 L2267.0,1666.3 L2268.7,1666.3 L2270.3,1666.3 L2272.0,1666.3 L2273.7,1666.3 L2275.4,1666.3 L2277.1,1665.9" fill="none" stroke="#050505" stroke-width="5" stroke-linejoin="round"/>
<g stroke="#000" stroke-width="5.5" stroke-dasharray="40 17.5 9 17">
<line x1="1474.2" y1="43.1" x2="1474.2" y2="1667.5"/>
<line x1="1876.1" y1="43.1" x2="1876.1" y2="1667.5"/>
</g>
<g stroke="#000" stroke-width="5"><line x1="268.5" y1="1667.5" x2="268.5" y2="1635.5"/><line x1="268.5" y1="48.0" x2="268.5" y2="80.0"/><line x1="389.5" y1="1667.5" x2="389.5" y2="1651.5"/><line x1="389.5" y1="48.0" x2="389.5" y2="64.0"/><line x1="460.3" y1="1667.5" x2="460.3" y2="1651.5"/><line x1="460.3" y1="48.0" x2="460.3" y2="64.0"/><line x1="510.5" y1="1667.5" x2="510.5" y2="1651.5"/><line x1="510.5" y1="48.0" x2="510.5" y2="64.0"/><line x1="549.4" y1="1667.5" x2="549.4" y2="1651.5"/><line x1="549.4" y1="48.0" x2="549.4" y2="64.0"/><line x1="581.2" y1="1667.5" x2="581.2" y2="1651.5"/><line x1="581.2" y1="48.0" x2="581.2" y2="64.0"/><line x1="608.1" y1="1667.5" x2="608.1" y2="1651.5"/><line x1="608.1" y1="48.0" x2="608.1" y2="64.0"/><line x1="631.5" y1="1667.5" x2="631.5" y2="1651.5"/><line x1="631.5" y1="48.0" x2="631.5" y2="64.0"/><line x1="652.0" y1="1667.5" x2="652.0" y2="1651.5"/><line x1="652.0" y1="48.0" x2="652.0" y2="64.0"/><line x1="670.4" y1="1667.5" x2="670.4" y2="1635.5"/><line x1="670.4" y1="48.0" x2="670.4" y2="80.0"/><line x1="791.4" y1="1667.5" x2="791.4" y2="1651.5"/><line x1="791.4" y1="48.0" x2="791.4" y2="64.0"/><line x1="862.2" y1="1667.5" x2="862.2" y2="1651.5"/><line x1="862.2" y1="48.0" x2="862.2" y2="64.0"/><line x1="912.4" y1="1667.5" x2="912.4" y2="1651.5"/><line x1="912.4" y1="48.0" x2="912.4" y2="64.0"/><line x1="951.3" y1="1667.5" x2="951.3" y2="1651.5"/><line x1="951.3" y1="48.0" x2="951.3" y2="64.0"/><line x1="983.1" y1="1667.5" x2="983.1" y2="1651.5"/><line x1="983.1" y1="48.0" x2="983.1" y2="64.0"/><line x1="1010.0" y1="1667.5" x2="1010.0" y2="1651.5"/><line x1="1010.0" y1="48.0" x2="1010.0" y2="64.0"/><line x1="1033.4" y1="1667.5" x2="1033.4" y2="1651.5"/><line x1="1033.4" y1="48.0" x2="1033.4" y2="64.0"/><line x1="1053.9" y1="1667.5" x2="1053.9" y2="1651.5"/><line x1="1053.9" y1="48.0" x2="1053.9" y2="64.0"/><line x1="1072.3" y1="1667.5" x2="1072.3" y2="1635.5"/><line x1="1072.3" y1="48.0" x2="1072.3" y2="80.0"/><line x1="1193.3" y1="1667.5" x2="1193.3" y2="1651.5"/><line x1="1193.3" y1="48.0" x2="1193.3" y2="64.0"/><line x1="1264.1" y1="1667.5" x2="1264.1" y2="1651.5"/><line x1="1264.1" y1="48.0" x2="1264.1" y2="64.0"/><line x1="1314.3" y1="1667.5" x2="1314.3" y2="1651.5"/><line x1="1314.3" y1="48.0" x2="1314.3" y2="64.0"/><line x1="1353.2" y1="1667.5" x2="1353.2" y2="1651.5"/><line x1="1353.2" y1="48.0" x2="1353.2" y2="64.0"/><line x1="1385.0" y1="1667.5" x2="1385.0" y2="1651.5"/><line x1="1385.0" y1="48.0" x2="1385.0" y2="64.0"/><line x1="1411.9" y1="1667.5" x2="1411.9" y2="1651.5"/><line x1="1411.9" y1="48.0" x2="1411.9" y2="64.0"/><line x1="1435.3" y1="1667.5" x2="1435.3" y2="1651.5"/><line x1="1435.3" y1="48.0" x2="1435.3" y2="64.0"/><line x1="1455.8" y1="1667.5" x2="1455.8" y2="1651.5"/><line x1="1455.8" y1="48.0" x2="1455.8" y2="64.0"/><line x1="1474.2" y1="1667.5" x2="1474.2" y2="1635.5"/><line x1="1474.2" y1="48.0" x2="1474.2" y2="80.0"/><line x1="1595.2" y1="1667.5" x2="1595.2" y2="1651.5"/><line x1="1595.2" y1="48.0" x2="1595.2" y2="64.0"/><line x1="1666.0" y1="1667.5" x2="1666.0" y2="1651.5"/><line x1="1666.0" y1="48.0" x2="1666.0" y2="64.0"/><line x1="1716.2" y1="1667.5" x2="1716.2" y2="1651.5"/><line x1="1716.2" y1="48.0" x2="1716.2" y2="64.0"/><line x1="1755.1" y1="1667.5" x2="1755.1" y2="1651.5"/><line x1="1755.1" y1="48.0" x2="1755.1" y2="64.0"/><line x1="1786.9" y1="1667.5" x2="1786.9" y2="1651.5"/><line x1="1786.9" y1="48.0" x2="1786.9" y2="64.0"/><line x1="1813.8" y1="1667.5" x2="1813.8" y2="1651.5"/><line x1="1813.8" y1="48.0" x2="1813.8" y2="64.0"/><line x1="1837.2" y1="1667.5" x2="1837.2" y2="1651.5"/><line x1="1837.2" y1="48.0" x2="1837.2" y2="64.0"/><line x1="1857.7" y1="1667.5" x2="1857.7" y2="1651.5"/><line x1="1857.7" y1="48.0" x2="1857.7" y2="64.0"/><line x1="1876.1" y1="1667.5" x2="1876.1" y2="1635.5"/><line x1="1876.1" y1="48.0" x2="1876.1" y2="80.0"/><line x1="1997.1" y1="1667.5" x2="1997.1" y2="1651.5"/><line x1="1997.1" y1="48.0" x2="1997.1" y2="64.0"/><line x1="2067.9" y1="1667.5" x2="2067.9" y2="1651.5"/><line x1="2067.9" y1="48.0" x2="2067.9" y2="64.0"/><line x1="2118.1" y1="1667.5" x2="2118.1" y2="1651.5"/><line x1="2118.1" y1="48.0" x2="2118.1" y2="64.0"/><line x1="2157.0" y1="1667.5" x2="2157.0" y2="1651.5"/><line x1="2157.0" y1="48.0" x2="2157.0" y2="64.0"/><line x1="2188.8" y1="1667.5" x2="2188.8" y2="1651.5"/><line x1="2188.8" y1="48.0" x2="2188.8" y2="64.0"/><line x1="2215.7" y1="1667.5" x2="2215.7" y2="1651.5"/><line x1="2215.7" y1="48.0" x2="2215.7" y2="64.0"/><line x1="2239.1" y1="1667.5" x2="2239.1" y2="1651.5"/><line x1="2239.1" y1="48.0" x2="2239.1" y2="64.0"/><line x1="2259.6" y1="1667.5" x2="2259.6" y2="1651.5"/><line x1="2259.6" y1="48.0" x2="2259.6" y2="64.0"/><line x1="2278.0" y1="1667.5" x2="2278.0" y2="1635.5"/><line x1="2278.0" y1="48.0" x2="2278.0" y2="80.0"/><line x1="268.5" y1="1667.5" x2="300.5" y2="1667.5"/><line x1="2278.0" y1="1667.5" x2="2246.0" y2="1667.5"/><line x1="268.5" y1="1505.5" x2="284.5" y2="1505.5"/><line x1="2278.0" y1="1505.5" x2="2262.0" y2="1505.5"/><line x1="268.5" y1="1343.6" x2="300.5" y2="1343.6"/><line x1="2278.0" y1="1343.6" x2="2246.0" y2="1343.6"/><line x1="268.5" y1="1181.7" x2="284.5" y2="1181.7"/><line x1="2278.0" y1="1181.7" x2="2262.0" y2="1181.7"/><line x1="268.5" y1="1019.7" x2="300.5" y2="1019.7"/><line x1="2278.0" y1="1019.7" x2="2246.0" y2="1019.7"/><line x1="268.5" y1="857.8" x2="284.5" y2="857.8"/><line x1="2278.0" y1="857.8" x2="2262.0" y2="857.8"/><line x1="268.5" y1="695.8" x2="300.5" y2="695.8"/><line x1="2278.0" y1="695.8" x2="2246.0" y2="695.8"/><line x1="268.5" y1="533.8" x2="284.5" y2="533.8"/><line x1="2278.0" y1="533.8" x2="2262.0" y2="533.8"/><line x1="268.5" y1="371.9" x2="300.5" y2="371.9"/><line x1="2278.0" y1="371.9" x2="2246.0" y2="371.9"/><line x1="268.5" y1="210.0" x2="284.5" y2="210.0"/><line x1="2278.0" y1="210.0" x2="2262.0" y2="210.0"/><line x1="268.5" y1="48.0" x2="300.5" y2="48.0"/><line x1="2278.0" y1="48.0" x2="2246.0" y2="48.0"/></g>
<rect x="268.5" y="48.0" width="2009.5" height="1619.5" fill="none" stroke="#000" stroke-width="6"/>
<g font-size="77" fill="#000"><text x="232" y="1690.0" text-anchor="end">0</text><text x="232" y="1366.1" text-anchor="end">20</text><text x="232" y="1042.2" text-anchor="end">40</text><text x="232" y="718.3" text-anchor="end">60</text><text x="232" y="394.4" text-anchor="end">80</text><text x="232" y="70.5" text-anchor="end">100</text><text x="268.5" y="1763" text-anchor="middle">0.01</text><text x="670.4" y="1763" text-anchor="middle">0.1</text><text x="1072.3" y="1763" text-anchor="middle">1</text><text x="1474.2" y="1763" text-anchor="middle">10</text><text x="1876.1" y="1763" text-anchor="middle">100</text><text x="2278.0" y="1763" text-anchor="middle">1000</text></g>
<g font-size="75.5" fill="#000">
<text x="722.2" y="167.5">Micropores</text>
<text x="1509.7" y="168">Mesopores</text>
<text x="1902.3" y="167.5">Macropores</text>
</g>
<rect x="549.3" y="351.4" width="122" height="75" fill="#f9e4dd" stroke="#140a08" stroke-width="4.8"/>
<line x1="549" y1="384.4" x2="672" y2="384.4" stroke="#4a3a33" stroke-width="3.8"/><line x1="549" y1="416.3" x2="672" y2="416.3" stroke="#1e120c" stroke-width="3.8"/>
<rect x="549.3" y="457.9" width="122" height="75" fill="url(#lp2)" stroke="#1c100c" stroke-width="4.8"/>
<rect x="549.3" y="561.9" width="122" height="78.2" fill="url(#lp3)" stroke="#0f2224" stroke-width="4.8"/>
<g font-size="97" fill="#000">
<text x="694.5" y="425.5">S1</text>
<text x="694.5" y="533.3">S2</text>
<text x="694.5" y="638.3">S3</text>
</g>
<g font-size="110" fill="#861f6d">
<text x="1625" y="821">S1</text>
<text x="1624" y="1427">S2</text>
<text x="1117" y="1177">S3</text>
</g>
<g font-size="92" fill="#000">
<text x="1094" y="1907">Time(ms)</text>
<text transform="translate(78.5,855.7) rotate(-90)" text-anchor="middle">Amplitude</text>
</g>
<rect x="0" y="1911" width="2376" height="23" fill="#fff"/>
</svg>
</body></html>
